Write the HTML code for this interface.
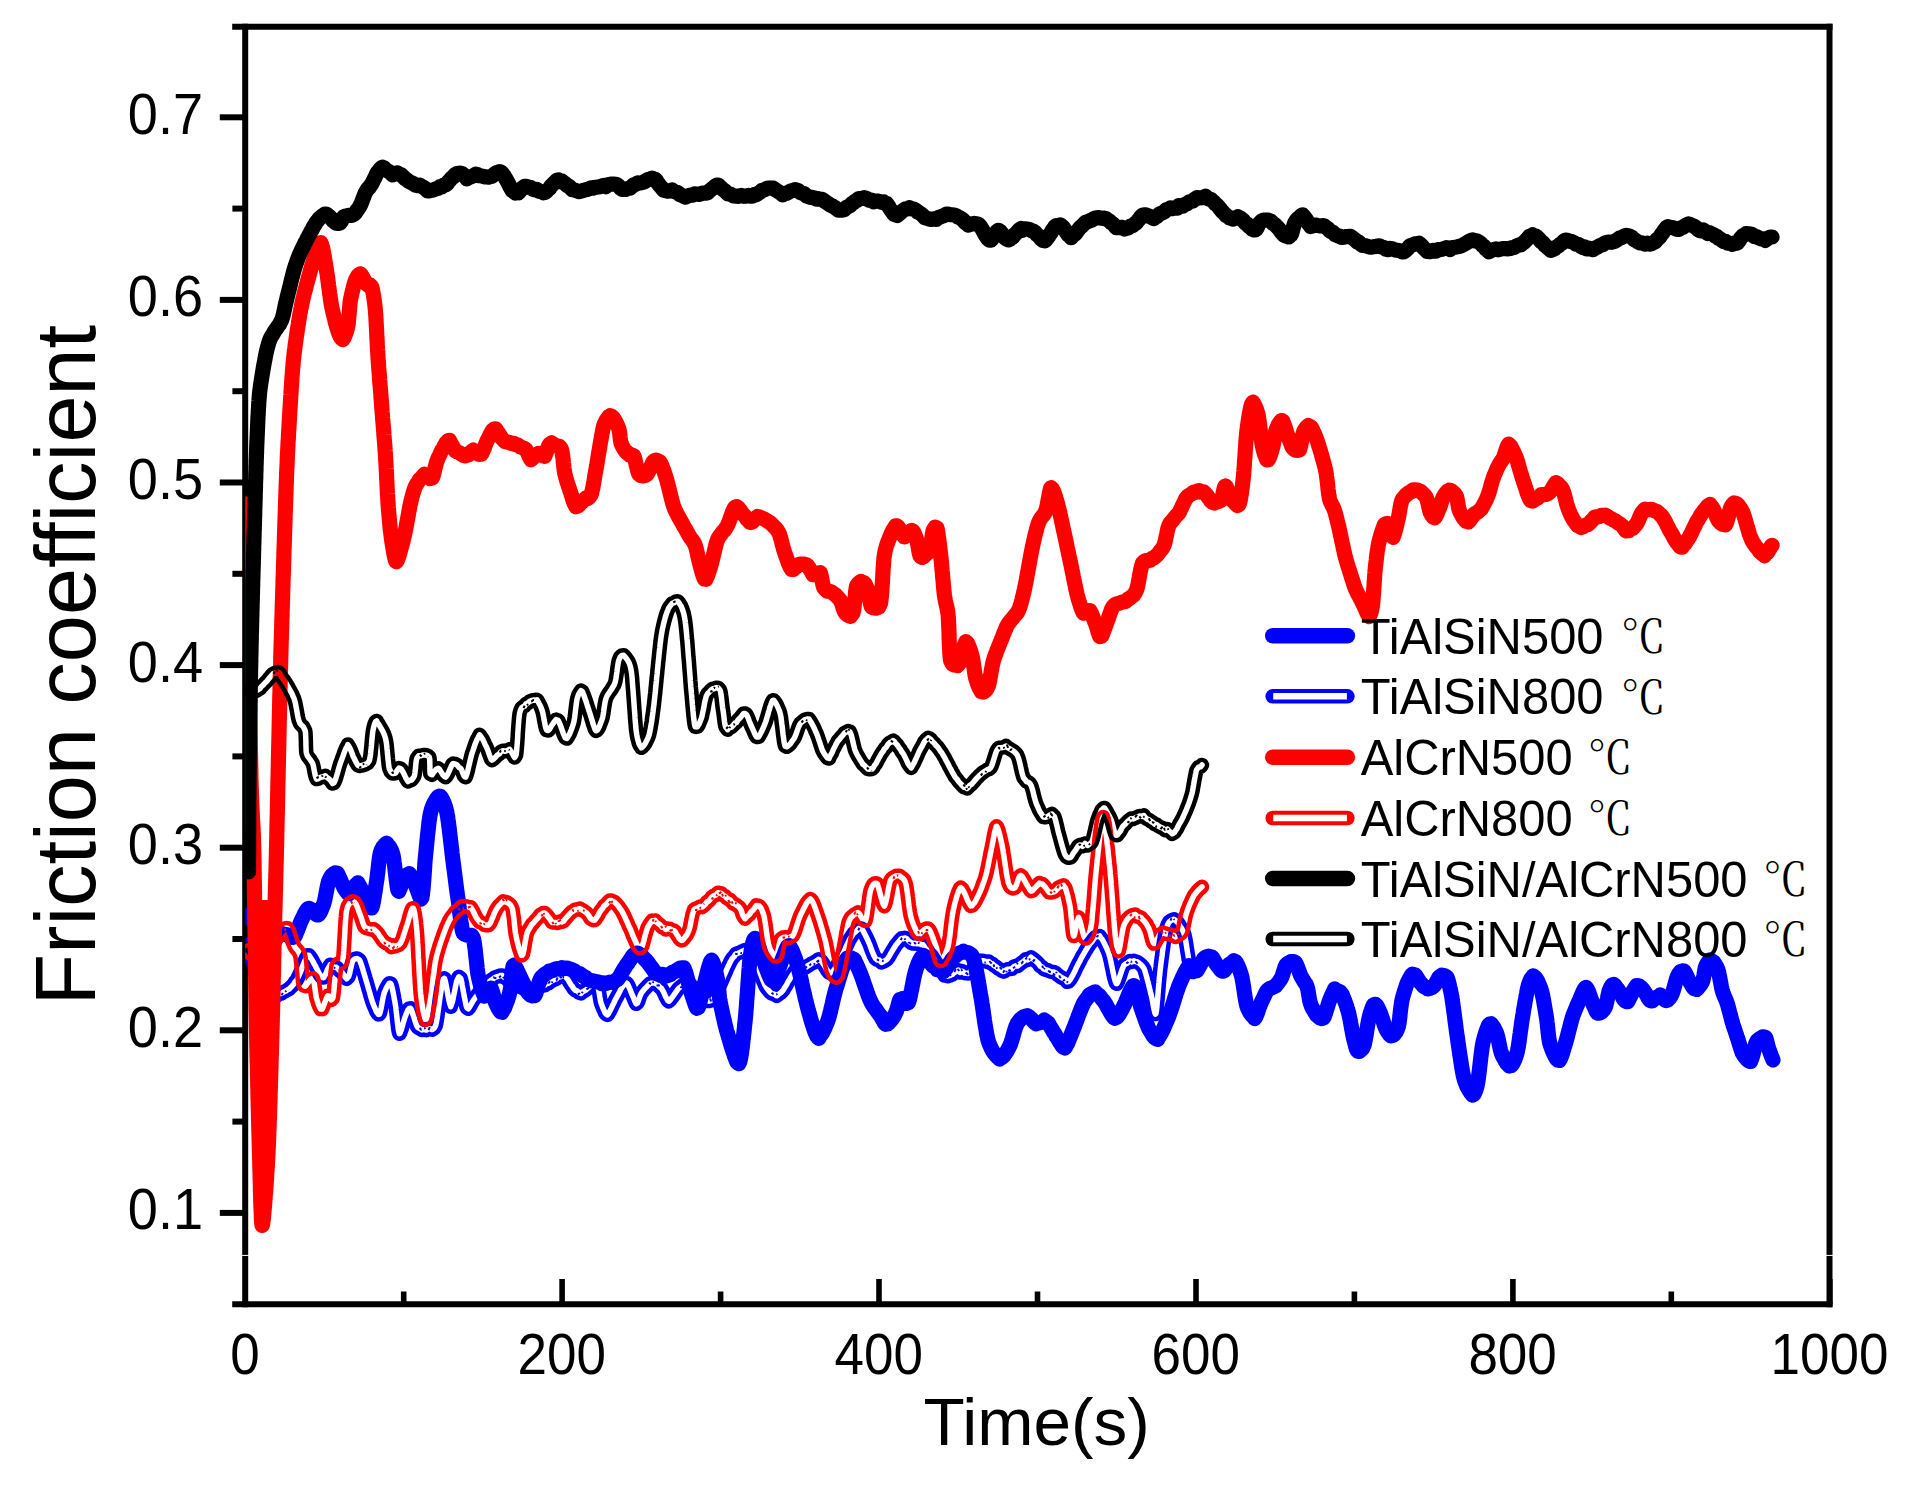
<!DOCTYPE html>
<html lang="en"><head><meta charset="utf-8"><title>Friction coefficient vs Time</title>
<style>html,body{margin:0;padding:0;background:#fff}body{width:1916px;height:1487px;overflow:hidden}</style></head>
<body>
<svg width="1916" height="1487" viewBox="0 0 1916 1487" style="display:block">
<rect width="1916" height="1487" fill="#fff"/>
<g stroke="#000" stroke-width="6" fill="none" stroke-linecap="butt">
<line x1="245.2" y1="23.8" x2="245.2" y2="1307.3"/>
<line x1="1829.5" y1="23.8" x2="1829.5" y2="1307.3"/>
<line x1="232.2" y1="26.8" x2="1832.5" y2="26.8"/>
<line x1="232.2" y1="1304.3" x2="1832.5" y2="1304.3"/>
<line x1="219.8" y1="1212.9" x2="245.2" y2="1212.9"/>
<line x1="219.8" y1="1030.3" x2="245.2" y2="1030.3"/>
<line x1="219.8" y1="847.7" x2="245.2" y2="847.7"/>
<line x1="219.8" y1="665.1" x2="245.2" y2="665.1"/>
<line x1="219.8" y1="482.5" x2="245.2" y2="482.5"/>
<line x1="219.8" y1="299.9" x2="245.2" y2="299.9"/>
<line x1="219.8" y1="117.3" x2="245.2" y2="117.3"/>
<line x1="232.4" y1="1121.6" x2="245.2" y2="1121.6"/>
<line x1="232.4" y1="939.0" x2="245.2" y2="939.0"/>
<line x1="232.4" y1="756.4" x2="245.2" y2="756.4"/>
<line x1="232.4" y1="573.8" x2="245.2" y2="573.8"/>
<line x1="232.4" y1="391.2" x2="245.2" y2="391.2"/>
<line x1="232.4" y1="208.6" x2="245.2" y2="208.6"/>
</g>
<g stroke="#000" stroke-width="5.6" fill="none" stroke-linecap="butt">
<line x1="562.1" y1="1279" x2="562.1" y2="1304.3"/>
<line x1="879.0" y1="1279" x2="879.0" y2="1304.3"/>
<line x1="1196.0" y1="1279" x2="1196.0" y2="1304.3"/>
<line x1="1512.9" y1="1279" x2="1512.9" y2="1304.3"/>
<line x1="1829.8" y1="1279" x2="1829.8" y2="1304.3"/>
<line x1="403.7" y1="1291.5" x2="403.7" y2="1304.3"/>
<line x1="720.6" y1="1291.5" x2="720.6" y2="1304.3"/>
<line x1="1037.5" y1="1291.5" x2="1037.5" y2="1304.3"/>
<line x1="1354.4" y1="1291.5" x2="1354.4" y2="1304.3"/>
<line x1="1671.3" y1="1291.5" x2="1671.3" y2="1304.3"/>
</g>
<clipPath id="plot"><rect x="245.2" y="26.8" width="1584.3" height="1277.5"/></clipPath>
<g clip-path="url(#plot)">
<path d="M246.3 915.4L247.3 915.8L248.7 917.6L250.5 919.0L252.4 920.7L254.5 922.8L256.4 923.9L258.0 924.9L259.7 926.7L261.6 926.4L263.8 926.8L266.1 927.5L268.2 928.6L270.3 929.8L272.0 930.4L274.0 931.2L276.3 932.3L278.8 933.0L281.1 933.2L283.3 934.1L285.0 934.3L287.3 934.9L289.8 936.9L292.1 937.5L294.0 936.9L294.9 936.3L295.8 934.3L296.8 931.9L297.8 929.5L298.8 927.0L299.7 924.4L300.6 922.2L301.4 920.5L302.3 918.6L303.4 916.4L304.5 914.0L305.7 911.8L306.9 910.0L308.0 908.5L309.0 908.4L310.5 909.1L312.4 910.2L314.4 913.0L316.2 914.5L317.7 915.0L318.8 914.5L319.9 912.9L321.0 910.6L322.1 907.9L323.1 905.5L324.0 902.9L324.4 901.4L324.8 899.6L325.3 897.4L325.7 895.0L326.2 892.6L326.7 890.1L327.1 887.7L327.6 885.4L328.1 883.4L328.5 881.6L329.0 880.5L330.2 877.9L331.8 875.4L333.5 874.0L335.2 872.9L336.6 873.3L337.4 873.4L338.4 875.3L339.4 877.4L340.5 879.7L341.5 882.2L342.5 884.6L343.4 886.5L344.1 887.8L345.7 890.3L347.4 892.8L349.1 893.5L350.2 892.1L351.7 890.3L353.4 888.2L355.1 885.4L356.6 884.6L357.9 882.8L358.9 885.0L360.0 886.7L361.2 889.0L362.4 891.3L363.5 893.9L364.5 896.2L365.4 897.7L366.6 900.5L368.0 903.5L369.4 906.3L370.6 907.7L371.7 907.9L372.1 907.1L372.4 905.9L372.9 904.1L373.3 902.1L373.7 899.8L374.1 897.3L374.5 894.7L375.0 892.0L375.4 889.3L375.7 886.8L376.1 884.3L376.4 882.2L376.7 880.3L377.0 878.5L377.2 876.4L377.5 874.1L377.8 871.8L378.1 869.3L378.3 866.8L378.6 864.3L378.9 861.9L379.2 859.6L379.5 857.5L379.8 855.6L380.1 854.0L380.4 852.7L381.4 849.8L382.7 847.4L384.1 845.7L385.5 844.1L386.7 843.2L387.6 845.0L388.7 846.0L389.9 847.3L391.1 849.7L392.1 852.1L393.0 855.2L393.3 856.6L393.6 858.3L393.9 860.5L394.2 862.8L394.6 865.4L394.9 868.1L395.2 870.9L395.6 873.8L395.9 876.6L396.2 879.3L396.6 881.9L396.9 884.3L397.2 886.3L397.5 888.1L397.7 889.5L398.0 890.3L398.9 891.3L399.9 888.8L401.0 885.8L402.0 882.4L403.0 880.1L404.4 878.2L406.1 876.0L407.8 874.5L409.3 873.7L410.2 875.0L411.3 876.7L412.4 878.6L413.5 881.0L414.6 883.4L415.5 885.4L416.5 887.7L417.6 890.9L418.8 894.2L419.9 897.1L421.0 899.1L421.8 897.8L422.0 897.1L422.2 895.9L422.4 894.4L422.6 892.6L422.8 890.6L423.1 888.4L423.3 885.9L423.5 883.4L423.7 880.7L423.9 877.9L424.1 875.1L424.3 872.3L424.5 869.5L424.7 866.8L424.8 864.1L425.0 861.6L425.2 859.3L425.4 857.1L425.6 855.2L425.8 853.3L426.0 851.2L426.2 849.0L426.4 846.7L426.7 844.2L426.9 841.7L427.2 839.1L427.4 836.5L427.7 833.9L428.0 831.3L428.3 828.7L428.6 826.2L428.8 823.8L429.1 821.5L429.4 819.4L429.7 817.4L430.0 815.6L430.3 814.0L430.6 812.6L431.4 809.6L432.4 806.7L433.6 803.9L434.9 801.7L436.1 799.4L437.4 797.7L438.5 796.4L439.4 796.2L440.3 796.3L441.2 797.4L442.2 799.1L443.3 801.1L444.3 803.6L445.3 806.3L446.1 809.4L446.9 812.6L447.1 813.9L447.4 815.4L447.7 817.0L447.9 818.9L448.2 820.9L448.5 823.1L448.8 825.4L449.1 827.8L449.4 830.2L449.7 832.8L450.0 835.3L450.3 837.9L450.6 840.5L450.9 843.1L451.2 845.7L451.5 848.2L451.8 850.7L452.0 853.0L452.3 855.3L452.5 857.4L452.8 859.4L453.0 861.2L453.2 862.8L453.5 864.9L453.8 867.1L454.1 869.4L454.4 871.7L454.7 874.1L455.0 876.5L455.3 878.9L455.6 881.3L455.9 883.7L456.2 886.0L456.5 888.3L456.8 890.6L457.1 892.8L457.4 894.8L457.7 896.8L458.0 898.7L458.2 900.4L458.5 902.4L458.8 904.6L459.0 906.9L459.3 909.4L459.6 911.9L460.0 914.5L460.3 917.1L460.6 919.6L461.0 922.1L461.3 924.4L461.7 926.6L462.0 928.6L462.4 930.4L462.8 931.8L463.2 933.0L464.8 934.3L467.0 935.2L469.4 935.4L471.6 935.4L473.2 937.9L473.5 939.2L473.9 940.7L474.2 942.5L474.5 944.6L474.8 946.9L475.2 949.4L475.4 952.0L475.7 954.7L476.0 957.4L476.3 960.1L476.6 962.8L476.9 965.4L477.1 967.9L477.4 970.2L477.7 972.3L477.9 974.1L478.2 975.6L478.7 978.0L479.3 980.5L479.9 983.0L480.6 985.5L481.3 987.9L482.0 990.1L482.7 992.1L483.3 993.7L484.0 995.1L484.5 996.2L486.0 994.6L487.7 992.0L489.4 989.5L490.8 988.0L491.5 989.2L492.2 991.1L492.9 993.5L493.7 996.4L494.4 999.0L495.1 1001.4L495.8 1003.2L496.8 1005.4L498.1 1008.0L499.5 1010.4L500.8 1011.9L502.0 1012.2L502.7 1010.9L503.5 1009.6L504.5 1008.1L505.4 1005.6L506.4 1003.2L507.4 1000.5L508.2 997.9L509.0 995.5L509.6 993.2L509.9 991.5L510.3 989.5L510.6 987.2L510.8 984.6L511.1 981.9L511.4 979.2L511.6 976.5L511.9 973.9L512.2 971.5L512.5 969.4L512.8 967.6L513.1 966.3L513.4 965.6L514.2 965.1L515.2 966.4L516.4 968.5L517.6 971.1L518.8 973.6L519.9 976.2L520.9 978.2L521.7 979.8L522.7 981.8L523.7 983.8L524.7 986.1L525.7 988.5L526.7 990.5L527.6 992.2L528.4 993.1L530.5 995.2L532.7 995.8L534.7 995.6L535.4 994.4L536.1 992.5L536.8 990.1L537.6 987.4L538.4 984.6L539.2 982.0L540.1 979.6L540.9 978.1L542.2 976.6L543.7 975.2L545.5 973.7L547.4 972.7L549.2 971.1L551.0 970.9L552.7 970.4L554.8 969.3L557.2 968.6L559.6 969.2L562.0 967.7L564.2 968.5L566.0 968.0L568.0 968.3L570.2 969.1L572.4 969.9L574.7 971.1L576.8 973.0L578.6 973.7L580.2 973.9L582.0 975.3L583.9 976.7L585.8 977.5L587.7 979.6L589.5 979.9L591.1 980.9L593.0 980.8L595.1 981.3L597.3 981.8L599.6 982.4L601.7 983.6L603.6 982.9L605.5 983.6L607.7 982.8L610.0 982.2L612.3 982.4L614.5 981.4L616.2 980.0L617.4 979.5L618.7 978.0L620.0 975.8L621.3 973.4L622.7 971.2L623.9 969.0L625.1 967.2L626.2 965.4L627.5 963.8L628.9 961.6L630.4 959.5L632.0 956.9L633.5 954.7L634.9 954.3L636.2 953.2L637.7 953.0L639.4 954.3L641.3 955.3L643.1 957.2L644.8 959.3L646.3 960.5L647.6 962.1L649.0 964.0L650.5 966.0L652.1 968.1L653.6 970.3L655.0 972.3L656.3 973.6L658.1 973.8L660.2 975.3L662.4 974.4L664.5 974.9L666.3 975.8L668.2 975.3L670.3 974.6L672.6 972.0L674.7 971.9L676.4 970.4L678.3 969.2L680.3 968.0L682.2 967.9L683.9 967.8L684.4 969.0L685.0 970.6L685.7 972.5L686.3 974.8L687.0 977.2L687.7 979.8L688.4 982.4L689.1 985.0L689.7 987.5L690.3 989.6L690.9 991.6L691.4 993.2L692.2 995.8L693.2 998.7L694.1 1001.6L695.1 1004.5L696.0 1006.8L696.9 1008.3L697.7 1007.6L698.2 1007.6L698.7 1006.5L699.3 1004.6L699.8 1002.5L700.4 1000.2L701.0 997.6L701.6 994.9L702.2 992.3L702.8 989.8L703.4 987.5L703.9 985.6L704.4 983.7L705.0 981.5L705.6 979.1L706.3 976.5L707.0 973.7L707.7 970.9L708.4 968.3L709.1 966.0L709.8 963.8L710.4 962.1L711.0 961.0L711.5 960.2L712.1 960.8L712.7 962.0L713.4 963.6L714.2 965.8L714.9 968.4L715.6 971.0L716.2 973.8L716.8 976.4L717.3 978.7L717.7 980.6L718.0 982.5L718.3 984.5L718.5 986.7L718.7 988.9L718.9 991.3L719.1 993.7L719.3 996.1L719.6 998.5L720.0 1000.9L720.3 1002.4L720.6 1004.2L721.0 1006.2L721.5 1008.3L722.0 1010.6L722.5 1013.0L723.0 1015.4L723.6 1018.0L724.2 1020.4L724.7 1022.9L725.3 1025.3L725.9 1027.6L726.4 1029.8L727.0 1031.7L727.5 1033.5L728.1 1035.3L728.7 1037.5L729.4 1039.9L730.2 1042.6L731.0 1045.4L731.9 1048.2L732.8 1051.0L733.7 1053.6L734.5 1056.2L735.4 1058.4L736.2 1060.3L737.0 1062.2L737.7 1062.9L738.3 1063.0L738.8 1063.7L739.2 1063.2L739.5 1062.4L739.9 1061.3L740.2 1059.9L740.6 1058.2L740.9 1056.3L741.3 1054.2L741.6 1051.9L741.9 1049.5L742.3 1046.9L742.6 1044.2L742.9 1041.5L743.2 1038.8L743.5 1036.0L743.8 1033.3L744.1 1030.6L744.4 1028.0L744.6 1025.5L744.9 1023.1L745.1 1020.9L745.3 1019.4L745.4 1017.7L745.6 1015.8L745.8 1013.9L745.9 1011.8L746.1 1009.6L746.3 1007.3L746.5 1004.9L746.6 1002.5L746.8 1000.0L747.0 997.5L747.2 994.9L747.4 992.3L747.6 989.7L747.8 987.1L747.9 984.5L748.1 982.0L748.3 979.5L748.5 977.0L748.7 974.7L748.8 972.3L749.0 970.1L749.2 968.0L749.3 966.0L749.5 964.1L749.7 962.4L749.8 960.8L750.0 959.4L750.1 958.2L750.6 954.6L751.1 951.2L751.6 948.1L752.2 945.3L752.8 942.9L753.4 940.9L754.0 939.4L754.5 938.8L755.1 938.4L755.7 938.7L756.3 939.7L757.0 941.4L757.8 943.6L758.6 946.1L759.4 948.8L760.3 951.4L761.1 953.9L761.9 956.2L762.6 958.2L763.3 960.0L764.1 962.3L765.0 964.8L766.0 967.5L767.0 970.2L768.0 972.9L769.1 975.6L770.1 977.6L771.0 979.6L771.9 980.4L772.7 981.0L773.5 980.5L774.4 979.3L775.3 977.6L776.3 975.1L777.4 972.6L778.4 969.8L779.4 967.2L780.4 964.4L781.3 961.9L782.0 959.8L782.7 958.1L783.8 955.6L784.9 952.7L785.9 949.8L787.0 947.5L788.0 945.9L789.0 945.7L789.7 946.2L790.4 947.3L791.3 949.0L792.2 950.6L793.2 953.1L794.1 955.5L795.1 957.9L796.0 960.6L796.9 963.2L797.7 965.8L798.1 967.2L798.5 968.8L799.0 970.6L799.5 972.5L800.0 974.7L800.5 976.9L801.0 979.2L801.6 981.7L802.1 984.2L802.7 986.7L803.2 989.2L803.8 991.7L804.4 994.2L804.9 996.6L805.4 998.9L806.0 1001.1L806.5 1003.1L806.9 1005.0L807.4 1006.9L807.8 1008.3L808.4 1010.6L809.1 1013.0L809.8 1015.3L810.5 1018.0L811.2 1020.6L812.0 1023.2L812.8 1025.6L813.6 1028.2L814.4 1030.5L815.1 1032.4L815.9 1034.2L816.5 1035.6L817.2 1036.6L817.8 1037.3L818.8 1038.4L819.9 1036.3L821.1 1034.8L822.3 1033.2L823.5 1030.7L824.8 1028.2L825.9 1025.5L826.9 1023.1L827.8 1020.9L828.3 1019.5L828.8 1017.7L829.4 1015.7L829.9 1013.6L830.5 1011.4L831.0 1008.9L831.6 1006.5L832.2 1004.1L832.7 1001.6L833.3 999.2L833.8 996.9L834.4 994.6L834.9 992.6L835.4 990.8L835.9 988.9L836.6 986.8L837.3 984.6L838.0 982.1L838.8 979.6L839.6 977.0L840.4 974.4L841.2 971.9L842.0 969.4L842.8 967.3L843.5 965.2L844.2 963.5L844.9 962.0L845.4 960.9L847.3 958.3L849.3 957.4L851.2 958.1L852.9 958.8L853.7 959.0L854.6 960.1L855.5 962.3L856.5 964.1L857.5 966.5L858.5 968.8L859.5 971.2L860.4 973.3L861.0 974.8L861.7 976.6L862.4 978.7L863.2 980.9L864.0 983.4L864.9 985.9L865.8 988.4L866.6 990.8L867.5 993.3L868.3 995.6L869.1 997.6L869.8 999.3L870.5 1000.8L871.6 1003.1L872.9 1005.3L874.3 1007.5L875.7 1009.2L877.1 1011.3L878.4 1013.1L879.6 1014.7L880.5 1015.9L881.8 1018.1L883.1 1020.4L884.3 1022.7L885.6 1024.2L886.8 1023.8L888.0 1023.8L889.5 1021.9L891.2 1020.3L892.9 1018.0L894.4 1015.4L895.5 1013.4L896.3 1011.5L897.0 1009.1L897.8 1006.5L898.5 1003.8L899.2 1001.4L899.9 999.5L900.6 999.5L902.2 998.7L904.2 1001.8L906.3 1003.4L908.1 1003.1L908.5 1002.4L909.0 1001.0L909.5 999.2L910.0 997.1L910.5 994.7L911.0 992.1L911.6 989.5L912.1 986.8L912.7 983.9L913.2 981.2L913.7 978.7L914.2 976.3L914.7 974.2L915.2 972.2L915.6 970.8L916.4 968.4L917.3 965.9L918.2 963.4L919.2 961.2L920.2 959.2L921.2 957.6L922.2 956.5L923.1 955.3L924.5 956.2L926.2 957.9L928.0 959.5L929.9 962.3L931.7 964.5L933.2 966.2L935.0 966.6L937.1 969.6L939.3 969.4L941.4 970.9L943.2 972.1L944.5 969.5L945.9 968.8L947.4 966.3L949.0 964.2L950.5 961.9L951.9 959.7L953.2 958.0L955.0 956.5L957.1 954.5L959.4 952.9L961.5 952.6L963.3 951.2L965.1 952.3L967.3 952.5L969.5 953.5L971.6 955.1L973.3 958.1L973.7 959.4L974.2 960.8L974.6 962.5L975.1 964.5L975.5 966.6L976.0 968.9L976.5 971.3L976.9 973.8L977.4 976.4L977.9 979.0L978.3 981.6L978.8 984.3L979.2 986.8L979.6 989.3L980.0 991.6L980.4 993.9L980.8 995.9L981.1 997.6L981.4 999.4L981.7 1001.4L982.0 1003.6L982.4 1005.8L982.7 1008.2L983.1 1010.6L983.4 1013.1L983.8 1015.7L984.2 1018.2L984.5 1020.7L984.9 1023.2L985.3 1025.7L985.7 1028.1L986.1 1030.3L986.4 1032.5L986.8 1034.5L987.2 1036.4L987.6 1038.2L987.9 1039.7L988.3 1041.0L989.1 1043.5L990.2 1045.9L991.3 1048.4L992.5 1050.7L993.8 1052.8L995.1 1054.3L996.4 1056.0L997.6 1057.2L998.7 1058.2L999.6 1059.0L1000.9 1058.1L1002.4 1057.2L1004.0 1055.6L1005.6 1053.1L1007.2 1050.8L1008.6 1048.2L1009.7 1045.9L1010.4 1044.5L1011.0 1042.7L1011.7 1040.5L1012.4 1038.3L1013.1 1035.7L1013.8 1033.2L1014.5 1030.8L1015.2 1028.6L1015.9 1026.6L1016.6 1025.0L1017.2 1023.5L1018.6 1021.7L1020.3 1019.5L1022.1 1017.9L1024.0 1016.7L1025.8 1016.1L1027.2 1015.7L1028.8 1016.6L1030.7 1018.2L1032.5 1020.2L1034.4 1022.2L1036.0 1023.9L1037.7 1022.8L1039.8 1022.8L1042.0 1022.1L1044.2 1020.1L1046.0 1021.3L1047.1 1022.1L1048.3 1023.0L1049.7 1025.6L1051.1 1027.9L1052.4 1030.0L1053.8 1032.6L1055.0 1034.1L1056.0 1036.2L1057.2 1037.8L1058.4 1039.8L1059.8 1042.3L1061.1 1044.1L1062.5 1046.3L1063.7 1047.4L1064.8 1047.9L1065.6 1046.9L1066.6 1045.1L1067.6 1043.3L1068.6 1040.9L1069.7 1038.2L1070.7 1035.8L1071.7 1033.2L1072.7 1030.7L1073.6 1028.6L1074.3 1026.9L1075.0 1024.8L1075.8 1022.8L1076.7 1020.5L1077.6 1018.1L1078.5 1015.5L1079.5 1013.0L1080.4 1010.7L1081.3 1008.5L1082.1 1006.6L1082.9 1004.7L1083.6 1003.2L1084.9 1001.2L1086.3 999.3L1087.9 997.3L1089.4 994.9L1091.0 993.9L1092.4 993.1L1093.7 992.5L1095.2 991.9L1096.9 993.7L1098.6 994.9L1100.4 996.9L1102.2 999.4L1103.7 1000.9L1104.7 1002.5L1106.0 1004.6L1107.3 1007.1L1108.7 1009.5L1110.1 1011.9L1111.5 1014.3L1112.8 1016.2L1114.0 1017.7L1115.0 1018.3L1116.2 1017.5L1117.5 1016.8L1118.8 1014.9L1120.1 1012.8L1121.4 1010.5L1122.7 1008.1L1123.8 1005.9L1124.6 1004.2L1125.6 1002.1L1126.6 999.5L1127.7 996.9L1128.9 994.0L1130.0 991.4L1131.1 989.4L1132.1 987.4L1133.0 985.9L1133.8 985.7L1134.5 986.0L1135.1 987.3L1135.9 989.1L1136.6 991.3L1137.3 993.8L1138.0 996.5L1138.8 999.1L1139.4 1001.8L1140.1 1004.3L1140.7 1006.6L1141.3 1008.4L1141.9 1010.2L1142.6 1012.2L1143.4 1014.5L1144.2 1016.8L1145.0 1019.1L1145.8 1021.4L1146.6 1023.5L1147.4 1025.3L1148.1 1027.2L1148.8 1028.8L1150.0 1030.7L1151.5 1033.2L1153.0 1035.8L1154.6 1037.7L1156.2 1038.8L1157.6 1039.5L1158.4 1037.7L1159.3 1036.4L1160.4 1034.7L1161.5 1032.8L1162.6 1030.5L1163.8 1028.1L1164.9 1025.4L1166.0 1022.7L1167.1 1020.4L1168.1 1018.0L1168.9 1016.0L1169.5 1014.3L1170.2 1012.3L1170.9 1010.3L1171.7 1008.0L1172.4 1005.7L1173.2 1003.2L1174.0 1000.7L1174.7 998.2L1175.5 995.8L1176.2 993.4L1177.0 991.2L1177.7 989.2L1178.3 987.3L1178.9 985.6L1179.8 983.6L1180.8 981.4L1181.8 979.0L1183.0 976.4L1184.1 974.2L1185.2 971.9L1186.3 970.0L1187.3 968.2L1188.2 967.1L1189.0 965.6L1190.8 967.0L1192.6 968.5L1194.4 970.2L1196.0 970.4L1197.0 970.7L1198.1 968.6L1199.3 966.7L1200.5 964.6L1201.7 962.3L1202.9 960.5L1203.8 958.6L1206.1 956.9L1208.5 956.1L1210.7 956.9L1211.7 956.8L1213.0 958.4L1214.2 960.5L1215.5 962.9L1216.7 964.8L1217.6 965.9L1219.3 968.0L1221.0 970.4L1222.7 971.1L1224.2 970.9L1226.1 968.0L1228.0 966.2L1229.6 963.8L1231.6 963.1L1233.7 960.8L1235.6 961.8L1236.4 962.8L1237.3 964.4L1238.2 966.4L1239.2 968.7L1240.1 971.3L1241.0 973.9L1241.7 976.5L1242.1 978.0L1242.4 980.0L1242.8 982.2L1243.2 984.6L1243.6 987.2L1244.0 989.9L1244.4 992.6L1244.8 995.3L1245.2 997.8L1245.6 1000.2L1246.0 1002.3L1246.4 1004.2L1246.8 1005.6L1247.7 1008.3L1248.8 1010.4L1250.0 1012.8L1251.3 1014.6L1252.5 1016.1L1253.7 1016.8L1254.6 1018.6L1255.4 1017.6L1256.3 1015.6L1257.2 1013.5L1258.1 1010.9L1259.0 1008.2L1259.8 1006.0L1260.6 1004.1L1261.4 1002.1L1262.4 1000.0L1263.5 997.7L1264.6 995.4L1265.6 993.3L1266.6 991.4L1267.5 990.2L1269.7 988.5L1272.2 987.7L1274.4 986.5L1275.7 986.0L1277.2 983.8L1278.7 982.0L1280.1 980.1L1281.3 978.2L1282.0 976.5L1282.7 974.6L1283.4 972.1L1284.2 969.7L1284.9 967.5L1285.7 965.6L1286.5 964.2L1288.3 963.0L1290.8 961.7L1293.2 961.6L1295.1 962.2L1296.0 963.6L1296.9 965.5L1297.8 967.8L1298.7 970.2L1299.6 972.6L1300.4 974.9L1301.1 976.4L1302.2 978.2L1303.5 980.5L1304.9 982.8L1306.1 984.3L1307.1 986.8L1307.6 988.4L1308.0 990.5L1308.4 992.8L1308.8 995.3L1309.2 997.8L1309.6 1000.2L1310.1 1002.3L1310.6 1003.9L1311.5 1006.3L1312.6 1008.5L1313.9 1010.5L1315.3 1013.0L1316.5 1015.1L1317.5 1015.9L1319.5 1017.7L1321.6 1018.6L1323.5 1017.9L1324.2 1016.7L1324.9 1014.7L1325.7 1012.4L1326.5 1009.8L1327.4 1007.1L1328.2 1004.5L1328.9 1002.3L1329.5 1000.6L1330.5 998.1L1331.5 995.7L1332.6 993.2L1333.7 991.2L1334.7 988.9L1336.2 990.5L1338.1 990.9L1340.0 991.7L1341.6 993.7L1342.3 994.8L1343.0 996.8L1343.9 998.7L1344.7 1001.0L1345.6 1003.4L1346.4 1005.6L1347.2 1008.2L1347.9 1010.4L1348.5 1012.6L1348.9 1014.3L1349.3 1016.2L1349.8 1018.5L1350.3 1020.8L1350.7 1023.3L1351.2 1025.8L1351.6 1028.4L1352.1 1030.8L1352.5 1033.1L1352.9 1035.2L1353.3 1037.0L1353.6 1038.5L1354.3 1041.2L1355.0 1043.9L1355.7 1046.5L1356.4 1048.9L1357.2 1050.5L1357.9 1051.3L1359.2 1051.5L1360.9 1050.2L1362.6 1048.5L1364.0 1045.3L1364.4 1044.0L1364.7 1042.4L1365.1 1040.4L1365.5 1038.2L1366.0 1035.8L1366.4 1033.2L1366.8 1030.6L1367.2 1028.1L1367.6 1025.6L1368.0 1023.2L1368.4 1021.1L1368.8 1019.2L1369.1 1017.9L1369.7 1015.4L1370.5 1012.9L1371.3 1010.4L1372.1 1008.0L1372.9 1006.2L1373.6 1004.7L1374.3 1004.5L1375.5 1004.3L1376.8 1005.7L1378.2 1008.3L1379.5 1011.2L1380.1 1012.3L1380.8 1014.3L1381.6 1016.7L1382.4 1019.0L1383.3 1021.7L1384.1 1024.3L1384.9 1026.5L1385.7 1028.3L1386.3 1029.8L1387.8 1032.2L1389.4 1034.5L1391.0 1036.0L1392.4 1034.8L1393.5 1035.2L1394.8 1033.6L1396.2 1031.7L1397.4 1029.1L1398.4 1026.4L1398.7 1025.0L1399.0 1023.3L1399.3 1021.2L1399.6 1019.0L1399.9 1016.5L1400.1 1014.0L1400.4 1011.4L1400.7 1008.9L1401.0 1006.5L1401.3 1004.3L1401.6 1002.3L1401.9 1000.6L1402.4 998.5L1403.0 996.2L1403.7 993.8L1404.4 991.5L1405.2 988.9L1405.9 986.8L1406.6 984.7L1407.3 982.9L1407.9 981.6L1409.3 978.8L1410.9 976.1L1412.5 974.1L1413.9 974.6L1415.1 974.7L1416.5 976.8L1418.1 979.3L1419.5 981.7L1420.8 983.1L1422.4 985.1L1424.2 986.9L1426.1 987.3L1427.7 988.9L1430.0 988.3L1432.5 987.2L1434.6 985.3L1435.6 983.7L1436.6 981.6L1437.7 979.6L1438.7 977.7L1439.7 976.6L1441.8 975.1L1444.4 975.6L1446.6 976.8L1447.1 977.6L1447.6 978.9L1448.2 980.7L1448.7 982.7L1449.3 984.9L1449.8 987.3L1450.4 989.7L1450.9 992.2L1451.4 994.7L1451.8 997.1L1452.1 998.6L1452.3 1000.3L1452.6 1002.2L1452.9 1004.3L1453.2 1006.5L1453.5 1008.8L1453.8 1011.2L1454.2 1013.7L1454.5 1016.2L1454.8 1018.7L1455.1 1021.3L1455.5 1023.8L1455.8 1026.2L1456.1 1028.6L1456.4 1030.9L1456.7 1033.0L1457.0 1035.0L1457.3 1036.7L1457.5 1038.6L1457.8 1040.7L1458.1 1042.9L1458.5 1045.2L1458.8 1047.6L1459.2 1050.1L1459.5 1052.5L1459.9 1055.1L1460.3 1057.6L1460.7 1060.2L1461.0 1062.6L1461.4 1065.0L1461.8 1067.4L1462.2 1069.6L1462.5 1071.6L1462.9 1073.5L1463.2 1075.3L1463.6 1076.8L1463.9 1078.1L1464.8 1081.1L1465.9 1083.8L1467.0 1086.6L1468.3 1089.0L1469.5 1090.9L1470.7 1092.7L1471.7 1094.0L1472.5 1095.1L1473.4 1094.6L1474.3 1093.7L1475.2 1091.7L1476.1 1089.3L1476.9 1086.4L1477.6 1083.2L1477.8 1081.9L1478.1 1080.3L1478.3 1078.5L1478.6 1076.4L1478.9 1074.1L1479.2 1071.7L1479.5 1069.1L1479.8 1066.5L1480.1 1063.8L1480.4 1061.1L1480.7 1058.5L1481.0 1055.9L1481.3 1053.4L1481.7 1051.0L1481.9 1048.8L1482.2 1046.8L1482.5 1045.1L1482.8 1043.6L1483.3 1041.1L1484.0 1038.6L1484.7 1036.0L1485.4 1033.6L1486.2 1031.2L1486.9 1029.2L1487.7 1027.2L1488.4 1025.4L1489.1 1024.7L1489.7 1024.1L1491.0 1023.7L1492.5 1025.5L1494.0 1027.9L1495.4 1030.6L1496.6 1033.2L1497.1 1034.7L1497.6 1036.6L1498.1 1038.7L1498.6 1041.0L1499.1 1043.5L1499.6 1046.0L1500.1 1048.4L1500.6 1050.5L1501.2 1052.6L1501.7 1053.9L1502.6 1056.0L1503.8 1058.2L1505.2 1060.7L1506.6 1063.1L1508.0 1064.6L1509.3 1066.1L1510.3 1065.5L1511.2 1065.6L1512.3 1064.5L1513.4 1062.4L1514.5 1060.2L1515.5 1057.6L1516.4 1055.0L1517.2 1052.2L1517.5 1050.9L1517.8 1049.2L1518.2 1047.4L1518.5 1045.4L1518.8 1043.2L1519.2 1040.9L1519.5 1038.4L1519.8 1035.9L1520.2 1033.4L1520.5 1030.9L1520.9 1028.4L1521.2 1026.1L1521.5 1023.8L1521.8 1021.6L1522.1 1019.6L1522.4 1017.8L1522.7 1015.9L1523.1 1013.8L1523.4 1011.5L1523.8 1009.1L1524.3 1006.6L1524.7 1004.0L1525.1 1001.4L1525.6 998.9L1526.0 996.4L1526.5 994.1L1526.9 991.8L1527.3 989.7L1527.7 987.9L1528.1 986.4L1528.4 985.1L1529.5 982.1L1530.7 979.3L1532.0 977.5L1533.3 975.9L1534.4 976.9L1535.2 977.4L1536.2 978.6L1537.3 980.4L1538.4 982.7L1539.5 985.2L1540.5 987.7L1541.3 990.2L1541.7 991.7L1542.1 993.3L1542.5 995.3L1543.0 997.5L1543.4 999.8L1543.9 1002.2L1544.3 1004.7L1544.7 1007.1L1545.1 1009.5L1545.5 1011.8L1545.9 1014.0L1546.2 1016.0L1546.5 1017.8L1546.8 1019.7L1547.0 1021.8L1547.3 1024.0L1547.5 1026.4L1547.8 1028.8L1548.0 1031.2L1548.3 1033.6L1548.6 1035.9L1548.8 1038.1L1549.2 1040.2L1549.5 1042.0L1549.9 1043.6L1550.6 1045.8L1551.4 1048.1L1552.4 1050.5L1553.5 1053.2L1554.7 1055.5L1555.8 1057.8L1556.9 1059.2L1557.8 1060.1L1558.6 1060.0L1559.4 1060.3L1560.3 1059.0L1561.2 1056.8L1562.1 1054.4L1563.0 1051.5L1563.9 1048.6L1564.7 1046.0L1565.4 1043.6L1565.9 1042.0L1566.4 1040.0L1567.0 1038.0L1567.6 1035.6L1568.2 1033.2L1568.8 1030.7L1569.5 1028.2L1570.1 1025.8L1570.7 1023.4L1571.3 1021.3L1571.8 1019.4L1572.3 1017.8L1573.0 1015.5L1573.9 1013.2L1574.8 1010.9L1575.8 1008.7L1576.7 1006.3L1577.6 1004.2L1578.5 1002.3L1579.2 1000.7L1580.1 998.6L1581.1 996.2L1582.1 993.7L1583.2 991.2L1584.2 989.3L1585.2 987.9L1586.1 987.4L1586.9 988.5L1587.7 989.8L1588.7 992.0L1589.6 994.7L1590.6 997.5L1591.5 1000.1L1592.3 1002.3L1593.0 1004.1L1594.0 1006.3L1595.1 1008.6L1596.1 1011.1L1597.2 1013.0L1598.2 1013.2L1599.7 1013.0L1601.7 1012.0L1603.6 1009.9L1605.1 1007.5L1605.7 1006.1L1606.2 1003.9L1606.8 1001.5L1607.4 998.9L1607.9 996.2L1608.5 993.8L1608.9 991.6L1609.4 990.3L1610.7 987.3L1612.2 984.9L1613.7 984.4L1614.8 985.4L1616.3 987.5L1617.9 989.3L1619.4 991.8L1620.6 993.4L1621.7 995.4L1623.0 998.0L1624.3 1000.0L1625.5 1001.1L1626.6 1001.6L1627.7 1001.7L1629.0 999.3L1630.3 996.7L1631.6 994.1L1632.6 991.9L1633.8 990.0L1635.2 987.6L1636.5 985.6L1637.8 985.6L1639.3 986.0L1641.2 987.6L1643.1 989.7L1644.7 991.9L1645.8 993.6L1647.0 995.7L1648.2 998.1L1649.4 999.9L1650.7 1000.8L1652.3 1000.8L1654.3 998.8L1656.6 997.3L1658.6 996.9L1660.2 994.9L1661.8 996.3L1663.4 998.3L1664.9 1000.0L1666.2 1000.6L1667.6 1000.1L1669.2 998.5L1670.9 996.1L1672.2 993.7L1672.8 992.1L1673.4 990.1L1674.1 987.6L1674.8 985.0L1675.5 982.4L1676.2 980.0L1676.8 978.0L1677.4 976.5L1678.7 973.9L1680.4 971.7L1682.0 971.1L1683.4 970.8L1684.3 971.2L1685.3 973.1L1686.5 975.3L1687.6 977.8L1688.6 980.0L1689.5 981.4L1690.9 983.6L1692.5 986.6L1694.1 988.7L1695.5 988.9L1696.7 989.4L1698.3 987.6L1699.9 985.7L1701.3 983.8L1702.4 981.7L1703.0 980.0L1703.5 977.7L1704.0 975.1L1704.4 972.4L1704.9 969.9L1705.3 967.7L1705.8 966.2L1706.9 963.9L1708.2 962.1L1709.7 960.0L1711.0 960.8L1712.2 961.0L1713.7 962.0L1715.3 964.7L1716.8 967.2L1717.9 969.6L1718.3 971.0L1718.8 972.9L1719.2 975.0L1719.7 977.3L1720.1 979.7L1720.6 982.1L1721.0 984.5L1721.4 986.7L1721.8 988.6L1722.2 990.2L1722.8 992.2L1723.5 994.1L1724.3 996.2L1725.2 998.3L1726.0 1000.1L1726.7 1002.1L1727.4 1004.0L1727.9 1005.7L1728.4 1007.7L1729.0 1009.8L1729.6 1012.2L1730.3 1014.6L1730.9 1017.0L1731.5 1019.3L1732.0 1021.3L1732.5 1022.9L1733.1 1025.2L1733.9 1027.3L1734.7 1029.7L1735.5 1032.1L1736.3 1034.4L1737.0 1036.6L1737.7 1038.5L1738.3 1040.5L1739.0 1042.9L1739.8 1045.4L1740.6 1048.0L1741.4 1050.4L1742.1 1052.5L1742.9 1053.7L1744.2 1056.0L1745.9 1058.0L1747.6 1060.0L1749.3 1061.3L1750.6 1061.4L1751.3 1059.6L1752.0 1057.9L1752.7 1055.6L1753.4 1052.8L1754.1 1050.0L1754.7 1047.4L1755.3 1045.2L1755.8 1043.5L1757.2 1040.8L1758.7 1039.5L1760.1 1038.5L1762.7 1036.8L1765.2 1037.2L1765.8 1037.8L1766.4 1039.7L1767.0 1042.2L1767.6 1044.6L1768.2 1046.9L1768.7 1048.8L1769.5 1050.8L1770.5 1053.6L1771.5 1056.3L1772.4 1058.6L1773.0 1060.0" fill="none" stroke="#0000ff" stroke-width="15.2" stroke-linecap="round" stroke-linejoin="round"/>
<mask id="hm1" maskUnits="userSpaceOnUse" x="0" y="0" width="1916" height="1487"><rect width="1916" height="1487" fill="#fff"/><path d="M247.0 945.0L247.4 946.0L247.8 947.4L248.4 949.0L249.0 950.8L249.8 953.1L250.5 955.4L251.4 957.8L252.2 960.3L253.1 962.7L254.0 965.1L254.9 967.4L255.7 969.7L256.5 971.7L257.3 973.6L258.0 975.1L259.0 976.8L260.1 979.1L261.4 981.2L262.7 983.6L264.1 986.0L265.5 987.9L266.9 989.4L268.3 991.8L269.6 992.6L270.9 994.8L272.0 994.7L273.9 995.4L276.2 996.4L278.7 993.7L281.3 993.6L283.7 991.9L285.9 990.9L287.6 989.7L289.1 989.2L290.6 987.4L292.2 985.9L293.7 984.2L295.1 981.7L296.5 980.4L297.7 978.1L298.5 976.4L299.4 974.5L300.3 972.4L301.3 969.8L302.3 967.0L303.3 964.5L304.3 962.0L305.3 959.8L306.2 957.8L307.0 956.6L307.7 955.2L308.9 955.2L310.2 957.0L311.6 959.0L312.9 961.3L314.1 963.8L315.2 965.6L316.1 967.4L317.2 969.5L318.4 971.9L319.6 974.3L320.8 976.1L321.9 977.4L322.8 976.7L323.7 977.6L324.8 975.8L325.9 973.6L327.0 970.8L328.1 968.5L329.3 966.5L330.3 964.7L332.0 966.2L334.2 967.1L336.4 967.3L338.6 969.6L340.3 971.2L341.8 971.9L343.5 974.6L345.1 977.0L346.6 978.9L347.8 977.5L348.4 977.0L349.1 975.2L349.8 972.7L350.4 969.8L351.1 966.9L351.7 964.2L352.3 962.1L352.9 960.5L354.8 958.9L357.1 958.5L359.1 959.7L359.7 960.4L360.4 962.0L361.1 964.0L361.8 966.2L362.6 968.6L363.3 971.1L364.1 973.7L364.8 976.0L365.4 978.1L365.9 979.7L366.5 981.8L367.1 983.8L367.8 986.2L368.4 988.6L369.2 991.0L369.9 993.5L370.5 995.9L371.2 998.1L371.8 1000.0L372.4 1001.9L372.9 1003.3L373.9 1005.8L375.0 1008.3L376.2 1011.2L377.3 1013.0L378.3 1014.4L379.2 1014.3L379.7 1013.6L380.2 1012.2L380.7 1010.1L381.2 1007.7L381.7 1004.9L382.2 1002.1L382.7 999.4L383.2 996.9L383.7 994.8L384.2 993.1L385.3 990.3L386.6 987.4L388.1 984.9L389.4 983.2L390.5 983.5L390.9 983.9L391.4 985.1L391.9 986.9L392.4 989.0L392.9 991.3L393.4 993.8L393.9 996.4L394.3 998.9L394.8 1001.4L395.2 1003.7L395.5 1005.7L395.8 1007.5L396.0 1009.6L396.3 1012.0L396.6 1014.6L396.9 1017.4L397.2 1020.1L397.5 1022.9L397.8 1025.4L398.1 1027.8L398.4 1029.9L398.7 1031.5L399.0 1032.6L399.3 1033.7L399.9 1033.5L400.6 1031.4L401.5 1029.3L402.3 1026.3L403.2 1023.1L404.1 1020.1L404.9 1017.4L405.5 1015.9L406.7 1012.8L407.9 1010.0L409.2 1008.5L410.5 1008.2L411.1 1009.1L411.7 1010.6L412.4 1012.7L413.2 1015.2L414.1 1017.8L414.9 1020.6L415.7 1023.0L416.6 1025.4L417.4 1026.9L418.1 1027.7L419.8 1028.4L422.0 1029.9L424.2 1029.3L426.4 1030.1L428.1 1028.7L430.0 1028.7L432.1 1029.6L434.1 1028.3L435.6 1025.9L435.9 1024.7L436.3 1023.1L436.6 1021.1L437.0 1019.0L437.4 1016.6L437.7 1014.1L438.1 1011.4L438.5 1008.7L438.8 1006.0L439.2 1003.4L439.5 1000.9L439.8 998.6L440.1 996.4L440.4 994.7L440.6 993.2L441.1 990.3L441.6 987.1L442.2 984.1L442.7 981.3L443.3 979.2L443.8 978.6L444.4 978.3L444.7 978.9L445.1 980.4L445.6 982.5L446.1 985.0L446.6 987.9L447.2 990.9L447.7 993.9L448.3 996.9L448.8 999.7L449.3 1002.0L449.8 1004.0L450.3 1005.2L450.7 1006.8L451.1 1005.5L451.6 1004.2L452.2 1002.5L452.8 1000.2L453.3 997.5L453.9 994.7L454.5 991.7L455.1 988.8L455.6 986.1L456.1 983.8L456.5 981.8L456.9 980.7L458.8 976.8L460.7 978.4L461.0 979.2L461.4 980.8L461.8 982.8L462.2 985.2L462.7 987.7L463.2 990.5L463.7 993.4L464.2 996.2L464.8 999.0L465.3 1001.6L465.7 1003.9L466.2 1005.8L466.6 1007.2L467.0 1007.9L468.3 1008.8L469.8 1006.7L471.5 1003.7L473.2 1000.6L474.1 999.5L475.2 997.8L476.5 996.2L477.9 994.1L479.4 992.0L480.8 989.8L482.3 987.7L483.7 986.3L485.0 985.0L486.6 984.1L488.5 982.5L490.6 980.6L492.8 979.1L495.0 977.3L497.2 976.6L499.1 976.0L500.8 975.4L502.4 975.4L504.2 977.4L506.0 977.7L507.9 980.2L509.9 981.6L511.7 983.3L513.4 983.7L515.0 985.3L516.8 985.3L518.9 986.7L521.1 987.1L523.4 988.4L525.8 989.2L528.0 990.5L530.0 990.7L531.7 989.6L533.6 989.1L535.8 988.1L538.1 987.1L540.4 985.8L542.7 985.6L544.9 985.1L546.8 983.5L548.5 983.3L550.3 981.7L552.3 980.6L554.3 979.5L556.4 978.8L558.5 977.0L560.4 976.7L562.1 975.5L563.5 975.0L565.0 975.7L566.5 977.9L568.1 979.9L569.6 982.6L571.1 984.9L572.4 986.5L573.5 988.4L575.3 990.3L577.1 990.8L579.0 992.5L581.1 993.4L582.5 991.9L584.3 990.9L586.5 989.6L588.7 987.5L591.0 985.7L593.1 984.3L594.8 982.7L596.1 984.4L596.9 984.1L597.6 985.8L598.2 988.0L598.8 990.7L599.3 993.5L599.7 996.4L600.2 999.1L600.6 1001.5L601.1 1003.3L602.0 1005.6L603.0 1008.2L604.1 1010.7L605.2 1013.1L606.3 1014.2L607.4 1014.9L608.3 1013.8L609.3 1012.0L610.4 1010.1L611.6 1007.6L612.8 1004.9L614.1 1002.4L615.2 999.9L616.2 998.2L617.2 996.3L618.4 994.1L619.8 991.5L621.1 988.7L622.5 986.5L623.9 984.6L625.1 983.1L626.2 982.9L627.1 983.5L628.1 985.2L629.2 987.5L630.3 990.1L631.4 993.0L632.6 995.6L633.7 998.3L634.6 1000.6L635.5 1002.6L636.2 1003.8L637.3 1003.2L638.3 1001.1L639.2 998.4L640.2 995.5L641.3 993.2L642.6 991.6L644.2 989.4L646.1 987.4L648.0 985.6L649.8 983.7L651.3 983.2L653.1 982.9L655.3 983.3L657.5 984.6L659.6 987.0L661.3 988.2L662.3 989.8L663.4 991.7L664.5 994.1L665.6 996.6L666.7 998.6L667.8 1000.6L668.8 1001.3L670.0 1000.3L671.4 998.4L672.9 996.4L674.5 994.2L676.1 991.9L677.6 989.6L678.9 988.2L680.7 986.8L682.8 985.1L685.0 983.6L687.1 982.3L688.9 983.8L690.0 984.0L691.2 985.6L692.4 987.8L693.8 990.1L695.1 992.5L696.4 994.7L697.7 997.0L698.9 997.7L700.7 999.4L702.9 999.7L705.3 1000.0L707.7 1001.0L709.8 1000.9L711.5 1000.4L712.6 1000.2L713.6 998.3L714.7 996.4L715.8 994.4L716.8 992.0L717.9 989.7L718.9 987.1L720.0 985.1L720.7 983.4L721.5 981.6L722.4 979.6L723.4 977.2L724.4 974.8L725.5 972.4L726.6 969.9L727.7 967.3L728.7 965.3L729.8 962.9L730.8 961.0L731.7 959.4L732.5 958.2L734.1 956.6L735.9 953.9L737.9 953.3L739.9 952.5L741.9 951.4L743.6 950.8L745.1 950.0L746.7 951.3L748.4 952.0L750.2 953.8L751.9 955.3L753.6 957.7L755.0 960.0L755.7 961.2L756.5 963.2L757.3 965.2L758.2 967.4L759.1 969.9L760.0 972.5L760.9 975.0L761.8 977.4L762.7 979.8L763.5 981.7L764.3 983.4L765.0 985.2L766.5 987.7L768.3 990.0L770.1 992.2L772.0 993.6L773.6 993.9L775.0 994.7L776.8 995.8L778.7 994.2L780.7 992.8L782.7 990.8L783.5 989.8L784.5 987.9L785.6 986.3L786.8 984.3L788.1 981.7L789.4 979.9L790.6 977.6L791.9 975.2L793.1 973.8L794.2 972.0L795.2 971.0L797.1 970.0L799.2 967.0L801.5 967.6L803.8 967.5L805.9 967.2L807.8 965.8L809.7 964.8L811.9 963.3L814.2 962.3L816.5 960.9L818.6 959.3L820.3 960.5L821.7 961.5L823.1 963.6L824.7 966.1L826.2 968.7L827.7 971.1L829.1 972.7L830.3 973.1L831.5 972.5L832.9 971.4L834.4 969.4L835.9 967.1L837.4 964.9L838.8 962.2L840.0 959.9L840.8 958.3L841.7 956.6L842.6 954.4L843.6 952.5L844.7 950.2L845.7 947.7L846.7 945.4L847.8 943.3L848.7 941.3L849.6 939.3L850.4 938.2L851.9 935.9L853.7 933.3L855.5 931.9L857.4 930.0L859.0 928.2L860.4 928.2L861.5 928.6L862.6 930.0L863.7 931.9L864.9 934.3L866.0 936.5L867.1 938.7L868.0 940.6L868.7 942.3L869.5 944.1L870.3 946.3L871.2 948.8L872.1 951.2L873.0 953.3L873.8 955.4L874.7 957.0L875.5 958.5L877.2 959.9L879.3 960.1L881.5 962.4L883.7 961.4L885.5 960.4L886.6 959.7L887.9 958.2L889.2 956.3L890.6 953.7L892.0 951.3L893.3 949.3L894.5 947.4L895.5 945.6L897.0 943.8L898.5 941.9L900.1 940.0L901.6 938.4L903.1 938.8L904.8 937.9L906.9 938.7L909.1 941.2L911.3 942.8L913.1 943.6L914.9 943.2L917.0 943.8L919.2 943.6L921.3 944.5L923.1 944.7L924.3 946.5L925.7 948.7L927.3 949.9L928.8 952.6L930.3 954.4L931.8 955.9L933.2 958.4L934.2 959.4L935.3 961.5L936.6 963.4L937.9 965.6L939.3 967.8L940.7 969.8L942.1 971.9L943.4 973.6L944.6 975.6L945.7 975.5L947.6 976.2L949.8 975.6L952.1 974.6L954.4 972.5L956.5 971.5L958.2 970.2L960.1 972.5L962.2 971.2L964.3 973.0L966.4 973.3L968.3 973.4L969.6 972.2L971.1 970.8L972.8 969.4L974.6 967.3L976.3 965.0L978.0 963.1L979.5 961.7L980.8 960.8L982.7 960.7L984.7 961.2L986.8 961.7L988.9 961.6L990.8 963.3L992.3 963.7L994.0 965.5L996.0 966.6L998.0 968.3L1000.0 969.4L1001.8 970.8L1003.4 971.6L1005.2 970.8L1007.3 969.2L1009.5 969.1L1011.8 968.9L1013.9 966.5L1015.9 965.8L1017.5 966.1L1019.3 964.6L1021.3 962.9L1023.5 961.4L1025.6 959.4L1027.6 959.9L1029.4 958.9L1031.0 957.2L1032.7 958.7L1034.5 960.0L1036.4 961.7L1038.3 963.4L1040.2 966.2L1042.0 966.8L1043.5 968.9L1045.4 969.6L1047.5 970.1L1049.7 971.2L1052.0 972.1L1054.1 972.1L1056.0 973.1L1057.6 974.8L1059.4 976.1L1061.4 977.5L1063.4 978.5L1065.4 979.4L1067.1 981.8L1068.6 981.6L1069.6 980.2L1070.8 978.7L1071.9 976.7L1073.1 974.6L1074.3 972.2L1075.5 969.7L1076.6 967.2L1077.7 965.1L1078.6 963.2L1079.6 961.6L1080.6 959.5L1081.8 957.2L1083.0 955.1L1084.3 953.0L1085.5 950.7L1086.7 949.0L1087.7 947.0L1088.7 945.8L1090.2 943.5L1091.9 941.6L1093.7 938.9L1095.5 937.0L1097.2 936.4L1098.7 936.6L1099.7 936.0L1100.8 937.9L1102.0 939.1L1103.2 941.2L1104.4 943.5L1105.7 946.2L1106.8 948.4L1107.8 951.0L1108.7 953.2L1109.2 954.8L1109.7 956.8L1110.3 959.2L1110.9 961.7L1111.4 964.4L1112.0 967.2L1112.6 970.0L1113.1 972.7L1113.7 975.3L1114.2 977.7L1114.8 979.7L1115.3 981.4L1115.8 982.7L1116.2 983.5L1116.9 983.7L1117.7 982.2L1118.5 980.1L1119.4 977.6L1120.3 974.9L1121.2 972.1L1122.1 969.5L1123.0 967.4L1123.8 965.3L1125.5 963.9L1127.6 962.9L1129.8 961.0L1132.0 961.9L1133.8 960.8L1135.3 961.5L1137.1 961.8L1138.9 963.1L1140.8 964.5L1142.4 966.3L1143.8 968.1L1144.4 969.4L1145.0 971.2L1145.6 973.3L1146.2 975.4L1146.9 977.8L1147.5 980.4L1148.2 982.9L1148.8 985.4L1149.4 987.9L1150.0 990.3L1150.5 992.4L1151.0 994.3L1151.4 995.9L1152.0 998.5L1152.6 1001.6L1153.2 1005.0L1153.8 1008.2L1154.4 1010.9L1154.9 1012.9L1155.4 1014.1L1155.9 1013.6L1156.1 1012.7L1156.3 1011.6L1156.5 1010.1L1156.7 1008.4L1156.9 1006.4L1157.1 1004.2L1157.3 1001.8L1157.6 999.2L1157.8 996.5L1158.0 993.7L1158.3 990.9L1158.5 988.0L1158.7 985.2L1159.0 982.5L1159.2 979.8L1159.4 977.3L1159.7 974.9L1159.9 972.7L1160.1 970.8L1160.3 969.0L1160.6 967.0L1160.8 964.9L1161.1 962.7L1161.4 960.3L1161.7 957.9L1162.1 955.4L1162.4 952.9L1162.7 950.3L1163.1 947.8L1163.4 945.3L1163.8 942.9L1164.1 940.5L1164.5 938.3L1164.8 936.1L1165.2 934.2L1165.5 932.4L1165.8 930.7L1166.1 929.4L1166.4 928.3L1167.7 924.5L1169.2 921.9L1170.8 920.6L1172.4 919.9L1173.9 919.2L1174.9 919.9L1176.2 921.0L1177.6 922.3L1179.0 924.5L1180.5 927.0L1181.8 928.6L1183.0 931.1L1183.9 933.1L1184.4 934.7L1184.8 936.4L1185.3 938.6L1185.7 940.9L1186.1 943.3L1186.5 945.8L1186.9 948.4L1187.3 951.0L1187.7 953.4L1188.1 955.6L1188.4 957.7L1188.7 959.4L1189.0 960.8L1189.8 963.8L1190.8 966.7L1191.7 969.0L1192.5 970.8L1193.0 972.0" fill="none" stroke="#000" stroke-width="5.5" stroke-linecap="round" stroke-linejoin="round"/></mask>
<path d="M247.0 945.0L247.4 946.0L247.8 947.4L248.4 949.0L249.0 950.8L249.8 953.1L250.5 955.4L251.4 957.8L252.2 960.3L253.1 962.7L254.0 965.1L254.9 967.4L255.7 969.7L256.5 971.7L257.3 973.6L258.0 975.1L259.0 976.8L260.1 979.1L261.4 981.2L262.7 983.6L264.1 986.0L265.5 987.9L266.9 989.4L268.3 991.8L269.6 992.6L270.9 994.8L272.0 994.7L273.9 995.4L276.2 996.4L278.7 993.7L281.3 993.6L283.7 991.9L285.9 990.9L287.6 989.7L289.1 989.2L290.6 987.4L292.2 985.9L293.7 984.2L295.1 981.7L296.5 980.4L297.7 978.1L298.5 976.4L299.4 974.5L300.3 972.4L301.3 969.8L302.3 967.0L303.3 964.5L304.3 962.0L305.3 959.8L306.2 957.8L307.0 956.6L307.7 955.2L308.9 955.2L310.2 957.0L311.6 959.0L312.9 961.3L314.1 963.8L315.2 965.6L316.1 967.4L317.2 969.5L318.4 971.9L319.6 974.3L320.8 976.1L321.9 977.4L322.8 976.7L323.7 977.6L324.8 975.8L325.9 973.6L327.0 970.8L328.1 968.5L329.3 966.5L330.3 964.7L332.0 966.2L334.2 967.1L336.4 967.3L338.6 969.6L340.3 971.2L341.8 971.9L343.5 974.6L345.1 977.0L346.6 978.9L347.8 977.5L348.4 977.0L349.1 975.2L349.8 972.7L350.4 969.8L351.1 966.9L351.7 964.2L352.3 962.1L352.9 960.5L354.8 958.9L357.1 958.5L359.1 959.7L359.7 960.4L360.4 962.0L361.1 964.0L361.8 966.2L362.6 968.6L363.3 971.1L364.1 973.7L364.8 976.0L365.4 978.1L365.9 979.7L366.5 981.8L367.1 983.8L367.8 986.2L368.4 988.6L369.2 991.0L369.9 993.5L370.5 995.9L371.2 998.1L371.8 1000.0L372.4 1001.9L372.9 1003.3L373.9 1005.8L375.0 1008.3L376.2 1011.2L377.3 1013.0L378.3 1014.4L379.2 1014.3L379.7 1013.6L380.2 1012.2L380.7 1010.1L381.2 1007.7L381.7 1004.9L382.2 1002.1L382.7 999.4L383.2 996.9L383.7 994.8L384.2 993.1L385.3 990.3L386.6 987.4L388.1 984.9L389.4 983.2L390.5 983.5L390.9 983.9L391.4 985.1L391.9 986.9L392.4 989.0L392.9 991.3L393.4 993.8L393.9 996.4L394.3 998.9L394.8 1001.4L395.2 1003.7L395.5 1005.7L395.8 1007.5L396.0 1009.6L396.3 1012.0L396.6 1014.6L396.9 1017.4L397.2 1020.1L397.5 1022.9L397.8 1025.4L398.1 1027.8L398.4 1029.9L398.7 1031.5L399.0 1032.6L399.3 1033.7L399.9 1033.5L400.6 1031.4L401.5 1029.3L402.3 1026.3L403.2 1023.1L404.1 1020.1L404.9 1017.4L405.5 1015.9L406.7 1012.8L407.9 1010.0L409.2 1008.5L410.5 1008.2L411.1 1009.1L411.7 1010.6L412.4 1012.7L413.2 1015.2L414.1 1017.8L414.9 1020.6L415.7 1023.0L416.6 1025.4L417.4 1026.9L418.1 1027.7L419.8 1028.4L422.0 1029.9L424.2 1029.3L426.4 1030.1L428.1 1028.7L430.0 1028.7L432.1 1029.6L434.1 1028.3L435.6 1025.9L435.9 1024.7L436.3 1023.1L436.6 1021.1L437.0 1019.0L437.4 1016.6L437.7 1014.1L438.1 1011.4L438.5 1008.7L438.8 1006.0L439.2 1003.4L439.5 1000.9L439.8 998.6L440.1 996.4L440.4 994.7L440.6 993.2L441.1 990.3L441.6 987.1L442.2 984.1L442.7 981.3L443.3 979.2L443.8 978.6L444.4 978.3L444.7 978.9L445.1 980.4L445.6 982.5L446.1 985.0L446.6 987.9L447.2 990.9L447.7 993.9L448.3 996.9L448.8 999.7L449.3 1002.0L449.8 1004.0L450.3 1005.2L450.7 1006.8L451.1 1005.5L451.6 1004.2L452.2 1002.5L452.8 1000.2L453.3 997.5L453.9 994.7L454.5 991.7L455.1 988.8L455.6 986.1L456.1 983.8L456.5 981.8L456.9 980.7L458.8 976.8L460.7 978.4L461.0 979.2L461.4 980.8L461.8 982.8L462.2 985.2L462.7 987.7L463.2 990.5L463.7 993.4L464.2 996.2L464.8 999.0L465.3 1001.6L465.7 1003.9L466.2 1005.8L466.6 1007.2L467.0 1007.9L468.3 1008.8L469.8 1006.7L471.5 1003.7L473.2 1000.6L474.1 999.5L475.2 997.8L476.5 996.2L477.9 994.1L479.4 992.0L480.8 989.8L482.3 987.7L483.7 986.3L485.0 985.0L486.6 984.1L488.5 982.5L490.6 980.6L492.8 979.1L495.0 977.3L497.2 976.6L499.1 976.0L500.8 975.4L502.4 975.4L504.2 977.4L506.0 977.7L507.9 980.2L509.9 981.6L511.7 983.3L513.4 983.7L515.0 985.3L516.8 985.3L518.9 986.7L521.1 987.1L523.4 988.4L525.8 989.2L528.0 990.5L530.0 990.7L531.7 989.6L533.6 989.1L535.8 988.1L538.1 987.1L540.4 985.8L542.7 985.6L544.9 985.1L546.8 983.5L548.5 983.3L550.3 981.7L552.3 980.6L554.3 979.5L556.4 978.8L558.5 977.0L560.4 976.7L562.1 975.5L563.5 975.0L565.0 975.7L566.5 977.9L568.1 979.9L569.6 982.6L571.1 984.9L572.4 986.5L573.5 988.4L575.3 990.3L577.1 990.8L579.0 992.5L581.1 993.4L582.5 991.9L584.3 990.9L586.5 989.6L588.7 987.5L591.0 985.7L593.1 984.3L594.8 982.7L596.1 984.4L596.9 984.1L597.6 985.8L598.2 988.0L598.8 990.7L599.3 993.5L599.7 996.4L600.2 999.1L600.6 1001.5L601.1 1003.3L602.0 1005.6L603.0 1008.2L604.1 1010.7L605.2 1013.1L606.3 1014.2L607.4 1014.9L608.3 1013.8L609.3 1012.0L610.4 1010.1L611.6 1007.6L612.8 1004.9L614.1 1002.4L615.2 999.9L616.2 998.2L617.2 996.3L618.4 994.1L619.8 991.5L621.1 988.7L622.5 986.5L623.9 984.6L625.1 983.1L626.2 982.9L627.1 983.5L628.1 985.2L629.2 987.5L630.3 990.1L631.4 993.0L632.6 995.6L633.7 998.3L634.6 1000.6L635.5 1002.6L636.2 1003.8L637.3 1003.2L638.3 1001.1L639.2 998.4L640.2 995.5L641.3 993.2L642.6 991.6L644.2 989.4L646.1 987.4L648.0 985.6L649.8 983.7L651.3 983.2L653.1 982.9L655.3 983.3L657.5 984.6L659.6 987.0L661.3 988.2L662.3 989.8L663.4 991.7L664.5 994.1L665.6 996.6L666.7 998.6L667.8 1000.6L668.8 1001.3L670.0 1000.3L671.4 998.4L672.9 996.4L674.5 994.2L676.1 991.9L677.6 989.6L678.9 988.2L680.7 986.8L682.8 985.1L685.0 983.6L687.1 982.3L688.9 983.8L690.0 984.0L691.2 985.6L692.4 987.8L693.8 990.1L695.1 992.5L696.4 994.7L697.7 997.0L698.9 997.7L700.7 999.4L702.9 999.7L705.3 1000.0L707.7 1001.0L709.8 1000.9L711.5 1000.4L712.6 1000.2L713.6 998.3L714.7 996.4L715.8 994.4L716.8 992.0L717.9 989.7L718.9 987.1L720.0 985.1L720.7 983.4L721.5 981.6L722.4 979.6L723.4 977.2L724.4 974.8L725.5 972.4L726.6 969.9L727.7 967.3L728.7 965.3L729.8 962.9L730.8 961.0L731.7 959.4L732.5 958.2L734.1 956.6L735.9 953.9L737.9 953.3L739.9 952.5L741.9 951.4L743.6 950.8L745.1 950.0L746.7 951.3L748.4 952.0L750.2 953.8L751.9 955.3L753.6 957.7L755.0 960.0L755.7 961.2L756.5 963.2L757.3 965.2L758.2 967.4L759.1 969.9L760.0 972.5L760.9 975.0L761.8 977.4L762.7 979.8L763.5 981.7L764.3 983.4L765.0 985.2L766.5 987.7L768.3 990.0L770.1 992.2L772.0 993.6L773.6 993.9L775.0 994.7L776.8 995.8L778.7 994.2L780.7 992.8L782.7 990.8L783.5 989.8L784.5 987.9L785.6 986.3L786.8 984.3L788.1 981.7L789.4 979.9L790.6 977.6L791.9 975.2L793.1 973.8L794.2 972.0L795.2 971.0L797.1 970.0L799.2 967.0L801.5 967.6L803.8 967.5L805.9 967.2L807.8 965.8L809.7 964.8L811.9 963.3L814.2 962.3L816.5 960.9L818.6 959.3L820.3 960.5L821.7 961.5L823.1 963.6L824.7 966.1L826.2 968.7L827.7 971.1L829.1 972.7L830.3 973.1L831.5 972.5L832.9 971.4L834.4 969.4L835.9 967.1L837.4 964.9L838.8 962.2L840.0 959.9L840.8 958.3L841.7 956.6L842.6 954.4L843.6 952.5L844.7 950.2L845.7 947.7L846.7 945.4L847.8 943.3L848.7 941.3L849.6 939.3L850.4 938.2L851.9 935.9L853.7 933.3L855.5 931.9L857.4 930.0L859.0 928.2L860.4 928.2L861.5 928.6L862.6 930.0L863.7 931.9L864.9 934.3L866.0 936.5L867.1 938.7L868.0 940.6L868.7 942.3L869.5 944.1L870.3 946.3L871.2 948.8L872.1 951.2L873.0 953.3L873.8 955.4L874.7 957.0L875.5 958.5L877.2 959.9L879.3 960.1L881.5 962.4L883.7 961.4L885.5 960.4L886.6 959.7L887.9 958.2L889.2 956.3L890.6 953.7L892.0 951.3L893.3 949.3L894.5 947.4L895.5 945.6L897.0 943.8L898.5 941.9L900.1 940.0L901.6 938.4L903.1 938.8L904.8 937.9L906.9 938.7L909.1 941.2L911.3 942.8L913.1 943.6L914.9 943.2L917.0 943.8L919.2 943.6L921.3 944.5L923.1 944.7L924.3 946.5L925.7 948.7L927.3 949.9L928.8 952.6L930.3 954.4L931.8 955.9L933.2 958.4L934.2 959.4L935.3 961.5L936.6 963.4L937.9 965.6L939.3 967.8L940.7 969.8L942.1 971.9L943.4 973.6L944.6 975.6L945.7 975.5L947.6 976.2L949.8 975.6L952.1 974.6L954.4 972.5L956.5 971.5L958.2 970.2L960.1 972.5L962.2 971.2L964.3 973.0L966.4 973.3L968.3 973.4L969.6 972.2L971.1 970.8L972.8 969.4L974.6 967.3L976.3 965.0L978.0 963.1L979.5 961.7L980.8 960.8L982.7 960.7L984.7 961.2L986.8 961.7L988.9 961.6L990.8 963.3L992.3 963.7L994.0 965.5L996.0 966.6L998.0 968.3L1000.0 969.4L1001.8 970.8L1003.4 971.6L1005.2 970.8L1007.3 969.2L1009.5 969.1L1011.8 968.9L1013.9 966.5L1015.9 965.8L1017.5 966.1L1019.3 964.6L1021.3 962.9L1023.5 961.4L1025.6 959.4L1027.6 959.9L1029.4 958.9L1031.0 957.2L1032.7 958.7L1034.5 960.0L1036.4 961.7L1038.3 963.4L1040.2 966.2L1042.0 966.8L1043.5 968.9L1045.4 969.6L1047.5 970.1L1049.7 971.2L1052.0 972.1L1054.1 972.1L1056.0 973.1L1057.6 974.8L1059.4 976.1L1061.4 977.5L1063.4 978.5L1065.4 979.4L1067.1 981.8L1068.6 981.6L1069.6 980.2L1070.8 978.7L1071.9 976.7L1073.1 974.6L1074.3 972.2L1075.5 969.7L1076.6 967.2L1077.7 965.1L1078.6 963.2L1079.6 961.6L1080.6 959.5L1081.8 957.2L1083.0 955.1L1084.3 953.0L1085.5 950.7L1086.7 949.0L1087.7 947.0L1088.7 945.8L1090.2 943.5L1091.9 941.6L1093.7 938.9L1095.5 937.0L1097.2 936.4L1098.7 936.6L1099.7 936.0L1100.8 937.9L1102.0 939.1L1103.2 941.2L1104.4 943.5L1105.7 946.2L1106.8 948.4L1107.8 951.0L1108.7 953.2L1109.2 954.8L1109.7 956.8L1110.3 959.2L1110.9 961.7L1111.4 964.4L1112.0 967.2L1112.6 970.0L1113.1 972.7L1113.7 975.3L1114.2 977.7L1114.8 979.7L1115.3 981.4L1115.8 982.7L1116.2 983.5L1116.9 983.7L1117.7 982.2L1118.5 980.1L1119.4 977.6L1120.3 974.9L1121.2 972.1L1122.1 969.5L1123.0 967.4L1123.8 965.3L1125.5 963.9L1127.6 962.9L1129.8 961.0L1132.0 961.9L1133.8 960.8L1135.3 961.5L1137.1 961.8L1138.9 963.1L1140.8 964.5L1142.4 966.3L1143.8 968.1L1144.4 969.4L1145.0 971.2L1145.6 973.3L1146.2 975.4L1146.9 977.8L1147.5 980.4L1148.2 982.9L1148.8 985.4L1149.4 987.9L1150.0 990.3L1150.5 992.4L1151.0 994.3L1151.4 995.9L1152.0 998.5L1152.6 1001.6L1153.2 1005.0L1153.8 1008.2L1154.4 1010.9L1154.9 1012.9L1155.4 1014.1L1155.9 1013.6L1156.1 1012.7L1156.3 1011.6L1156.5 1010.1L1156.7 1008.4L1156.9 1006.4L1157.1 1004.2L1157.3 1001.8L1157.6 999.2L1157.8 996.5L1158.0 993.7L1158.3 990.9L1158.5 988.0L1158.7 985.2L1159.0 982.5L1159.2 979.8L1159.4 977.3L1159.7 974.9L1159.9 972.7L1160.1 970.8L1160.3 969.0L1160.6 967.0L1160.8 964.9L1161.1 962.7L1161.4 960.3L1161.7 957.9L1162.1 955.4L1162.4 952.9L1162.7 950.3L1163.1 947.8L1163.4 945.3L1163.8 942.9L1164.1 940.5L1164.5 938.3L1164.8 936.1L1165.2 934.2L1165.5 932.4L1165.8 930.7L1166.1 929.4L1166.4 928.3L1167.7 924.5L1169.2 921.9L1170.8 920.6L1172.4 919.9L1173.9 919.2L1174.9 919.9L1176.2 921.0L1177.6 922.3L1179.0 924.5L1180.5 927.0L1181.8 928.6L1183.0 931.1L1183.9 933.1L1184.4 934.7L1184.8 936.4L1185.3 938.6L1185.7 940.9L1186.1 943.3L1186.5 945.8L1186.9 948.4L1187.3 951.0L1187.7 953.4L1188.1 955.6L1188.4 957.7L1188.7 959.4L1189.0 960.8L1189.8 963.8L1190.8 966.7L1191.7 969.0L1192.5 970.8L1193.0 972.0" fill="none" stroke="#0000ff" stroke-width="14.5" stroke-linecap="round" stroke-linejoin="round" mask="url(#hm1)"/>
<path d="M271.1 992.5L272.0 996.5L273.3 996.3L274.8 993.4L276.5 995.4L278.2 993.7L280.0 995.7L281.8 994.8L283.5 991.6L285.0 992.0L286.4 990.7L287.6 989.1L288.8 988.9M330.3 963.7L331.5 964.9L332.9 967.8L334.5 967.7L336.1 968.1L337.7 969.3L339.1 970.5L340.3 969.2M419.5 1028.0L421.2 1029.8L423.1 1028.3L425.0 1028.3L426.7 1030.4L428.1 1030.9L429.6 1027.8L431.3 1028.7L432.9 1029.6M486.1 985.8L487.4 983.7L488.8 982.5L490.4 982.5L492.0 978.5L493.6 977.3L495.2 978.1L496.8 978.4L498.3 978.0L499.6 977.0L500.8 976.0L502.1 975.2L503.4 977.6L504.9 977.8L506.4 979.9L507.9 980.7L509.5 980.8L511.0 982.7L512.4 982.0L513.8 983.4L515.0 986.1L516.4 986.5L517.9 984.5L519.6 986.0L521.4 987.6L523.2 989.0L525.0 988.6L526.8 989.2L528.4 991.8L530.0 989.5L531.2 989.6L532.6 991.4L534.1 988.4L535.8 988.6L537.5 986.5L539.2 988.6L541.0 987.8L542.7 984.6L544.4 985.5L545.9 983.2L547.3 985.1L548.5 983.1L549.9 981.5L551.5 983.5L553.1 980.4L554.7 979.7L556.4 980.3L558.1 976.5L559.6 976.4L561.1 977.6L562.4 975.0L563.5 977.1L564.6 976.6M577.8 994.3L579.4 993.5L581.1 994.8L582.1 992.7L583.3 990.8L584.7 990.2L586.3 989.5L587.9 988.6L589.6 986.5L591.2 984.8L592.7 983.3L594.1 983.5L595.2 983.8L596.1 983.7M648.9 982.7L650.2 983.6L651.3 984.9L652.6 982.4L654.0 982.0L655.6 984.9L657.2 985.4L658.8 985.3L660.2 986.1M680.2 986.8L681.6 987.4L683.1 986.8L684.7 984.8L686.2 982.5L687.6 981.2L688.9 984.8M698.9 996.8L700.2 997.5L701.7 999.5L703.5 999.5L705.3 1000.1L707.1 999.9L708.8 999.5L710.3 999.2L711.5 1002.5M735.1 953.7L736.6 953.9L738.1 953.7L739.7 952.5L741.2 953.1L742.7 953.0L744.0 951.2L745.1 950.4L746.3 951.6L747.5 951.0L748.9 951.2M771.5 992.7L772.8 993.8L774.0 993.5L775.0 994.8L776.4 994.6L778.0 993.0L779.5 995.8M796.6 969.8L798.1 969.1L799.8 966.4L801.5 966.7L803.2 965.2L804.9 968.3L806.4 966.9L807.8 965.8L809.2 966.0L810.7 964.1L812.4 963.4L814.2 964.5L815.9 960.0L817.6 961.7L819.0 960.3L820.3 959.5M858.2 930.3L859.4 928.0L860.4 927.4L861.2 928.3M876.9 959.1L878.5 960.2L880.4 960.3L882.2 961.1L884.0 960.4L885.5 961.9M900.6 940.0L901.9 938.1L903.1 937.5L904.3 937.6L905.6 940.8L907.2 940.4L908.8 942.5L910.4 943.4L911.8 943.5L913.1 943.7L914.6 942.9L916.3 944.3L918.1 942.4L919.9 944.3L921.6 945.7L923.1 945.7M944.9 975.2L945.7 976.5L947.1 976.4L948.6 976.0L950.3 975.3L952.1 973.6L953.8 973.2L955.4 969.9L956.9 971.6L958.2 969.6L959.8 971.7L961.5 969.8L963.2 972.6L965.0 972.3L966.7 973.4L968.3 974.7L969.3 973.6M979.8 962.8L980.8 961.1L982.4 962.0L984.1 962.6L985.8 962.6L987.5 960.6L989.2 961.0L990.8 962.6L991.9 964.1L993.2 963.6L994.7 967.8L996.2 966.9L997.8 969.9L999.3 967.4L1000.8 967.8L1002.2 970.6L1003.4 972.1L1004.7 969.9L1006.2 972.4L1007.9 968.2L1009.5 970.9L1011.2 970.3L1012.9 968.3L1014.4 967.2L1015.9 966.5L1017.1 964.2L1018.5 962.3L1020.1 964.1L1021.7 963.3L1023.5 960.7L1025.2 959.7L1026.8 957.6L1028.4 956.9L1029.8 959.4L1031.0 957.8L1032.3 959.5L1033.7 961.0L1035.1 958.5M1042.3 965.4L1043.5 970.1L1044.9 967.8L1046.4 968.4L1048.0 970.3L1049.7 971.9L1051.5 971.8L1053.1 973.6L1054.6 974.7L1056.0 971.5L1057.2 974.7L1058.6 974.1L1060.1 977.4L1061.6 978.6L1063.2 980.6L1064.7 979.9L1066.2 979.5L1067.5 982.2L1068.6 982.9L1069.4 981.2M1096.4 936.9L1097.6 935.9L1098.7 936.4L1099.4 937.1M1126.3 963.4L1127.9 962.4L1129.5 960.6L1131.1 961.7L1132.5 961.4L1133.8 962.5L1135.1 960.9L1136.5 962.4L1138.1 964.1L1139.7 964.6M1170.5 920.6L1171.7 917.9L1172.8 917.6L1173.9 919.2L1174.7 919.8" fill="none" stroke="#0000ff" stroke-width="2" stroke-linejoin="round" stroke-dasharray="2.6 3.2 1.6 4.4 3.4 2.8"/>
<path d="M264.8 900L264.3 1045" stroke="#ff0000" stroke-width="8" fill="none"/>
<path d="M246.0 504.0L246.0 504.9L246.0 505.9L246.1 507.1L246.1 508.3L246.1 509.6L246.2 511.0L246.2 512.5L246.2 514.1L246.3 515.7L246.3 517.4L246.3 519.2L246.4 521.1L246.4 523.0L246.5 525.0L246.5 527.1L246.6 529.2L246.6 531.4L246.6 533.6L246.7 535.9L246.7 538.2L246.8 540.6L246.9 543.0L246.9 545.4L247.0 547.9L247.0 550.4L247.1 553.0L247.1 555.5L247.2 558.1L247.2 560.7L247.3 563.3L247.3 566.0L247.4 568.6L247.4 571.3L247.5 573.9L247.6 576.6L247.6 579.2L247.7 581.9L247.7 584.5L247.8 587.1L247.8 589.8L247.9 592.4L247.9 594.9L248.0 597.5L248.0 600.0L248.0 601.4L248.1 602.8L248.1 604.3L248.1 605.9L248.1 607.5L248.2 609.2L248.2 611.0L248.2 612.8L248.3 614.6L248.3 616.5L248.3 618.5L248.3 620.5L248.4 622.5L248.4 624.6L248.4 626.7L248.5 628.9L248.5 631.1L248.6 633.4L248.6 635.7L248.6 638.0L248.7 640.3L248.7 642.7L248.7 645.1L248.8 647.6L248.8 650.1L248.9 652.5L248.9 655.1L248.9 657.6L249.0 660.2L249.0 662.7L249.1 665.3L249.1 667.9L249.1 670.6L249.2 673.2L249.2 675.8L249.3 678.5L249.3 681.1L249.3 683.8L249.4 686.5L249.4 689.1L249.5 691.8L249.5 694.5L249.6 697.1L249.6 699.8L249.6 702.4L249.7 705.1L249.7 707.7L249.8 710.3L249.8 712.9L249.9 715.5L249.9 718.0L249.9 720.6L250.0 723.1L250.0 725.6L250.1 728.1L250.1 730.6L250.1 733.0L250.2 735.4L250.2 737.8L250.3 740.1L250.3 742.4L250.3 744.7L250.4 746.9L250.4 749.1L250.4 751.3L250.5 753.4L250.5 755.4L250.6 757.4L250.6 759.4L250.6 761.3L250.7 763.2L250.7 765.0L250.7 766.8L250.8 768.5L250.8 770.2L250.8 771.8L250.9 773.3L250.9 774.8L250.9 776.2L250.9 777.5L251.0 778.8L251.0 780.0L251.1 783.5L251.2 786.8L251.3 789.9L251.4 792.9L251.5 795.7L251.6 798.4L251.7 801.0L251.8 803.5L251.9 805.8L252.0 808.1L252.1 810.3L252.2 812.4L252.3 814.4L252.4 816.3L252.5 818.2L252.6 820.1L252.7 821.9L252.8 823.7L252.9 825.4L253.0 827.2L253.1 829.0L253.1 830.7L253.2 832.5L253.3 834.3L253.4 836.2L253.4 838.1L253.5 840.0L253.5 841.6L253.6 843.4L253.6 845.1L253.7 847.0L253.7 848.8L253.8 850.8L253.8 852.8L253.9 854.8L253.9 856.9L253.9 859.0L254.0 861.1L254.0 863.3L254.1 865.6L254.1 867.8L254.1 870.1L254.2 872.4L254.2 874.8L254.2 877.1L254.3 879.5L254.3 881.9L254.4 884.3L254.4 886.7L254.4 889.1L254.5 891.5L254.5 893.9L254.5 896.4L254.6 898.8L254.6 901.2L254.7 903.6L254.7 906.0L254.7 908.3L254.8 910.7L254.8 913.0L254.8 914.5L254.8 916.0L254.9 917.6L254.9 919.2L254.9 920.9L254.9 922.7L255.0 924.5L255.0 926.4L255.0 928.4L255.0 930.4L255.1 932.4L255.1 934.5L255.1 936.6L255.2 938.8L255.2 941.0L255.2 943.2L255.2 945.5L255.3 947.8L255.3 950.1L255.3 952.5L255.4 954.9L255.4 957.3L255.4 959.7L255.5 962.2L255.5 964.6L255.5 967.1L255.6 969.6L255.6 972.0L255.6 974.5L255.7 977.0L255.7 979.5L255.7 982.0L255.8 984.5L255.8 986.9L255.8 989.4L255.9 991.8L255.9 994.3L255.9 996.7L256.0 999.1L256.0 1001.5L256.0 1003.8L256.1 1006.1L256.1 1008.4L256.1 1010.7L256.2 1012.9L256.2 1015.1L256.3 1017.3L256.3 1019.4L256.3 1021.4L256.4 1023.4L256.4 1025.4L256.4 1027.3L256.5 1029.2L256.5 1031.0L256.5 1032.8L256.6 1034.6L256.6 1036.5L256.7 1038.5L256.7 1040.5L256.7 1042.5L256.8 1044.6L256.8 1046.8L256.9 1049.0L256.9 1051.2L257.0 1053.5L257.0 1055.8L257.1 1058.1L257.1 1060.5L257.2 1062.9L257.3 1065.3L257.3 1067.8L257.4 1070.3L257.4 1072.7L257.5 1075.3L257.5 1077.8L257.6 1080.3L257.7 1082.8L257.7 1085.4L257.8 1087.9L257.9 1090.5L257.9 1093.0L258.0 1095.5L258.0 1098.1L258.1 1100.6L258.2 1103.1L258.2 1105.6L258.3 1108.1L258.4 1110.5L258.4 1113.0L258.5 1115.4L258.5 1117.7L258.6 1120.1L258.7 1122.4L258.7 1124.7L258.8 1126.9L258.8 1129.1L258.9 1131.3L259.0 1133.4L259.0 1135.5L259.1 1137.5L259.1 1139.5L259.2 1141.4L259.2 1143.2L259.3 1145.0L259.3 1146.8L259.4 1148.4L259.4 1150.0L259.5 1151.5L259.5 1153.0L259.6 1155.4L259.6 1157.9L259.7 1160.5L259.8 1163.2L259.8 1166.0L259.9 1168.8L260.0 1171.6L260.1 1174.5L260.1 1177.5L260.2 1180.4L260.3 1183.3L260.4 1186.2L260.4 1189.1L260.5 1192.0L260.6 1194.8L260.7 1197.6L260.7 1200.3L260.8 1202.9L260.9 1205.5L261.0 1207.9L261.1 1210.3L261.2 1212.5L261.3 1214.5L261.3 1216.5L261.4 1218.2L261.5 1219.9L261.6 1221.3L261.7 1222.5L261.8 1223.6L261.9 1224.4L262.0 1225.0L262.1 1225.4L262.2 1225.2L262.3 1225.4L262.4 1225.0L262.6 1224.4L262.7 1223.6L262.9 1222.5L263.0 1221.3L263.2 1219.9L263.4 1218.2L263.5 1216.5L263.7 1214.5L263.9 1212.5L264.1 1210.3L264.3 1207.9L264.5 1205.5L264.7 1203.0L264.9 1200.3L265.1 1197.6L265.3 1194.8L265.6 1192.0L265.8 1189.1L266.0 1186.2L266.2 1183.3L266.4 1180.4L266.6 1177.5L266.7 1174.5L266.9 1171.6L267.1 1168.8L267.3 1166.0L267.4 1163.2L267.6 1160.5L267.7 1157.9L267.9 1155.4L268.0 1153.0L268.1 1151.5L268.1 1150.0L268.2 1148.4L268.3 1146.7L268.4 1145.0L268.4 1143.2L268.5 1141.3L268.6 1139.4L268.7 1137.4L268.8 1135.3L268.8 1133.2L268.9 1131.1L269.0 1128.9L269.1 1126.6L269.2 1124.3L269.2 1122.0L269.3 1119.6L269.4 1117.3L269.5 1114.8L269.6 1112.4L269.6 1109.9L269.7 1107.4L269.8 1104.9L269.9 1102.4L270.0 1099.8L270.1 1097.3L270.1 1094.7L270.2 1092.1L270.3 1089.6L270.4 1087.0L270.4 1084.4L270.5 1081.9L270.6 1079.3L270.7 1076.8L270.8 1074.3L270.8 1071.7L270.9 1069.3L271.0 1066.8L271.0 1064.3L271.1 1061.9L271.2 1059.5L271.2 1057.2L271.3 1054.9L271.4 1052.6L271.4 1050.4L271.5 1048.2L271.6 1046.1L271.6 1044.0L271.7 1041.9L271.7 1040.0L271.8 1038.0L271.9 1036.2L271.9 1034.4L272.0 1032.7L272.0 1031.0L272.1 1029.0L272.1 1027.0L272.2 1025.0L272.2 1022.9L272.3 1020.7L272.3 1018.5L272.4 1016.3L272.5 1014.1L272.5 1011.8L272.6 1009.5L272.6 1007.2L272.7 1004.8L272.7 1002.5L272.8 1000.1L272.9 997.7L272.9 995.3L273.0 992.8L273.0 990.4L273.1 988.0L273.1 985.5L273.2 983.1L273.2 980.7L273.3 978.3L273.4 975.8L273.4 973.4L273.5 971.0L273.5 968.7L273.6 966.3L273.6 964.0L273.7 961.7L273.7 959.4L273.8 957.1L273.8 954.9L273.9 952.7L273.9 950.5L274.0 948.4L274.0 946.4L274.1 944.3L274.1 942.3L274.2 940.4L274.2 938.5L274.2 936.7L274.3 934.9L274.3 933.2L274.4 931.6L274.4 930.0L274.5 927.9L274.5 925.8L274.6 923.7L274.6 921.5L274.7 919.3L274.7 917.1L274.8 914.8L274.8 912.5L274.9 910.2L275.0 907.9L275.0 905.5L275.1 903.1L275.2 900.8L275.2 898.4L275.3 896.0L275.3 893.7L275.4 891.3L275.5 888.9L275.5 886.6L275.6 884.2L275.7 881.9L275.7 879.6L275.8 877.3L275.8 875.1L275.9 872.9L276.0 870.7L276.0 868.5L276.1 866.4L276.1 864.3L276.2 862.3L276.2 860.3L276.3 858.4L276.3 856.6L276.4 854.7L276.4 853.0L276.4 851.2L276.5 849.3L276.5 847.4L276.6 845.5L276.6 843.5L276.7 841.5L276.7 839.5L276.8 837.5L276.8 835.4L276.8 833.3L276.9 831.2L276.9 829.1L277.0 826.9L277.0 824.7L277.1 822.5L277.1 820.3L277.2 818.0L277.2 815.8L277.3 813.5L277.3 811.2L277.4 808.8L277.4 806.5L277.5 804.2L277.5 801.8L277.6 799.4L277.6 797.0L277.7 794.6L277.7 792.2L277.8 789.8L277.8 787.4L277.9 784.9L277.9 782.5L278.0 780.0L278.0 778.6L278.1 777.1L278.1 775.6L278.1 774.0L278.2 772.4L278.2 770.7L278.2 768.9L278.3 767.2L278.3 765.3L278.4 763.4L278.4 761.5L278.4 759.5L278.5 757.5L278.5 755.5L278.6 753.4L278.6 751.2L278.7 749.1L278.7 746.9L278.8 744.7L278.8 742.4L278.9 740.1L278.9 737.8L279.0 735.5L279.0 733.1L279.1 730.7L279.1 728.4L279.2 725.9L279.2 723.5L279.3 721.1L279.3 718.6L279.4 716.2L279.4 713.7L279.5 711.2L279.6 708.7L279.6 706.2L279.7 703.8L279.7 701.3L279.8 698.8L279.8 696.3L279.9 693.8L280.0 691.3L280.0 688.9L280.1 686.4L280.1 684.0L280.2 681.6L280.2 679.2L280.3 676.8L280.4 674.4L280.4 672.0L280.5 669.7L280.5 667.4L280.6 665.1L280.7 662.9L280.7 660.6L280.8 658.4L280.8 656.3L280.9 654.1L280.9 652.1L281.0 650.0L281.0 648.4L281.1 646.8L281.1 645.1L281.2 643.3L281.2 641.5L281.3 639.7L281.4 637.8L281.4 635.8L281.5 633.8L281.5 631.8L281.6 629.7L281.7 627.6L281.7 625.4L281.8 623.2L281.8 621.0L281.9 618.7L282.0 616.4L282.1 614.1L282.1 611.7L282.2 609.3L282.3 606.9L282.3 604.5L282.4 602.0L282.5 599.6L282.6 597.1L282.7 594.5L282.7 592.0L282.8 589.5L282.9 586.9L283.0 584.3L283.0 581.7L283.1 579.1L283.2 576.5L283.3 573.9L283.4 571.3L283.5 568.7L283.5 566.1L283.6 563.5L283.7 560.9L283.8 558.3L283.9 555.7L283.9 553.1L284.0 550.5L284.1 548.0L284.2 545.4L284.3 542.9L284.4 540.4L284.4 537.9L284.5 535.4L284.6 532.9L284.7 530.5L284.8 528.0L284.8 525.6L284.9 523.3L285.0 520.9L285.1 518.6L285.1 516.3L285.2 514.1L285.3 511.9L285.4 509.7L285.4 507.6L285.5 505.5L285.6 503.4L285.6 501.4L285.7 499.5L285.8 497.6L285.8 495.7L285.9 493.9L286.0 492.1L286.0 490.4L286.1 488.7L286.1 487.1L286.2 485.6L286.2 484.1L286.3 482.7L286.4 481.3L286.4 480.0L286.5 477.2L286.6 474.3L286.7 471.6L286.8 468.8L287.0 466.1L287.1 463.5L287.2 460.9L287.3 458.3L287.4 455.8L287.5 453.3L287.7 450.8L287.8 448.4L287.9 446.1L288.0 443.7L288.1 441.5L288.3 439.2L288.4 437.0L288.5 434.9L288.6 432.7L288.7 430.7L288.9 428.6L289.0 426.6L289.1 424.7L289.2 422.8L289.3 420.9L289.4 419.1L289.5 417.3L289.6 415.5L289.7 413.8L289.8 412.2L289.9 410.6L290.0 409.0L290.1 407.5L290.2 406.0L290.3 403.8L290.5 401.6L290.6 399.3L290.7 397.1L290.9 394.8L291.0 392.5L291.2 390.1L291.3 387.8L291.5 385.5L291.6 383.1L291.8 380.8L291.9 378.5L292.1 376.2L292.3 374.0L292.4 371.7L292.6 369.6L292.8 367.4L293.0 365.3L293.1 363.3L293.3 361.3L293.5 359.3L293.7 357.5L293.9 355.7L294.1 353.9L294.3 352.0L294.6 350.0L294.9 347.8L295.1 345.6L295.4 343.4L295.8 341.1L296.1 338.7L296.4 336.3L296.8 333.9L297.1 331.5L297.5 329.1L297.9 326.6L298.3 324.3L298.6 321.9L299.0 319.6L299.4 317.3L299.7 315.2L300.1 313.0L300.5 311.0L300.8 309.1L301.2 307.3L301.5 305.6L301.9 303.7L302.4 301.7L302.8 299.5L303.4 297.2L303.9 294.9L304.5 292.5L305.2 290.1L305.8 287.7L306.4 285.2L307.1 282.8L307.7 280.4L308.4 278.0L309.0 275.7L309.6 273.5L310.2 271.3L310.8 269.3L311.3 267.5L311.8 265.7L312.3 264.2L312.7 263.0L313.5 260.3L314.4 257.5L315.2 254.7L316.1 252.1L317.0 249.5L317.9 247.2L318.7 245.3L319.5 243.8L320.2 243.2L320.8 242.6L321.2 243.6L321.7 244.6L322.1 246.1L322.6 248.0L323.1 250.2L323.6 252.7L324.0 255.3L324.5 258.1L324.9 260.8L325.4 263.5L325.8 266.1L326.2 268.4L326.5 270.5L326.8 272.2L327.1 274.1L327.4 276.2L327.7 278.4L328.0 280.7L328.3 283.2L328.6 285.7L329.0 288.2L329.3 290.7L329.6 293.2L330.0 295.6L330.3 297.9L330.6 300.1L330.9 302.1L331.2 304.0L331.5 305.6L331.9 307.7L332.4 309.9L332.9 312.2L333.5 314.6L334.1 317.1L334.7 319.3L335.2 321.7L335.8 323.9L336.4 325.9L336.9 327.7L337.4 329.3L337.8 330.6L338.8 333.3L339.8 335.8L340.9 337.7L341.9 338.8L342.8 339.6L343.5 338.7L344.2 337.4L345.1 335.2L345.9 332.9L346.7 330.5L347.4 327.9L347.9 325.6L348.2 324.0L348.4 322.0L348.6 319.7L348.8 317.3L349.1 314.7L349.3 312.0L349.5 309.4L349.7 306.8L349.9 304.5L350.1 302.3L350.4 300.5L350.8 298.3L351.3 296.0L351.8 293.5L352.5 290.8L353.1 288.4L353.7 285.9L354.3 283.7L354.9 281.9L355.4 280.4L356.5 278.1L357.8 275.9L359.2 274.6L360.4 273.8L361.5 275.2L362.8 277.3L364.3 280.1L365.6 282.8L366.7 284.1L368.4 285.6L370.2 285.0L371.7 286.8L372.0 288.0L372.4 289.4L372.7 291.2L373.1 293.2L373.5 295.4L373.9 297.8L374.2 300.3L374.6 302.9L374.9 305.5L375.2 308.1L375.4 310.6L375.5 312.0L375.6 313.6L375.8 315.3L375.9 317.2L376.0 319.2L376.1 321.3L376.2 323.5L376.3 325.8L376.5 328.2L376.6 330.6L376.7 333.0L376.8 335.5L376.9 338.0L377.1 340.4L377.2 342.8L377.3 345.2L377.4 347.5L377.5 349.7L377.7 351.8L377.8 353.8L377.9 355.7L378.0 357.4L378.1 359.3L378.3 361.2L378.4 363.3L378.6 365.4L378.7 367.6L378.9 369.9L379.1 372.2L379.3 374.6L379.5 377.0L379.6 379.4L379.8 381.8L380.0 384.3L380.2 386.7L380.4 389.1L380.6 391.4L380.8 393.7L380.9 396.0L381.1 398.2L381.3 400.3L381.4 402.3L381.6 404.2L381.7 406.0L381.8 407.8L382.0 409.7L382.1 411.7L382.3 413.8L382.5 416.0L382.6 418.2L382.8 420.5L383.0 422.8L383.2 425.2L383.4 427.6L383.6 430.0L383.8 432.4L383.9 434.8L384.1 437.1L384.3 439.5L384.5 441.8L384.7 444.1L384.8 446.3L385.0 448.4L385.1 450.4L385.3 452.4L385.4 454.3L385.5 456.0L385.6 457.9L385.7 460.0L385.9 462.1L386.0 464.4L386.1 466.7L386.2 469.1L386.4 471.6L386.5 474.1L386.6 476.6L386.7 479.1L386.9 481.7L387.0 484.2L387.1 486.6L387.2 489.0L387.3 491.3L387.4 493.6L387.6 495.7L387.7 497.8L387.8 499.7L387.9 501.4L388.0 503.0L388.2 505.1L388.3 507.4L388.5 509.6L388.7 511.9L388.9 514.2L389.1 516.6L389.3 518.9L389.5 521.2L389.7 523.4L389.9 525.6L390.1 527.7L390.3 529.7L390.6 531.6L390.8 533.4L391.0 535.0L391.3 537.1L391.6 539.6L392.0 542.3L392.4 545.0L392.9 547.9L393.4 550.7L393.8 553.3L394.3 555.8L394.8 557.9L395.2 559.6L395.6 560.7L396.0 561.5L396.6 561.7L397.4 560.2L398.2 558.0L399.1 555.3L399.9 552.4L400.7 549.6L401.4 546.9L402.0 545.0L402.5 543.1L403.0 541.2L403.5 539.1L404.0 536.9L404.5 534.7L405.0 532.4L405.5 530.0L405.8 528.4L406.2 526.5L406.6 524.2L407.0 521.8L407.5 519.3L408.0 516.6L408.5 513.9L408.9 511.3L409.4 508.9L409.8 506.6L410.2 504.7L410.6 503.0L411.1 500.7L411.7 498.4L412.3 496.1L412.9 493.8L413.6 491.6L414.2 489.6L414.9 487.7L415.6 486.0L416.7 484.1L418.2 481.8L419.8 479.2L421.5 478.0L423.0 475.8L424.3 474.4L426.2 475.4L428.3 476.9L430.3 478.6L431.9 478.1L432.5 477.6L433.2 475.7L433.8 473.4L434.4 470.8L435.0 468.0L435.7 465.4L436.3 463.0L436.9 461.2L437.6 459.4L438.5 457.3L439.6 455.2L440.6 452.8L441.7 450.5L442.8 449.0L443.7 447.3L444.4 445.8L446.1 442.9L447.8 441.0L449.4 440.3L450.4 442.1L451.6 444.3L452.9 446.7L454.3 449.0L455.7 451.2L457.2 451.9L459.2 452.6L461.4 454.0L463.5 455.4L465.5 455.9L467.0 455.2L468.7 454.8L470.3 452.9L471.9 451.1L473.3 450.1L475.0 451.3L477.1 452.4L479.1 454.5L480.8 454.3L481.6 454.1L482.5 452.0L483.4 449.9L484.4 447.6L485.3 445.0L486.2 442.8L487.0 440.9L487.9 439.2L488.9 437.3L490.1 434.6L491.3 432.4L492.5 430.5L493.6 429.3L494.6 429.7L495.8 428.9L497.2 431.2L498.7 433.4L500.3 435.9L501.8 438.3L503.3 439.7L505.0 441.5L507.2 442.0L509.5 442.5L511.9 443.7L514.1 443.3L515.9 444.8L517.9 445.1L520.1 446.8L522.4 447.6L524.4 448.5L525.9 449.7L527.0 451.4L528.0 453.6L529.0 455.9L529.9 457.8L530.9 459.7L532.5 458.5L534.6 456.4L536.8 454.6L538.5 453.5L540.6 454.7L542.8 455.5L544.7 456.4L545.4 454.7L546.2 452.7L546.9 450.3L547.8 447.9L548.7 445.9L549.7 444.2L551.5 442.9L554.0 444.8L556.8 445.7L559.3 446.4L561.0 448.3L561.5 449.7L561.9 451.3L562.3 453.2L562.6 455.4L562.9 457.7L563.2 460.2L563.4 462.8L563.7 465.3L563.9 467.7L564.2 469.9L564.5 471.9L564.8 473.6L565.3 475.5L565.8 477.5L566.4 479.8L567.1 482.0L567.8 484.1L568.6 486.5L569.3 488.5L569.9 490.6L570.5 492.3L571.0 493.6L571.8 496.1L572.6 498.8L573.4 501.3L574.3 503.5L575.1 505.0L576.0 506.8L577.3 506.1L579.0 505.4L580.8 502.9L582.6 501.6L584.0 500.0L585.7 498.2L587.6 498.7L589.5 497.0L591.0 494.8L591.4 493.7L591.8 492.2L592.2 490.3L592.7 488.3L593.1 486.1L593.5 483.7L594.0 481.2L594.4 478.6L594.8 476.0L595.2 473.5L595.7 471.0L596.1 468.6L596.4 467.1L596.7 465.4L597.0 463.4L597.3 461.3L597.7 459.1L598.1 456.7L598.5 454.2L598.9 451.7L599.4 449.1L599.8 446.5L600.2 443.9L600.6 441.4L601.1 438.9L601.5 436.6L601.9 434.3L602.3 432.2L602.7 430.4L603.0 428.6L603.4 427.1L603.7 425.9L604.8 422.8L606.1 420.4L607.5 418.3L608.8 416.6L610.1 415.7L611.2 416.1L612.2 416.7L613.3 417.9L614.6 419.8L615.8 421.9L617.0 424.4L618.0 426.7L618.7 428.4L619.2 430.3L619.6 432.5L619.9 434.9L620.1 437.4L620.4 439.7L620.8 441.8L621.2 443.5L622.1 445.6L623.4 448.2L624.9 450.3L626.3 452.3L627.5 452.5L629.5 455.1L631.9 455.1L633.8 455.7L634.4 457.4L635.0 459.5L635.6 462.1L636.2 464.9L636.9 467.6L637.5 470.2L638.2 472.2L638.8 473.9L640.5 475.5L642.6 475.9L644.8 475.5L646.6 474.7L647.5 473.7L648.6 471.7L649.7 469.4L650.8 466.7L651.9 464.4L652.9 462.1L653.8 461.2L655.9 460.2L658.1 460.8L660.1 462.1L660.8 463.5L661.6 465.1L662.4 467.1L663.3 469.3L664.1 471.6L664.9 474.2L665.7 476.5L666.4 478.6L666.9 480.3L667.4 482.5L668.0 484.7L668.7 487.2L669.3 489.8L669.9 492.4L670.6 495.0L671.2 497.5L671.7 499.6L672.2 501.5L672.6 503.0L673.3 505.3L673.9 507.0L674.5 508.7L675.3 510.5L676.4 512.6L677.1 514.0L677.9 515.5L678.9 517.4L680.0 519.4L681.3 521.6L682.5 523.7L683.8 526.3L685.0 528.2L686.2 530.3L687.3 532.2L688.2 533.9L688.9 535.2L690.4 537.6L691.8 539.4L693.1 541.2L694.2 543.0L695.2 545.2L695.7 546.8L696.2 548.7L696.8 551.1L697.4 553.6L697.9 556.2L698.5 558.7L699.0 561.1L699.5 563.2L700.0 564.9L700.6 567.3L701.4 569.9L702.1 572.7L703.0 575.4L703.8 577.6L704.5 579.0L705.2 579.1L705.9 579.3L706.7 577.5L707.6 575.6L708.5 572.9L709.4 570.2L710.3 567.5L711.0 565.0L711.5 563.3L712.0 561.1L712.6 558.8L713.2 556.1L713.9 553.4L714.5 550.8L715.1 548.4L715.6 546.1L716.1 544.1L716.5 542.7L717.3 540.2L718.2 538.3L719.0 537.0L720.0 535.5L720.9 534.4L722.1 532.8L723.5 531.0L725.0 529.6L726.3 527.3L727.5 525.3L728.2 523.8L729.1 521.7L730.0 519.0L730.9 516.4L731.9 513.8L732.8 511.1L733.8 509.1L734.7 507.6L735.5 507.0L736.9 506.6L738.5 508.0L740.3 510.2L742.1 512.9L743.7 514.8L745.0 516.1L746.6 518.7L748.3 520.2L749.9 522.3L751.3 522.4L752.6 521.7L754.1 520.1L755.8 518.1L757.6 516.5L759.2 516.9L761.4 517.9L763.8 518.8L766.2 520.2L768.5 521.8L770.2 522.7L771.7 524.1L773.3 525.8L774.9 527.4L776.5 529.0L777.8 531.1L778.9 533.0L779.6 534.5L780.2 536.5L780.9 538.8L781.5 541.2L782.1 543.8L782.8 546.2L783.4 548.5L784.0 550.5L784.6 552.3L785.4 554.6L786.2 557.1L787.2 559.7L788.1 562.3L789.0 564.7L789.9 566.7L790.8 568.2L791.5 569.5L793.2 569.5L795.2 567.7L797.3 566.0L799.0 564.3L801.4 564.0L804.1 564.2L806.5 564.8L807.6 565.7L808.9 567.5L810.3 570.0L811.7 572.2L812.9 574.6L814.0 574.5L816.2 574.7L818.5 573.0L820.3 572.5L820.8 574.3L821.3 576.3L821.8 578.8L822.3 581.6L822.8 584.3L823.4 586.5L824.1 588.2L825.5 589.4L827.3 591.1L829.3 591.3L831.3 591.8L832.9 593.0L834.4 594.3L836.0 595.3L837.7 597.3L839.2 598.7L840.4 600.5L841.2 602.2L842.1 604.7L842.9 607.3L843.7 609.7L844.6 611.9L845.4 613.1L847.8 615.2L850.7 616.2L852.9 613.1L853.2 612.1L853.6 610.5L853.9 608.5L854.2 606.2L854.4 603.6L854.7 601.0L855.0 598.2L855.3 595.5L855.5 593.0L855.8 590.6L856.1 588.5L856.4 586.8L856.7 585.7L858.6 583.0L861.0 581.4L863.0 582.5L864.0 582.9L865.1 583.9L866.2 586.3L867.2 588.5L868.0 590.6L868.4 592.2L868.8 594.3L869.2 596.8L869.7 599.4L870.1 601.9L870.6 604.1L871.1 606.0L871.7 607.1L873.5 607.8L876.1 608.2L878.7 607.2L880.5 603.3L880.7 602.0L880.9 600.7L881.1 599.0L881.3 597.2L881.5 595.1L881.7 592.9L881.9 590.5L882.0 588.0L882.2 585.5L882.4 582.8L882.5 580.1L882.7 577.4L882.8 574.7L883.0 572.1L883.1 569.5L883.3 567.0L883.5 564.6L883.6 562.4L883.8 560.3L883.9 558.5L884.1 556.9L884.3 555.5L884.8 552.8L885.3 550.3L885.9 548.0L886.6 545.6L887.3 543.6L888.0 541.5L888.7 539.9L889.3 538.2L890.0 536.6L890.5 535.4L891.6 532.8L892.9 530.2L894.3 528.2L895.6 525.8L896.8 525.9L897.9 526.6L899.1 528.2L900.5 531.0L901.9 533.7L903.2 535.4L904.3 536.9L906.1 535.8L908.2 533.4L910.3 531.3L911.9 530.4L913.0 531.2L914.1 533.0L915.1 535.6L916.1 538.0L916.9 540.3L917.3 542.1L917.7 544.2L918.1 546.7L918.6 549.4L919.0 551.9L919.5 554.1L920.0 555.7L920.6 556.5L922.0 557.4L923.9 556.4L926.1 554.2L928.0 552.5L929.4 550.4L929.9 549.0L930.4 546.9L930.9 544.4L931.3 541.7L931.8 538.9L932.1 536.2L932.5 533.8L932.9 531.8L933.2 530.3L935.0 527.2L936.9 527.9L937.1 528.9L937.4 530.2L937.7 531.9L938.0 533.8L938.3 536.0L938.6 538.3L939.0 540.8L939.3 543.3L939.6 545.9L939.9 548.5L940.2 551.0L940.5 553.3L940.7 555.5L940.9 557.1L941.1 559.0L941.3 561.0L941.5 563.3L941.7 565.6L941.9 568.1L942.1 570.7L942.4 573.3L942.6 575.9L942.8 578.5L943.1 581.1L943.3 583.6L943.5 586.1L943.7 588.3L943.9 590.5L944.1 592.4L944.3 594.1L944.5 595.6L944.9 598.1L945.3 600.4L945.7 602.4L946.2 604.5L946.6 606.4L947.1 608.4L947.5 610.6L947.9 613.0L948.2 615.7L948.3 617.1L948.4 618.7L948.5 620.6L948.6 622.7L948.7 624.9L948.8 627.3L948.9 629.8L949.0 632.4L949.1 635.1L949.1 637.8L949.2 640.5L949.3 643.1L949.5 645.7L949.6 648.2L949.7 650.6L949.8 652.8L950.0 654.9L950.1 656.8L950.3 658.4L950.5 659.7L950.7 660.8L952.4 664.1L954.9 665.1L957.5 665.6L959.5 663.0L960.1 662.2L960.8 660.2L961.4 657.7L962.1 655.0L962.8 652.1L963.4 649.2L964.1 646.6L964.7 644.3L965.3 642.9L965.8 641.6L966.6 642.3L967.5 643.3L968.5 645.3L969.5 648.0L970.5 650.8L971.3 653.4L972.0 655.8L972.4 657.5L972.8 659.5L973.2 661.9L973.5 664.5L973.9 667.1L974.3 669.8L974.6 672.3L975.0 674.7L975.4 676.7L975.8 678.4L976.5 680.6L977.3 683.1L978.3 685.6L979.3 688.1L980.4 690.0L981.3 691.7L982.1 691.8L983.6 692.1L985.3 690.9L986.9 688.8L988.3 685.9L988.7 684.6L989.1 683.0L989.5 681.1L989.9 678.9L990.3 676.5L990.8 674.0L991.2 671.5L991.7 669.0L992.1 666.7L992.5 664.4L993.0 662.5L993.4 660.8L994.0 658.8L994.6 656.9L995.4 654.8L996.2 652.7L997.0 650.3L997.9 648.3L998.7 646.2L999.5 644.2L1000.2 642.4L1000.9 640.9L1001.6 639.0L1002.4 637.1L1003.2 634.9L1004.1 632.6L1005.0 630.5L1005.9 628.6L1006.7 626.3L1007.6 624.8L1008.4 623.4L1009.6 621.9L1011.0 620.1L1012.6 618.4L1014.3 616.3L1015.9 614.3L1017.3 612.7L1018.4 610.6L1019.0 609.3L1019.6 607.7L1020.2 605.9L1020.8 604.0L1021.4 601.9L1022.0 599.7L1022.5 597.4L1023.1 595.1L1023.7 592.7L1024.2 590.4L1024.7 588.1L1025.0 586.7L1025.3 585.0L1025.7 583.2L1026.1 581.1L1026.5 579.0L1026.9 576.7L1027.3 574.3L1027.8 571.9L1028.2 569.5L1028.7 566.9L1029.1 564.4L1029.6 562.0L1030.0 559.6L1030.4 557.3L1030.8 555.1L1031.2 553.1L1031.6 551.2L1031.9 549.5L1032.2 548.0L1032.7 545.8L1033.2 543.5L1033.7 541.1L1034.2 538.8L1034.8 536.3L1035.3 534.1L1035.9 531.8L1036.5 529.8L1037.0 527.8L1037.5 525.9L1038.0 524.3L1038.5 522.9L1039.4 520.9L1040.5 518.9L1041.7 517.2L1042.9 515.6L1044.1 514.2L1045.2 512.1L1046.0 510.2L1046.5 508.5L1047.0 506.3L1047.5 503.5L1048.0 500.6L1048.6 497.7L1049.1 494.8L1049.6 492.2L1050.1 490.1L1050.5 488.4L1051.0 487.7L1051.7 488.5L1052.6 489.3L1053.6 491.5L1054.6 494.2L1055.6 497.2L1056.5 500.2L1057.3 502.7L1057.7 504.2L1058.1 506.0L1058.6 507.8L1059.1 509.9L1059.6 512.0L1060.1 514.4L1060.7 516.8L1061.2 519.2L1061.7 521.6L1062.2 523.9L1062.7 526.2L1063.2 528.4L1063.6 530.4L1064.0 532.1L1064.4 534.0L1064.8 536.0L1065.3 538.2L1065.8 540.5L1066.3 542.9L1066.8 545.3L1067.3 547.8L1067.9 550.3L1068.4 552.8L1068.9 555.2L1069.4 557.5L1069.9 559.7L1070.3 561.9L1070.7 563.8L1071.1 565.5L1071.5 567.4L1071.9 569.5L1072.4 571.8L1072.9 574.2L1073.3 576.6L1073.8 579.0L1074.3 581.4L1074.8 583.8L1075.3 586.1L1075.7 588.4L1076.2 590.4L1076.6 592.4L1077.0 594.1L1077.4 595.6L1078.1 598.1L1078.8 600.7L1079.7 603.4L1080.5 606.0L1081.3 608.4L1082.2 610.5L1082.9 612.1L1083.6 613.2L1085.6 612.4L1087.9 610.7L1089.9 610.7L1090.7 612.0L1091.6 613.7L1092.6 616.2L1093.6 618.9L1094.6 621.5L1095.5 623.7L1096.2 625.8L1096.9 627.8L1097.7 630.4L1098.4 633.0L1099.2 635.2L1099.9 636.7L1100.7 635.8L1101.4 636.3L1102.2 634.8L1103.1 632.7L1104.0 630.2L1105.0 627.5L1105.9 624.9L1106.8 622.6L1107.5 620.7L1108.3 618.7L1109.0 616.4L1109.9 613.8L1110.8 611.4L1111.7 609.0L1112.7 607.2L1113.7 605.9L1115.3 604.5L1117.4 603.6L1119.8 603.1L1122.3 602.0L1124.5 601.8L1126.3 601.0L1127.9 599.2L1129.7 598.5L1131.6 596.6L1133.4 595.3L1135.0 593.0L1136.3 590.5L1136.8 589.2L1137.3 587.4L1137.8 585.4L1138.2 583.0L1138.7 580.5L1139.2 577.9L1139.6 575.2L1140.1 572.7L1140.6 570.2L1141.1 568.0L1141.6 565.9L1142.1 564.3L1142.6 562.9L1144.1 561.6L1145.9 560.5L1148.1 560.7L1150.2 560.1L1152.2 558.4L1153.9 557.9L1155.2 556.7L1156.8 555.3L1158.4 553.6L1160.0 551.2L1161.5 549.6L1162.9 547.5L1163.9 545.6L1164.5 543.7L1165.1 541.7L1165.6 539.3L1166.1 536.7L1166.7 534.2L1167.2 531.6L1167.7 529.2L1168.3 527.2L1168.9 525.5L1170.0 523.2L1171.3 521.9L1172.9 519.9L1174.6 517.8L1176.2 515.9L1177.7 514.4L1178.9 513.0L1179.8 511.4L1180.7 509.3L1181.7 507.4L1182.7 505.0L1183.7 502.9L1184.6 501.1L1185.6 498.9L1186.5 497.9L1187.9 496.2L1189.7 494.9L1191.7 493.7L1193.6 492.1L1195.4 492.5L1196.9 491.1L1199.0 490.6L1201.4 492.3L1203.6 491.8L1205.5 493.8L1206.8 495.1L1208.2 497.4L1209.7 499.2L1211.1 501.4L1212.4 502.2L1214.4 503.0L1216.8 501.7L1219.2 501.2L1221.0 500.5L1221.7 499.2L1222.4 496.8L1223.0 493.9L1223.6 491.1L1224.1 488.5L1224.7 486.7L1225.3 485.9L1226.1 486.5L1227.1 488.7L1228.1 491.2L1229.2 494.3L1230.3 497.1L1231.3 498.9L1233.1 501.1L1235.3 503.4L1237.5 505.6L1239.1 504.5L1239.5 503.1L1239.8 501.9L1240.2 500.3L1240.6 498.3L1240.9 496.2L1241.3 494.0L1241.6 491.5L1242.0 489.0L1242.3 486.4L1242.6 483.8L1242.9 481.3L1243.2 478.8L1243.4 476.5L1243.6 474.9L1243.7 473.2L1243.9 471.2L1244.0 469.1L1244.2 466.8L1244.4 464.4L1244.5 461.9L1244.7 459.4L1244.9 456.8L1245.1 454.1L1245.2 451.5L1245.4 448.9L1245.6 446.3L1245.8 443.9L1245.9 441.5L1246.1 439.2L1246.3 437.0L1246.5 435.1L1246.6 433.3L1246.8 431.7L1247.1 429.3L1247.4 426.8L1247.8 424.2L1248.2 421.4L1248.6 418.7L1249.0 416.0L1249.5 413.4L1249.9 411.0L1250.4 408.8L1250.8 406.9L1251.2 405.3L1251.6 404.2L1252.0 403.6L1252.9 402.2L1253.9 403.8L1255.0 406.0L1256.2 408.5L1257.2 411.6L1258.0 414.3L1258.3 415.8L1258.6 417.6L1258.9 419.6L1259.2 421.9L1259.6 424.4L1259.9 427.0L1260.2 429.7L1260.5 432.4L1260.8 435.0L1261.1 437.6L1261.4 439.9L1261.7 442.0L1262.0 443.9L1262.3 445.5L1262.9 448.2L1263.6 451.0L1264.4 453.8L1265.3 456.1L1266.1 458.2L1266.8 459.8L1267.5 459.9L1268.3 459.8L1269.2 457.9L1270.2 455.3L1271.2 452.4L1272.0 449.6L1272.7 447.2L1273.1 445.5L1273.5 443.3L1273.9 440.9L1274.4 438.4L1274.8 435.9L1275.2 433.5L1275.6 431.5L1276.1 429.9L1277.1 427.6L1278.3 424.6L1279.7 422.5L1281.0 420.8L1282.1 420.6L1282.8 421.1L1283.5 422.9L1284.3 425.1L1285.2 427.5L1286.0 430.2L1286.8 432.8L1287.6 435.0L1288.2 436.9L1289.0 438.9L1289.9 441.3L1290.8 443.6L1291.6 445.8L1292.5 447.7L1293.3 448.5L1295.2 450.2L1297.5 450.5L1299.4 450.0L1299.9 448.4L1300.5 446.5L1301.0 443.9L1301.6 441.1L1302.1 438.2L1302.6 435.5L1303.2 433.3L1303.7 431.6L1305.0 429.3L1306.6 427.0L1308.3 425.6L1309.7 426.4L1310.6 426.8L1311.6 427.8L1312.7 430.1L1313.8 432.3L1314.8 434.6L1315.7 436.8L1316.3 438.3L1317.0 440.2L1317.7 442.4L1318.5 444.8L1319.2 447.2L1320.0 449.6L1320.7 451.9L1321.3 454.1L1321.8 455.8L1322.3 457.7L1322.9 459.7L1323.5 461.8L1324.1 464.1L1324.7 466.3L1325.2 468.5L1325.7 470.8L1326.1 473.0L1326.4 474.6L1326.6 476.6L1326.9 478.7L1327.2 481.1L1327.5 483.6L1327.8 486.2L1328.0 488.7L1328.3 491.1L1328.6 493.4L1328.9 495.5L1329.2 497.3L1329.5 498.8L1330.2 501.2L1331.1 503.2L1332.0 505.1L1333.0 506.7L1333.9 508.8L1334.7 511.0L1335.1 512.4L1335.6 514.2L1336.1 516.2L1336.7 518.4L1337.2 520.6L1337.8 523.0L1338.4 525.3L1338.9 527.6L1339.4 529.7L1339.8 531.6L1340.2 533.4L1340.6 535.4L1341.1 537.7L1341.6 540.1L1342.1 542.6L1342.7 545.1L1343.2 547.5L1343.7 549.9L1344.2 552.0L1344.6 554.1L1345.0 555.7L1345.6 557.8L1346.2 560.1L1346.9 562.4L1347.6 564.7L1348.3 567.1L1349.0 569.2L1349.6 571.1L1350.2 572.9L1350.8 574.9L1351.5 577.3L1352.3 579.6L1353.1 581.9L1353.8 584.4L1354.6 586.6L1355.3 588.5L1356.1 590.2L1357.0 592.3L1358.1 594.4L1359.2 596.3L1360.3 598.6L1361.3 600.4L1362.2 602.3L1363.1 604.1L1364.1 606.3L1365.3 609.0L1366.4 611.6L1367.4 613.7L1368.4 615.0L1369.1 616.6L1369.8 615.6L1370.4 614.3L1371.1 612.3L1371.6 609.9L1372.2 607.0L1372.6 603.9L1372.8 602.6L1372.9 601.0L1373.1 599.1L1373.2 597.0L1373.4 594.8L1373.6 592.4L1373.7 589.9L1373.9 587.4L1374.1 584.8L1374.2 582.3L1374.4 579.8L1374.6 577.4L1374.7 575.1L1374.9 573.0L1375.0 571.2L1375.2 569.5L1375.4 567.4L1375.6 565.2L1375.9 562.9L1376.2 560.5L1376.4 558.2L1376.7 555.8L1377.0 553.4L1377.3 551.2L1377.7 549.0L1378.0 547.0L1378.3 545.2L1378.6 543.6L1379.1 541.5L1379.7 539.1L1380.4 536.6L1381.1 534.0L1381.9 531.5L1382.7 529.3L1383.4 527.4L1384.0 525.7L1384.6 524.5L1387.3 523.5L1389.8 526.0L1390.5 528.2L1391.2 531.1L1391.8 534.1L1392.5 536.2L1393.2 537.4L1393.6 535.9L1394.2 534.4L1394.8 532.4L1395.5 529.9L1396.1 527.3L1396.8 524.6L1397.4 522.0L1398.0 519.7L1398.4 517.8L1398.8 515.8L1399.2 513.6L1399.6 511.1L1400.0 508.6L1400.4 506.2L1400.9 504.0L1401.3 502.2L1401.8 500.6L1402.8 498.6L1404.2 497.1L1405.8 495.0L1407.3 494.2L1408.7 492.6L1410.6 492.1L1413.0 489.9L1415.4 489.9L1417.4 490.0L1419.0 491.0L1420.9 491.6L1422.9 493.6L1424.7 495.4L1426.0 497.1L1426.7 498.7L1427.4 501.0L1428.1 503.6L1428.7 506.3L1429.2 508.8L1429.8 511.1L1430.3 512.6L1431.6 515.1L1433.2 517.1L1434.6 517.8L1435.5 516.9L1436.6 514.7L1437.8 512.0L1438.8 509.5L1439.7 507.5L1440.4 505.5L1441.1 503.3L1441.8 501.0L1442.5 498.8L1443.2 497.1L1444.4 495.1L1446.0 492.7L1447.7 491.1L1449.2 490.2L1450.8 490.5L1452.8 491.9L1454.7 493.7L1456.1 495.7L1456.6 497.0L1457.1 499.1L1457.5 501.5L1458.0 504.2L1458.4 506.8L1458.9 509.0L1459.5 510.9L1460.5 512.9L1461.8 515.0L1463.2 517.8L1464.7 519.6L1466.1 521.3L1467.3 521.5L1468.6 521.9L1470.0 520.1L1471.5 517.9L1473.0 516.0L1474.2 514.0L1475.8 513.3L1477.6 512.1L1479.5 510.5L1481.1 509.2L1482.0 507.6L1483.0 505.9L1484.1 503.8L1485.2 501.6L1486.3 499.5L1487.2 497.2L1488.0 495.5L1488.6 493.6L1489.3 491.5L1490.0 489.2L1490.6 486.7L1491.3 484.2L1491.9 481.9L1492.6 479.9L1493.1 478.3L1493.9 476.1L1494.8 474.0L1495.7 471.9L1496.6 469.7L1497.5 467.7L1498.3 466.3L1499.2 464.4L1500.3 462.7L1501.5 461.0L1502.6 459.3L1503.5 457.4L1504.2 455.7L1505.1 452.9L1506.0 450.0L1506.9 447.4L1507.8 445.5L1508.6 444.2L1509.6 445.2L1510.8 446.4L1512.1 448.8L1513.4 451.4L1514.6 453.8L1515.5 455.8L1516.1 457.4L1516.8 459.4L1517.5 461.5L1518.1 463.8L1518.7 465.9L1519.3 467.9L1519.8 469.6L1520.3 471.4L1520.9 473.2L1521.5 475.2L1522.1 477.3L1522.8 479.4L1523.5 481.5L1524.1 483.3L1524.7 485.2L1525.5 487.5L1526.3 490.2L1527.2 492.9L1528.2 495.5L1529.2 498.0L1530.1 499.5L1531.0 500.8L1532.7 501.1L1534.9 499.3L1537.2 498.3L1539.5 496.4L1541.3 494.5L1543.4 494.6L1545.8 494.5L1548.1 493.5L1549.9 492.1L1551.1 490.6L1552.4 488.3L1553.7 486.0L1554.9 484.2L1556.0 482.6L1557.6 483.5L1559.5 485.8L1561.4 487.6L1562.9 490.3L1563.5 491.8L1564.2 493.9L1564.8 496.4L1565.5 499.0L1566.1 501.5L1566.6 503.8L1567.2 505.7L1567.9 507.7L1568.7 509.9L1569.6 512.1L1570.5 514.2L1571.5 516.3L1572.3 517.9L1573.4 519.8L1574.8 521.7L1576.3 523.8L1577.8 525.7L1579.2 526.2L1581.1 527.5L1583.5 526.6L1585.9 525.1L1587.8 524.6L1589.5 523.2L1591.2 521.1L1593.0 519.6L1594.7 517.1L1596.6 516.9L1598.9 516.7L1601.3 515.3L1603.3 515.4L1605.3 515.2L1607.7 516.5L1610.0 518.2L1612.0 519.0L1613.6 520.2L1615.4 520.9L1617.3 522.4L1619.1 523.5L1620.6 524.5L1622.3 525.9L1624.1 528.2L1625.8 530.8L1627.5 529.4L1629.0 530.6L1630.8 528.7L1632.8 528.4L1634.6 526.1L1636.1 524.7L1637.0 523.2L1638.0 521.3L1639.0 518.9L1640.1 516.3L1641.1 514.1L1642.1 512.3L1643.0 511.3L1644.9 509.2L1647.1 509.7L1649.5 509.6L1651.6 509.3L1653.1 510.0L1654.8 511.0L1656.7 511.2L1658.7 513.1L1660.4 514.8L1661.9 516.0L1662.9 517.6L1664.0 519.5L1665.1 521.2L1666.2 523.3L1667.3 525.7L1668.4 527.7L1669.5 530.1L1670.5 531.9L1671.6 533.3L1672.8 535.5L1674.2 538.3L1675.6 540.7L1677.1 542.9L1678.5 544.7L1679.7 546.3L1680.8 547.2L1682.2 547.2L1683.7 544.8L1685.2 543.5L1686.8 541.0L1688.2 538.8L1689.5 536.8L1690.3 535.1L1691.2 533.5L1692.1 531.4L1693.1 529.3L1694.1 527.2L1695.2 525.1L1696.2 522.9L1697.2 521.0L1698.1 519.9L1699.1 518.1L1700.4 515.7L1701.8 513.7L1703.3 511.6L1704.9 509.6L1706.4 507.9L1707.8 505.9L1709.1 505.0L1710.1 504.4L1711.2 506.2L1712.3 507.3L1713.5 509.5L1714.7 512.2L1715.8 514.8L1716.9 517.7L1717.8 519.5L1718.7 521.1L1720.4 522.9L1722.3 524.4L1724.1 524.4L1725.6 524.8L1726.2 523.4L1726.9 521.7L1727.6 519.2L1728.3 516.5L1729.0 513.7L1729.6 511.1L1730.2 509.1L1730.8 507.3L1732.4 504.7L1734.2 502.9L1736.0 503.5L1737.2 504.0L1738.6 505.7L1740.1 507.6L1741.6 509.9L1742.9 512.4L1743.4 514.0L1744.0 515.8L1744.7 517.8L1745.3 520.1L1746.0 522.5L1746.7 525.0L1747.4 527.4L1748.1 529.6L1748.7 531.8L1749.2 533.6L1749.7 535.0L1750.7 537.5L1751.7 540.0L1752.7 541.8L1753.8 543.5L1754.9 545.2L1756.1 546.9L1757.7 548.5L1759.5 551.3L1761.4 553.2L1763.0 554.2L1764.4 555.8L1765.7 553.5L1767.2 552.9L1768.7 550.5L1770.2 548.2L1771.3 546.0L1772.1 545.3" fill="none" stroke="#ff0000" stroke-width="15.2" stroke-linecap="round" stroke-linejoin="round"/>
<mask id="hm2" maskUnits="userSpaceOnUse" x="0" y="0" width="1916" height="1487"><rect width="1916" height="1487" fill="#fff"/><path d="M247.5 950.5L248.5 951.5L250.1 953.1L252.1 955.0L254.2 956.8L256.4 958.7L258.4 959.8L260.0 960.6L261.2 959.0L262.4 959.1L263.8 956.0L265.2 954.9L266.6 952.9L268.1 950.6L269.4 948.4L270.8 946.6L272.0 945.2L273.2 943.8L274.6 941.3L276.1 939.5L277.7 937.0L279.4 935.1L281.1 932.6L282.7 930.9L284.1 929.7L285.4 928.2L286.4 928.1L287.4 928.2L288.3 929.8L289.2 931.6L290.1 934.0L291.0 936.7L291.8 939.3L292.5 941.9L293.3 943.8L293.9 945.2L295.1 947.5L296.5 949.2L297.9 950.8L299.2 953.0L300.2 955.7L300.5 957.0L300.7 958.8L301.0 960.9L301.3 963.4L301.5 966.0L301.7 968.7L302.0 971.5L302.2 974.2L302.5 976.8L302.8 979.3L303.0 981.4L303.3 983.3L303.7 984.7L304.0 985.6L305.4 986.2L307.3 983.7L309.4 980.9L311.3 978.8L312.7 978.3L313.2 979.0L313.7 980.9L314.2 983.1L314.6 985.8L315.0 988.6L315.4 991.5L315.7 994.2L316.1 996.5L316.5 998.2L317.2 1000.5L318.0 1003.1L318.9 1005.6L319.8 1007.4L320.7 1009.1L321.5 1009.0L322.2 1009.1L323.1 1006.9L324.1 1004.4L325.2 1001.6L326.2 998.9L327.1 996.9L327.8 995.9L329.5 996.6L331.3 999.9L332.8 998.4L333.0 997.1L333.3 995.6L333.5 993.8L333.8 991.5L334.0 989.1L334.3 986.4L334.5 983.7L334.8 980.9L335.0 978.1L335.3 975.4L335.5 972.8L335.8 970.5L336.1 968.5L336.3 966.8L336.6 965.5L337.9 963.5L339.7 964.4L341.5 963.3L342.8 960.7L343.0 959.5L343.1 958.1L343.3 956.4L343.5 954.5L343.6 952.4L343.8 950.2L343.9 947.7L344.1 945.2L344.2 942.6L344.4 939.8L344.6 937.1L344.7 934.3L344.9 931.5L345.0 928.8L345.2 926.1L345.4 923.6L345.5 921.1L345.7 918.8L345.9 916.7L346.0 914.7L346.2 913.0L346.4 911.6L346.6 910.4L347.8 906.3L349.4 903.6L351.1 902.3L352.8 901.3L354.1 902.0L354.9 902.5L355.9 904.0L356.9 906.1L357.9 908.5L358.8 911.3L359.7 913.5L360.4 915.5L361.2 917.5L361.9 919.8L362.7 922.3L363.5 924.7L364.4 926.7L365.4 927.6L367.0 928.3L369.1 928.9L371.4 929.5L373.7 929.3L375.4 930.6L376.6 932.0L377.9 933.3L379.2 935.3L380.5 937.1L381.8 939.1L383.0 940.8L384.7 942.4L386.9 943.6L389.1 944.7L391.3 947.2L393.0 945.5L394.9 946.4L396.9 945.7L398.9 944.8L400.5 943.1L401.2 941.6L402.0 940.0L402.9 937.6L403.7 935.0L404.6 932.3L405.4 929.7L406.1 927.5L406.8 925.6L407.5 923.4L408.3 920.7L409.1 917.7L410.0 914.6L410.9 911.8L411.7 909.7L412.4 908.3L413.0 908.2L413.4 908.4L413.8 909.4L414.2 910.9L414.6 912.9L415.0 915.2L415.4 917.8L415.8 920.7L416.1 923.8L416.5 927.1L416.8 930.5L416.9 931.8L417.0 933.2L417.1 934.9L417.3 936.7L417.4 938.6L417.5 940.7L417.6 942.9L417.8 945.2L417.9 947.5L418.0 950.0L418.2 952.5L418.3 955.1L418.4 957.7L418.6 960.3L418.7 963.0L418.9 965.6L419.0 968.2L419.1 970.8L419.3 973.4L419.4 975.8L419.6 978.2L419.7 980.6L419.8 982.8L420.0 984.9L420.1 986.9L420.2 988.7L420.4 990.4L420.5 991.9L420.6 993.2L420.9 996.2L421.3 999.2L421.7 1002.2L422.1 1005.1L422.6 1007.9L423.0 1010.6L423.5 1012.9L424.0 1015.0L424.4 1016.7L424.8 1018.1L425.2 1019.0L425.6 1019.9L426.0 1019.1L426.5 1018.4L427.0 1016.8L427.6 1014.6L428.1 1012.0L428.6 1009.3L429.2 1006.4L429.7 1003.5L430.2 1000.7L430.6 998.2L430.8 996.7L431.1 994.9L431.4 992.9L431.6 990.8L431.9 988.5L432.2 986.0L432.5 983.5L432.8 980.9L433.1 978.3L433.4 975.7L433.8 973.2L434.1 970.7L434.4 968.3L434.7 966.1L435.0 964.1L435.3 962.2L435.6 960.6L436.1 958.5L436.6 956.2L437.2 953.9L437.8 951.7L438.5 949.4L439.2 947.0L439.9 944.8L440.6 942.7L441.3 940.7L442.0 938.8L442.6 937.0L443.1 935.5L443.8 933.5L444.6 931.4L445.4 929.2L446.3 926.9L447.2 924.9L448.1 922.9L449.0 920.9L449.9 919.4L450.7 918.0L452.1 916.1L453.7 914.2L455.6 911.4L457.4 910.5L459.2 909.3L460.7 907.3L462.5 906.1L464.7 906.2L466.9 906.5L469.0 907.3L470.7 907.2L471.7 908.9L472.8 910.5L473.9 912.8L475.0 915.0L476.1 917.2L477.2 918.9L478.2 920.2L479.9 922.2L482.1 923.0L484.4 924.9L486.6 925.3L488.3 925.3L489.2 924.4L490.2 923.2L491.2 921.1L492.2 918.6L493.2 916.4L494.1 913.9L495.0 912.1L495.8 910.2L497.1 908.2L498.7 905.9L500.3 904.5L501.9 902.7L503.3 901.3L504.9 901.8L506.9 902.3L508.9 903.6L510.7 905.3L512.1 908.0L512.5 909.2L512.8 910.8L513.1 912.7L513.4 914.9L513.7 917.2L514.0 919.7L514.3 922.3L514.5 924.9L514.8 927.4L515.0 929.7L515.3 931.9L515.6 933.9L515.9 935.5L516.4 937.6L516.9 940.0L517.5 942.7L518.2 945.4L518.9 948.1L519.7 950.5L520.4 952.5L521.0 954.2L521.6 955.4L522.1 955.3L522.5 954.8L523.0 954.0L523.4 952.0L523.9 949.8L524.4 947.1L524.8 944.4L525.3 941.6L525.8 939.0L526.2 936.5L526.7 934.6L527.1 932.9L528.1 930.5L529.3 928.7L530.7 926.4L532.0 924.2L533.4 923.1L534.7 921.4L536.4 919.5L538.3 917.5L540.2 914.9L542.0 913.9L543.5 912.9L545.0 913.2L546.7 915.0L548.5 917.3L550.3 919.5L552.0 922.4L553.5 922.6L555.3 922.4L557.4 922.9L559.6 921.6L561.7 921.9L563.5 921.2L565.0 919.3L566.7 917.3L568.5 915.2L570.3 913.3L572.0 911.8L573.5 910.9L575.3 909.5L577.4 909.6L579.7 908.5L581.8 909.9L583.6 910.8L585.1 911.9L586.9 913.3L588.7 915.5L590.6 918.7L592.2 919.7L593.6 920.2L594.8 920.0L596.1 918.3L597.3 916.5L598.6 914.3L599.9 911.9L601.1 910.1L602.5 908.6L604.2 905.8L606.0 904.6L607.9 902.2L609.7 900.5L611.2 900.6L612.7 901.2L614.5 902.1L616.3 903.9L618.2 905.9L619.8 908.3L621.2 910.2L622.1 911.6L623.1 913.5L624.1 915.5L625.1 917.5L626.1 919.9L627.0 921.8L627.9 923.8L628.7 925.9L629.4 927.3L630.3 929.1L631.2 931.3L632.1 933.6L633.0 935.9L634.0 938.1L634.8 939.9L635.6 941.6L636.2 943.1L637.9 946.4L639.7 948.4L641.3 947.5L641.8 946.9L642.4 945.6L643.0 943.6L643.7 941.2L644.3 938.6L645.0 936.0L645.7 933.6L646.4 931.3L647.0 929.3L647.5 927.7L648.9 925.2L650.5 922.8L652.1 920.7L653.8 921.3L655.1 920.4L656.8 922.5L658.6 923.7L660.5 925.3L662.3 927.3L663.8 927.4L665.7 929.4L667.8 928.6L670.1 929.0L672.2 930.0L673.9 930.6L675.1 931.6L676.4 934.0L677.8 936.0L679.1 938.3L680.3 939.6L681.4 940.4L682.5 940.3L683.9 938.7L685.3 936.8L686.7 935.0L687.9 932.7L688.9 930.4L689.4 928.8L690.0 926.7L690.5 924.3L691.0 921.6L691.5 918.9L692.1 916.2L692.6 913.9L693.3 911.9L693.9 910.0L695.5 908.7L697.6 907.8L700.0 906.5L702.2 907.1L704.0 905.4L705.5 904.1L707.0 901.9L708.6 901.0L710.1 899.5L711.5 897.4L713.4 895.9L715.6 895.1L717.9 892.7L720.0 893.1L721.4 893.4L723.1 895.2L724.9 896.1L726.8 898.0L728.5 899.2L730.0 899.8L731.5 901.6L733.3 903.5L735.2 904.1L737.1 905.6L738.8 906.8L740.0 908.2L741.1 910.1L741.9 912.8L742.8 915.3L743.8 916.9L745.0 918.7L746.1 917.3L747.6 916.0L749.4 914.5L751.2 911.7L753.1 910.1L754.9 907.6L756.4 905.4L757.6 905.6L759.1 906.0L760.5 907.5L761.8 909.6L762.9 912.6L763.9 915.7L764.2 917.0L764.6 918.7L764.9 920.7L765.3 923.0L765.6 925.4L766.0 928.0L766.3 930.7L766.7 933.3L767.1 935.9L767.4 938.3L767.8 940.6L768.2 942.6L768.5 944.4L768.9 945.7L769.9 948.5L771.2 951.0L772.6 953.0L774.1 955.1L775.4 956.6L776.4 956.5L777.0 954.8L777.6 952.9L778.1 950.4L778.7 947.5L779.3 944.7L779.9 941.9L780.6 939.6L781.4 938.6L783.2 937.5L785.6 937.1L788.3 938.1L790.8 936.7L792.7 935.9L793.5 934.6L794.2 933.0L795.0 931.0L795.8 928.8L796.6 926.2L797.3 923.9L798.1 921.5L798.9 919.2L799.6 917.3L800.3 915.6L801.2 913.6L802.2 911.7L803.4 909.1L804.7 906.7L805.9 904.4L807.2 902.3L808.4 900.8L809.4 900.0L810.3 898.9L811.2 899.9L812.2 901.0L813.2 903.0L814.2 905.3L815.2 908.1L816.1 910.7L817.0 913.3L817.8 915.6L818.3 917.1L818.9 918.9L819.6 920.8L820.2 922.8L820.9 925.2L821.6 927.5L822.3 929.8L823.0 932.2L823.6 934.4L824.2 936.7L824.8 938.8L825.3 940.7L825.7 942.4L826.1 944.4L826.6 946.7L827.1 949.1L827.5 951.6L828.0 954.2L828.5 956.8L829.0 959.3L829.5 961.7L829.9 964.1L830.4 966.1L830.8 968.0L831.2 969.6L831.6 970.9L833.1 974.3L834.8 976.8L836.4 977.7L837.9 975.6L838.3 974.9L838.7 973.5L839.1 971.7L839.6 969.7L840.1 967.4L840.6 964.9L841.1 962.3L841.6 959.6L842.0 956.9L842.5 954.3L843.0 951.8L843.4 949.5L843.8 947.5L844.1 945.7L844.5 943.7L844.9 941.6L845.3 939.3L845.7 936.9L846.1 934.5L846.5 932.0L847.0 929.7L847.4 927.4L847.8 925.3L848.3 923.4L848.7 921.9L849.2 920.8L850.6 918.0L852.4 916.2L854.4 914.5L856.3 913.4L857.9 912.5L859.4 913.8L861.0 916.6L862.7 919.3L864.3 920.6L865.5 920.9L865.9 919.7L866.2 918.3L866.6 916.4L867.0 914.2L867.3 911.7L867.7 909.1L868.1 906.3L868.4 903.5L868.8 900.8L869.1 898.2L869.5 895.7L869.8 893.6L870.2 891.8L870.5 890.5L871.8 887.0L873.5 884.1L875.2 883.2L876.7 883.4L877.3 883.9L877.9 885.8L878.6 888.0L879.3 890.8L880.1 893.7L880.9 896.7L881.7 899.4L882.4 902.0L883.1 904.0L883.7 905.2L884.3 906.2L884.8 904.9L885.3 903.9L885.8 902.1L886.3 899.8L886.9 897.2L887.4 894.4L887.9 891.5L888.5 888.7L889.0 886.1L889.5 883.8L890.0 881.7L890.5 880.2L892.2 878.1L894.2 876.9L896.3 875.7L898.1 875.8L899.5 875.8L901.1 877.2L902.8 878.3L904.4 880.1L905.6 883.1L905.9 884.2L906.3 885.8L906.6 887.8L906.9 890.0L907.3 892.3L907.6 894.8L907.9 897.5L908.3 900.1L908.6 902.8L908.9 905.4L909.3 907.8L909.6 910.2L909.9 912.2L910.3 914.1L910.6 915.6L911.2 917.9L911.9 920.4L912.8 922.8L913.6 925.1L914.6 927.2L915.5 929.3L916.4 931.4L917.3 932.4L918.1 933.6L919.8 934.1L922.0 931.6L924.3 929.7L926.5 928.4L928.2 928.7L929.0 929.4L929.9 930.7L930.8 932.5L931.7 934.8L932.7 937.2L933.5 939.7L934.4 941.9L935.1 944.0L935.7 945.7L936.4 947.9L937.1 950.6L937.8 953.5L938.6 956.2L939.3 958.6L940.0 960.6L940.7 960.3L941.4 961.1L942.3 959.5L943.4 957.7L944.5 955.9L945.5 953.4L946.6 950.9L947.5 948.2L948.2 945.7L948.5 944.3L948.8 942.6L949.1 940.6L949.4 938.5L949.8 936.2L950.1 933.7L950.4 931.1L950.7 928.5L951.0 925.9L951.3 923.3L951.6 920.8L951.9 918.4L952.3 916.1L952.6 914.0L952.9 912.2L953.2 910.6L953.7 908.4L954.3 905.8L954.9 903.2L955.6 900.6L956.4 897.9L957.1 895.4L957.9 893.2L958.7 890.9L959.4 889.6L960.1 888.1L960.8 887.6L961.7 888.5L962.7 889.7L963.9 892.1L965.2 894.6L966.4 897.6L967.7 900.7L968.9 902.9L969.9 904.6L970.8 905.9L972.0 905.7L973.3 904.1L974.7 902.4L976.0 900.1L977.2 897.7L978.3 895.5L978.9 894.0L979.7 892.5L980.5 890.7L981.3 888.8L982.1 886.5L982.9 884.2L983.7 882.1L984.5 879.8L985.2 877.7L985.8 875.4L986.2 874.0L986.7 872.1L987.1 870.0L987.6 867.8L988.1 865.4L988.6 862.9L989.1 860.4L989.6 857.9L990.1 855.4L990.5 853.0L991.0 850.8L991.4 848.8L991.8 846.9L992.1 845.4L992.6 843.0L993.1 840.4L993.6 837.6L994.1 834.9L994.6 832.3L995.2 830.0L995.7 828.2L996.1 826.8L996.6 826.3L997.1 826.9L997.7 828.2L998.3 829.8L998.9 831.9L999.6 834.4L1000.3 837.2L1000.9 840.0L1001.5 842.7L1002.1 845.4L1002.4 846.9L1002.7 848.7L1003.1 850.8L1003.4 853.1L1003.8 855.5L1004.2 858.1L1004.6 860.8L1005.0 863.5L1005.4 866.2L1005.8 868.9L1006.2 871.5L1006.6 874.0L1007.0 876.3L1007.4 878.4L1007.8 880.3L1008.1 881.9L1008.4 883.0L1009.9 886.4L1011.6 888.0L1013.2 888.4L1014.7 887.9L1015.6 886.8L1016.6 884.2L1017.6 881.3L1018.7 878.3L1019.8 876.1L1020.9 875.4L1021.8 876.1L1023.0 877.9L1024.3 880.1L1025.8 882.8L1027.2 885.3L1028.6 887.6L1029.9 889.7L1031.0 891.1L1032.5 890.6L1034.2 888.7L1036.0 886.8L1037.8 885.0L1039.5 883.0L1041.0 884.0L1042.5 884.0L1044.1 885.8L1045.9 888.0L1047.7 890.5L1049.4 892.6L1051.0 892.6L1052.5 892.2L1054.4 891.6L1056.4 890.0L1058.5 887.6L1060.5 886.7L1062.3 885.9L1063.6 885.3L1064.3 886.8L1065.1 887.6L1065.8 889.3L1066.5 891.4L1067.1 893.7L1067.8 896.1L1068.3 898.6L1068.9 901.1L1069.4 903.5L1069.8 905.6L1070.1 907.3L1070.4 909.3L1070.7 911.6L1070.9 914.2L1071.2 916.9L1071.5 919.7L1071.8 922.5L1072.0 925.3L1072.3 927.8L1072.6 930.2L1072.8 932.2L1073.1 933.9L1073.3 935.1L1073.6 936.0L1074.1 935.6L1074.7 933.6L1075.3 930.8L1076.0 927.4L1076.7 924.0L1077.3 920.9L1078.0 918.9L1078.6 917.3L1079.1 918.7L1079.7 920.4L1080.3 922.4L1081.0 925.0L1081.7 927.9L1082.4 930.8L1083.1 933.4L1083.7 935.8L1084.4 937.5L1084.9 938.0L1085.8 938.6L1086.9 937.3L1088.1 935.7L1089.3 933.1L1090.3 929.8L1091.2 925.6L1091.4 924.4L1091.6 923.0L1091.8 921.4L1092.0 919.7L1092.1 917.8L1092.3 915.7L1092.5 913.6L1092.7 911.3L1093.0 908.9L1093.2 906.4L1093.4 903.9L1093.6 901.4L1093.8 898.7L1094.0 896.1L1094.2 893.5L1094.4 890.9L1094.6 888.3L1094.8 885.8L1095.0 883.3L1095.2 880.9L1095.4 878.6L1095.6 876.3L1095.8 874.3L1096.0 872.3L1096.2 870.5L1096.4 868.6L1096.6 866.5L1096.9 864.1L1097.1 861.6L1097.4 859.0L1097.7 856.2L1098.0 853.3L1098.3 850.5L1098.6 847.5L1098.9 844.6L1099.2 841.6L1099.5 838.8L1099.8 836.0L1100.1 833.3L1100.5 830.7L1100.8 828.3L1101.1 826.0L1101.4 824.0L1101.7 822.2L1102.0 820.7L1102.2 819.3L1102.5 818.5L1102.8 817.9L1103.0 817.1L1103.2 817.9L1103.5 818.6L1103.8 819.4L1104.0 820.6L1104.3 822.1L1104.6 823.9L1105.0 825.9L1105.3 828.1L1105.6 830.4L1105.9 832.9L1106.3 835.6L1106.6 838.4L1106.9 841.2L1107.2 844.1L1107.6 847.1L1107.9 850.0L1108.2 852.9L1108.5 855.8L1108.8 858.6L1109.1 861.3L1109.3 863.8L1109.6 866.2L1109.8 868.5L1110.0 870.5L1110.2 872.2L1110.3 874.0L1110.5 875.9L1110.7 878.0L1110.9 880.1L1111.1 882.4L1111.2 884.7L1111.4 887.1L1111.6 889.5L1111.8 892.1L1112.0 894.6L1112.2 897.2L1112.4 899.7L1112.6 902.3L1112.8 904.9L1112.9 907.4L1113.1 909.9L1113.3 912.4L1113.5 914.8L1113.7 917.2L1113.8 919.4L1114.0 921.6L1114.2 923.6L1114.3 925.6L1114.5 927.4L1114.6 929.1L1114.7 930.6L1114.9 932.0L1115.0 933.2L1115.4 937.1L1115.9 940.6L1116.4 943.7L1116.8 946.4L1117.3 948.5L1117.8 949.8L1118.3 950.6L1118.7 951.3L1119.0 950.2L1119.4 948.8L1119.8 947.0L1120.2 944.8L1120.6 942.3L1121.1 939.6L1121.5 936.7L1122.0 934.0L1122.5 931.3L1122.9 929.1L1123.4 927.1L1123.8 925.6L1124.8 923.3L1126.0 921.3L1127.3 919.3L1128.7 917.7L1130.1 916.4L1131.3 915.7L1133.0 915.0L1135.2 914.5L1137.4 916.8L1139.6 917.0L1141.3 917.8L1142.5 919.5L1143.9 920.7L1145.3 922.5L1146.6 924.2L1147.8 926.6L1148.8 928.2L1149.5 930.1L1150.3 932.5L1151.0 935.4L1151.7 938.0L1152.4 940.6L1153.2 942.3L1153.9 943.5L1154.9 943.3L1156.1 940.8L1157.4 938.9L1158.8 936.2L1160.2 934.2L1161.4 933.9L1163.1 932.6L1165.2 933.5L1167.4 934.1L1169.6 934.3L1171.4 935.4L1173.3 935.3L1175.5 936.9L1177.8 935.0L1179.8 934.4L1181.4 933.0L1182.0 931.9L1182.7 930.1L1183.2 927.8L1183.8 925.2L1184.3 922.6L1184.9 919.9L1185.4 917.3L1185.9 914.9L1186.5 913.2L1187.1 911.2L1187.9 909.1L1188.7 907.0L1189.6 904.6L1190.6 902.5L1191.5 900.5L1192.4 898.6L1193.3 896.9L1194.0 895.3L1195.5 893.6L1197.4 891.1L1199.3 889.2L1201.0 887.7L1202.0 886.8" fill="none" stroke="#000" stroke-width="5.5" stroke-linecap="round" stroke-linejoin="round"/></mask>
<path d="M247.5 950.5L248.5 951.5L250.1 953.1L252.1 955.0L254.2 956.8L256.4 958.7L258.4 959.8L260.0 960.6L261.2 959.0L262.4 959.1L263.8 956.0L265.2 954.9L266.6 952.9L268.1 950.6L269.4 948.4L270.8 946.6L272.0 945.2L273.2 943.8L274.6 941.3L276.1 939.5L277.7 937.0L279.4 935.1L281.1 932.6L282.7 930.9L284.1 929.7L285.4 928.2L286.4 928.1L287.4 928.2L288.3 929.8L289.2 931.6L290.1 934.0L291.0 936.7L291.8 939.3L292.5 941.9L293.3 943.8L293.9 945.2L295.1 947.5L296.5 949.2L297.9 950.8L299.2 953.0L300.2 955.7L300.5 957.0L300.7 958.8L301.0 960.9L301.3 963.4L301.5 966.0L301.7 968.7L302.0 971.5L302.2 974.2L302.5 976.8L302.8 979.3L303.0 981.4L303.3 983.3L303.7 984.7L304.0 985.6L305.4 986.2L307.3 983.7L309.4 980.9L311.3 978.8L312.7 978.3L313.2 979.0L313.7 980.9L314.2 983.1L314.6 985.8L315.0 988.6L315.4 991.5L315.7 994.2L316.1 996.5L316.5 998.2L317.2 1000.5L318.0 1003.1L318.9 1005.6L319.8 1007.4L320.7 1009.1L321.5 1009.0L322.2 1009.1L323.1 1006.9L324.1 1004.4L325.2 1001.6L326.2 998.9L327.1 996.9L327.8 995.9L329.5 996.6L331.3 999.9L332.8 998.4L333.0 997.1L333.3 995.6L333.5 993.8L333.8 991.5L334.0 989.1L334.3 986.4L334.5 983.7L334.8 980.9L335.0 978.1L335.3 975.4L335.5 972.8L335.8 970.5L336.1 968.5L336.3 966.8L336.6 965.5L337.9 963.5L339.7 964.4L341.5 963.3L342.8 960.7L343.0 959.5L343.1 958.1L343.3 956.4L343.5 954.5L343.6 952.4L343.8 950.2L343.9 947.7L344.1 945.2L344.2 942.6L344.4 939.8L344.6 937.1L344.7 934.3L344.9 931.5L345.0 928.8L345.2 926.1L345.4 923.6L345.5 921.1L345.7 918.8L345.9 916.7L346.0 914.7L346.2 913.0L346.4 911.6L346.6 910.4L347.8 906.3L349.4 903.6L351.1 902.3L352.8 901.3L354.1 902.0L354.9 902.5L355.9 904.0L356.9 906.1L357.9 908.5L358.8 911.3L359.7 913.5L360.4 915.5L361.2 917.5L361.9 919.8L362.7 922.3L363.5 924.7L364.4 926.7L365.4 927.6L367.0 928.3L369.1 928.9L371.4 929.5L373.7 929.3L375.4 930.6L376.6 932.0L377.9 933.3L379.2 935.3L380.5 937.1L381.8 939.1L383.0 940.8L384.7 942.4L386.9 943.6L389.1 944.7L391.3 947.2L393.0 945.5L394.9 946.4L396.9 945.7L398.9 944.8L400.5 943.1L401.2 941.6L402.0 940.0L402.9 937.6L403.7 935.0L404.6 932.3L405.4 929.7L406.1 927.5L406.8 925.6L407.5 923.4L408.3 920.7L409.1 917.7L410.0 914.6L410.9 911.8L411.7 909.7L412.4 908.3L413.0 908.2L413.4 908.4L413.8 909.4L414.2 910.9L414.6 912.9L415.0 915.2L415.4 917.8L415.8 920.7L416.1 923.8L416.5 927.1L416.8 930.5L416.9 931.8L417.0 933.2L417.1 934.9L417.3 936.7L417.4 938.6L417.5 940.7L417.6 942.9L417.8 945.2L417.9 947.5L418.0 950.0L418.2 952.5L418.3 955.1L418.4 957.7L418.6 960.3L418.7 963.0L418.9 965.6L419.0 968.2L419.1 970.8L419.3 973.4L419.4 975.8L419.6 978.2L419.7 980.6L419.8 982.8L420.0 984.9L420.1 986.9L420.2 988.7L420.4 990.4L420.5 991.9L420.6 993.2L420.9 996.2L421.3 999.2L421.7 1002.2L422.1 1005.1L422.6 1007.9L423.0 1010.6L423.5 1012.9L424.0 1015.0L424.4 1016.7L424.8 1018.1L425.2 1019.0L425.6 1019.9L426.0 1019.1L426.5 1018.4L427.0 1016.8L427.6 1014.6L428.1 1012.0L428.6 1009.3L429.2 1006.4L429.7 1003.5L430.2 1000.7L430.6 998.2L430.8 996.7L431.1 994.9L431.4 992.9L431.6 990.8L431.9 988.5L432.2 986.0L432.5 983.5L432.8 980.9L433.1 978.3L433.4 975.7L433.8 973.2L434.1 970.7L434.4 968.3L434.7 966.1L435.0 964.1L435.3 962.2L435.6 960.6L436.1 958.5L436.6 956.2L437.2 953.9L437.8 951.7L438.5 949.4L439.2 947.0L439.9 944.8L440.6 942.7L441.3 940.7L442.0 938.8L442.6 937.0L443.1 935.5L443.8 933.5L444.6 931.4L445.4 929.2L446.3 926.9L447.2 924.9L448.1 922.9L449.0 920.9L449.9 919.4L450.7 918.0L452.1 916.1L453.7 914.2L455.6 911.4L457.4 910.5L459.2 909.3L460.7 907.3L462.5 906.1L464.7 906.2L466.9 906.5L469.0 907.3L470.7 907.2L471.7 908.9L472.8 910.5L473.9 912.8L475.0 915.0L476.1 917.2L477.2 918.9L478.2 920.2L479.9 922.2L482.1 923.0L484.4 924.9L486.6 925.3L488.3 925.3L489.2 924.4L490.2 923.2L491.2 921.1L492.2 918.6L493.2 916.4L494.1 913.9L495.0 912.1L495.8 910.2L497.1 908.2L498.7 905.9L500.3 904.5L501.9 902.7L503.3 901.3L504.9 901.8L506.9 902.3L508.9 903.6L510.7 905.3L512.1 908.0L512.5 909.2L512.8 910.8L513.1 912.7L513.4 914.9L513.7 917.2L514.0 919.7L514.3 922.3L514.5 924.9L514.8 927.4L515.0 929.7L515.3 931.9L515.6 933.9L515.9 935.5L516.4 937.6L516.9 940.0L517.5 942.7L518.2 945.4L518.9 948.1L519.7 950.5L520.4 952.5L521.0 954.2L521.6 955.4L522.1 955.3L522.5 954.8L523.0 954.0L523.4 952.0L523.9 949.8L524.4 947.1L524.8 944.4L525.3 941.6L525.8 939.0L526.2 936.5L526.7 934.6L527.1 932.9L528.1 930.5L529.3 928.7L530.7 926.4L532.0 924.2L533.4 923.1L534.7 921.4L536.4 919.5L538.3 917.5L540.2 914.9L542.0 913.9L543.5 912.9L545.0 913.2L546.7 915.0L548.5 917.3L550.3 919.5L552.0 922.4L553.5 922.6L555.3 922.4L557.4 922.9L559.6 921.6L561.7 921.9L563.5 921.2L565.0 919.3L566.7 917.3L568.5 915.2L570.3 913.3L572.0 911.8L573.5 910.9L575.3 909.5L577.4 909.6L579.7 908.5L581.8 909.9L583.6 910.8L585.1 911.9L586.9 913.3L588.7 915.5L590.6 918.7L592.2 919.7L593.6 920.2L594.8 920.0L596.1 918.3L597.3 916.5L598.6 914.3L599.9 911.9L601.1 910.1L602.5 908.6L604.2 905.8L606.0 904.6L607.9 902.2L609.7 900.5L611.2 900.6L612.7 901.2L614.5 902.1L616.3 903.9L618.2 905.9L619.8 908.3L621.2 910.2L622.1 911.6L623.1 913.5L624.1 915.5L625.1 917.5L626.1 919.9L627.0 921.8L627.9 923.8L628.7 925.9L629.4 927.3L630.3 929.1L631.2 931.3L632.1 933.6L633.0 935.9L634.0 938.1L634.8 939.9L635.6 941.6L636.2 943.1L637.9 946.4L639.7 948.4L641.3 947.5L641.8 946.9L642.4 945.6L643.0 943.6L643.7 941.2L644.3 938.6L645.0 936.0L645.7 933.6L646.4 931.3L647.0 929.3L647.5 927.7L648.9 925.2L650.5 922.8L652.1 920.7L653.8 921.3L655.1 920.4L656.8 922.5L658.6 923.7L660.5 925.3L662.3 927.3L663.8 927.4L665.7 929.4L667.8 928.6L670.1 929.0L672.2 930.0L673.9 930.6L675.1 931.6L676.4 934.0L677.8 936.0L679.1 938.3L680.3 939.6L681.4 940.4L682.5 940.3L683.9 938.7L685.3 936.8L686.7 935.0L687.9 932.7L688.9 930.4L689.4 928.8L690.0 926.7L690.5 924.3L691.0 921.6L691.5 918.9L692.1 916.2L692.6 913.9L693.3 911.9L693.9 910.0L695.5 908.7L697.6 907.8L700.0 906.5L702.2 907.1L704.0 905.4L705.5 904.1L707.0 901.9L708.6 901.0L710.1 899.5L711.5 897.4L713.4 895.9L715.6 895.1L717.9 892.7L720.0 893.1L721.4 893.4L723.1 895.2L724.9 896.1L726.8 898.0L728.5 899.2L730.0 899.8L731.5 901.6L733.3 903.5L735.2 904.1L737.1 905.6L738.8 906.8L740.0 908.2L741.1 910.1L741.9 912.8L742.8 915.3L743.8 916.9L745.0 918.7L746.1 917.3L747.6 916.0L749.4 914.5L751.2 911.7L753.1 910.1L754.9 907.6L756.4 905.4L757.6 905.6L759.1 906.0L760.5 907.5L761.8 909.6L762.9 912.6L763.9 915.7L764.2 917.0L764.6 918.7L764.9 920.7L765.3 923.0L765.6 925.4L766.0 928.0L766.3 930.7L766.7 933.3L767.1 935.9L767.4 938.3L767.8 940.6L768.2 942.6L768.5 944.4L768.9 945.7L769.9 948.5L771.2 951.0L772.6 953.0L774.1 955.1L775.4 956.6L776.4 956.5L777.0 954.8L777.6 952.9L778.1 950.4L778.7 947.5L779.3 944.7L779.9 941.9L780.6 939.6L781.4 938.6L783.2 937.5L785.6 937.1L788.3 938.1L790.8 936.7L792.7 935.9L793.5 934.6L794.2 933.0L795.0 931.0L795.8 928.8L796.6 926.2L797.3 923.9L798.1 921.5L798.9 919.2L799.6 917.3L800.3 915.6L801.2 913.6L802.2 911.7L803.4 909.1L804.7 906.7L805.9 904.4L807.2 902.3L808.4 900.8L809.4 900.0L810.3 898.9L811.2 899.9L812.2 901.0L813.2 903.0L814.2 905.3L815.2 908.1L816.1 910.7L817.0 913.3L817.8 915.6L818.3 917.1L818.9 918.9L819.6 920.8L820.2 922.8L820.9 925.2L821.6 927.5L822.3 929.8L823.0 932.2L823.6 934.4L824.2 936.7L824.8 938.8L825.3 940.7L825.7 942.4L826.1 944.4L826.6 946.7L827.1 949.1L827.5 951.6L828.0 954.2L828.5 956.8L829.0 959.3L829.5 961.7L829.9 964.1L830.4 966.1L830.8 968.0L831.2 969.6L831.6 970.9L833.1 974.3L834.8 976.8L836.4 977.7L837.9 975.6L838.3 974.9L838.7 973.5L839.1 971.7L839.6 969.7L840.1 967.4L840.6 964.9L841.1 962.3L841.6 959.6L842.0 956.9L842.5 954.3L843.0 951.8L843.4 949.5L843.8 947.5L844.1 945.7L844.5 943.7L844.9 941.6L845.3 939.3L845.7 936.9L846.1 934.5L846.5 932.0L847.0 929.7L847.4 927.4L847.8 925.3L848.3 923.4L848.7 921.9L849.2 920.8L850.6 918.0L852.4 916.2L854.4 914.5L856.3 913.4L857.9 912.5L859.4 913.8L861.0 916.6L862.7 919.3L864.3 920.6L865.5 920.9L865.9 919.7L866.2 918.3L866.6 916.4L867.0 914.2L867.3 911.7L867.7 909.1L868.1 906.3L868.4 903.5L868.8 900.8L869.1 898.2L869.5 895.7L869.8 893.6L870.2 891.8L870.5 890.5L871.8 887.0L873.5 884.1L875.2 883.2L876.7 883.4L877.3 883.9L877.9 885.8L878.6 888.0L879.3 890.8L880.1 893.7L880.9 896.7L881.7 899.4L882.4 902.0L883.1 904.0L883.7 905.2L884.3 906.2L884.8 904.9L885.3 903.9L885.8 902.1L886.3 899.8L886.9 897.2L887.4 894.4L887.9 891.5L888.5 888.7L889.0 886.1L889.5 883.8L890.0 881.7L890.5 880.2L892.2 878.1L894.2 876.9L896.3 875.7L898.1 875.8L899.5 875.8L901.1 877.2L902.8 878.3L904.4 880.1L905.6 883.1L905.9 884.2L906.3 885.8L906.6 887.8L906.9 890.0L907.3 892.3L907.6 894.8L907.9 897.5L908.3 900.1L908.6 902.8L908.9 905.4L909.3 907.8L909.6 910.2L909.9 912.2L910.3 914.1L910.6 915.6L911.2 917.9L911.9 920.4L912.8 922.8L913.6 925.1L914.6 927.2L915.5 929.3L916.4 931.4L917.3 932.4L918.1 933.6L919.8 934.1L922.0 931.6L924.3 929.7L926.5 928.4L928.2 928.7L929.0 929.4L929.9 930.7L930.8 932.5L931.7 934.8L932.7 937.2L933.5 939.7L934.4 941.9L935.1 944.0L935.7 945.7L936.4 947.9L937.1 950.6L937.8 953.5L938.6 956.2L939.3 958.6L940.0 960.6L940.7 960.3L941.4 961.1L942.3 959.5L943.4 957.7L944.5 955.9L945.5 953.4L946.6 950.9L947.5 948.2L948.2 945.7L948.5 944.3L948.8 942.6L949.1 940.6L949.4 938.5L949.8 936.2L950.1 933.7L950.4 931.1L950.7 928.5L951.0 925.9L951.3 923.3L951.6 920.8L951.9 918.4L952.3 916.1L952.6 914.0L952.9 912.2L953.2 910.6L953.7 908.4L954.3 905.8L954.9 903.2L955.6 900.6L956.4 897.9L957.1 895.4L957.9 893.2L958.7 890.9L959.4 889.6L960.1 888.1L960.8 887.6L961.7 888.5L962.7 889.7L963.9 892.1L965.2 894.6L966.4 897.6L967.7 900.7L968.9 902.9L969.9 904.6L970.8 905.9L972.0 905.7L973.3 904.1L974.7 902.4L976.0 900.1L977.2 897.7L978.3 895.5L978.9 894.0L979.7 892.5L980.5 890.7L981.3 888.8L982.1 886.5L982.9 884.2L983.7 882.1L984.5 879.8L985.2 877.7L985.8 875.4L986.2 874.0L986.7 872.1L987.1 870.0L987.6 867.8L988.1 865.4L988.6 862.9L989.1 860.4L989.6 857.9L990.1 855.4L990.5 853.0L991.0 850.8L991.4 848.8L991.8 846.9L992.1 845.4L992.6 843.0L993.1 840.4L993.6 837.6L994.1 834.9L994.6 832.3L995.2 830.0L995.7 828.2L996.1 826.8L996.6 826.3L997.1 826.9L997.7 828.2L998.3 829.8L998.9 831.9L999.6 834.4L1000.3 837.2L1000.9 840.0L1001.5 842.7L1002.1 845.4L1002.4 846.9L1002.7 848.7L1003.1 850.8L1003.4 853.1L1003.8 855.5L1004.2 858.1L1004.6 860.8L1005.0 863.5L1005.4 866.2L1005.8 868.9L1006.2 871.5L1006.6 874.0L1007.0 876.3L1007.4 878.4L1007.8 880.3L1008.1 881.9L1008.4 883.0L1009.9 886.4L1011.6 888.0L1013.2 888.4L1014.7 887.9L1015.6 886.8L1016.6 884.2L1017.6 881.3L1018.7 878.3L1019.8 876.1L1020.9 875.4L1021.8 876.1L1023.0 877.9L1024.3 880.1L1025.8 882.8L1027.2 885.3L1028.6 887.6L1029.9 889.7L1031.0 891.1L1032.5 890.6L1034.2 888.7L1036.0 886.8L1037.8 885.0L1039.5 883.0L1041.0 884.0L1042.5 884.0L1044.1 885.8L1045.9 888.0L1047.7 890.5L1049.4 892.6L1051.0 892.6L1052.5 892.2L1054.4 891.6L1056.4 890.0L1058.5 887.6L1060.5 886.7L1062.3 885.9L1063.6 885.3L1064.3 886.8L1065.1 887.6L1065.8 889.3L1066.5 891.4L1067.1 893.7L1067.8 896.1L1068.3 898.6L1068.9 901.1L1069.4 903.5L1069.8 905.6L1070.1 907.3L1070.4 909.3L1070.7 911.6L1070.9 914.2L1071.2 916.9L1071.5 919.7L1071.8 922.5L1072.0 925.3L1072.3 927.8L1072.6 930.2L1072.8 932.2L1073.1 933.9L1073.3 935.1L1073.6 936.0L1074.1 935.6L1074.7 933.6L1075.3 930.8L1076.0 927.4L1076.7 924.0L1077.3 920.9L1078.0 918.9L1078.6 917.3L1079.1 918.7L1079.7 920.4L1080.3 922.4L1081.0 925.0L1081.7 927.9L1082.4 930.8L1083.1 933.4L1083.7 935.8L1084.4 937.5L1084.9 938.0L1085.8 938.6L1086.9 937.3L1088.1 935.7L1089.3 933.1L1090.3 929.8L1091.2 925.6L1091.4 924.4L1091.6 923.0L1091.8 921.4L1092.0 919.7L1092.1 917.8L1092.3 915.7L1092.5 913.6L1092.7 911.3L1093.0 908.9L1093.2 906.4L1093.4 903.9L1093.6 901.4L1093.8 898.7L1094.0 896.1L1094.2 893.5L1094.4 890.9L1094.6 888.3L1094.8 885.8L1095.0 883.3L1095.2 880.9L1095.4 878.6L1095.6 876.3L1095.8 874.3L1096.0 872.3L1096.2 870.5L1096.4 868.6L1096.6 866.5L1096.9 864.1L1097.1 861.6L1097.4 859.0L1097.7 856.2L1098.0 853.3L1098.3 850.5L1098.6 847.5L1098.9 844.6L1099.2 841.6L1099.5 838.8L1099.8 836.0L1100.1 833.3L1100.5 830.7L1100.8 828.3L1101.1 826.0L1101.4 824.0L1101.7 822.2L1102.0 820.7L1102.2 819.3L1102.5 818.5L1102.8 817.9L1103.0 817.1L1103.2 817.9L1103.5 818.6L1103.8 819.4L1104.0 820.6L1104.3 822.1L1104.6 823.9L1105.0 825.9L1105.3 828.1L1105.6 830.4L1105.9 832.9L1106.3 835.6L1106.6 838.4L1106.9 841.2L1107.2 844.1L1107.6 847.1L1107.9 850.0L1108.2 852.9L1108.5 855.8L1108.8 858.6L1109.1 861.3L1109.3 863.8L1109.6 866.2L1109.8 868.5L1110.0 870.5L1110.2 872.2L1110.3 874.0L1110.5 875.9L1110.7 878.0L1110.9 880.1L1111.1 882.4L1111.2 884.7L1111.4 887.1L1111.6 889.5L1111.8 892.1L1112.0 894.6L1112.2 897.2L1112.4 899.7L1112.6 902.3L1112.8 904.9L1112.9 907.4L1113.1 909.9L1113.3 912.4L1113.5 914.8L1113.7 917.2L1113.8 919.4L1114.0 921.6L1114.2 923.6L1114.3 925.6L1114.5 927.4L1114.6 929.1L1114.7 930.6L1114.9 932.0L1115.0 933.2L1115.4 937.1L1115.9 940.6L1116.4 943.7L1116.8 946.4L1117.3 948.5L1117.8 949.8L1118.3 950.6L1118.7 951.3L1119.0 950.2L1119.4 948.8L1119.8 947.0L1120.2 944.8L1120.6 942.3L1121.1 939.6L1121.5 936.7L1122.0 934.0L1122.5 931.3L1122.9 929.1L1123.4 927.1L1123.8 925.6L1124.8 923.3L1126.0 921.3L1127.3 919.3L1128.7 917.7L1130.1 916.4L1131.3 915.7L1133.0 915.0L1135.2 914.5L1137.4 916.8L1139.6 917.0L1141.3 917.8L1142.5 919.5L1143.9 920.7L1145.3 922.5L1146.6 924.2L1147.8 926.6L1148.8 928.2L1149.5 930.1L1150.3 932.5L1151.0 935.4L1151.7 938.0L1152.4 940.6L1153.2 942.3L1153.9 943.5L1154.9 943.3L1156.1 940.8L1157.4 938.9L1158.8 936.2L1160.2 934.2L1161.4 933.9L1163.1 932.6L1165.2 933.5L1167.4 934.1L1169.6 934.3L1171.4 935.4L1173.3 935.3L1175.5 936.9L1177.8 935.0L1179.8 934.4L1181.4 933.0L1182.0 931.9L1182.7 930.1L1183.2 927.8L1183.8 925.2L1184.3 922.6L1184.9 919.9L1185.4 917.3L1185.9 914.9L1186.5 913.2L1187.1 911.2L1187.9 909.1L1188.7 907.0L1189.6 904.6L1190.6 902.5L1191.5 900.5L1192.4 898.6L1193.3 896.9L1194.0 895.3L1195.5 893.6L1197.4 891.1L1199.3 889.2L1201.0 887.7L1202.0 886.8" fill="none" stroke="#ff0000" stroke-width="14.5" stroke-linecap="round" stroke-linejoin="round" mask="url(#hm2)"/>
<path d="M254.0 958.4L255.7 956.9L257.3 957.6L258.8 958.3L260.0 961.1L260.9 961.1M284.7 930.9L285.6 929.0L286.4 928.6L287.2 929.1M350.9 900.9L352.1 903.2L353.2 901.6L354.1 903.1M365.4 929.2L366.7 930.0L368.4 929.7L370.3 930.6L372.2 929.3L374.0 930.8L375.4 930.6M384.2 942.0L385.6 944.6L387.2 945.4L388.8 945.8L390.4 946.2L391.8 945.3L393.0 948.2L394.5 946.4L396.1 945.9L397.7 947.2M458.3 908.2L459.6 909.6L460.7 909.8L462.2 907.8L464.0 908.4L465.8 907.1L467.7 907.8L469.3 907.0L470.7 907.1M479.4 923.3L480.8 923.3L482.4 925.6L484.1 924.1L485.7 924.5L487.1 925.9L488.3 925.9M502.3 900.2L503.3 899.8L504.6 902.1L506.2 900.1L507.9 901.4M541.1 916.0L542.4 914.9L543.5 912.0L544.6 915.3M552.4 921.8L553.5 924.3L555.0 922.4L556.7 925.0L558.5 921.3L560.3 920.2L562.0 920.0L563.5 920.8M572.4 909.3L573.5 911.1L575.0 911.2L576.7 910.8L578.6 910.8L580.4 910.3L582.1 909.9L583.6 910.5L584.7 910.2M608.8 903.2L610.1 901.9L611.2 899.6L612.3 902.3L613.6 900.8M652.7 921.5L653.8 918.6L654.9 919.3L656.3 923.2L657.8 924.7M661.0 926.0L662.5 928.4L663.8 928.0L665.3 926.6L667.1 927.4L669.0 929.6L670.8 930.7L672.5 929.8L673.9 932.3M695.0 909.9L696.4 910.1L698.0 907.9L699.7 908.1L701.3 907.0L702.8 906.7L704.0 903.6M711.5 899.3L712.7 898.3L714.1 897.3L715.6 896.7L717.2 894.7L718.7 891.5L720.0 893.3L721.2 891.4L722.6 895.3L724.1 897.4L725.7 895.7L727.3 896.7L728.7 900.9L730.0 902.3L731.3 900.4L732.8 903.9L734.4 904.7L736.1 903.1L737.6 906.4M782.6 937.2L784.1 937.7L786.0 936.7L787.9 936.4L789.7 936.9L791.4 937.7M854.1 914.4L855.5 912.3L856.8 915.1L857.9 913.6M893.4 878.8L895.1 875.1L896.7 875.5L898.1 875.4L899.2 876.2L900.6 877.7L902.0 877.9M918.1 931.1L919.3 934.1L920.7 932.5L922.3 933.2L924.0 931.4L925.6 929.9L927.0 930.1L928.2 929.7M1049.8 892.5L1051.0 892.3L1052.1 893.2L1053.5 893.8L1055.0 890.1L1056.7 890.2L1058.3 886.2L1059.9 886.8L1061.3 884.6L1062.6 887.4L1063.6 885.7M1130.2 916.2L1131.3 914.5L1132.7 916.5L1134.4 917.3L1136.3 916.9L1138.2 915.3L1139.9 919.4L1141.3 918.3M1161.4 933.5L1162.8 931.5L1164.4 933.7L1166.3 932.5L1168.1 936.1L1169.9 935.4L1171.4 937.2L1172.9 934.9L1174.7 935.9L1176.6 934.2L1178.5 934.0L1180.1 933.3" fill="none" stroke="#ff0000" stroke-width="2" stroke-linejoin="round" stroke-dasharray="2.6 3.2 1.6 4.4 3.4 2.8"/>
<path d="M248.5 872.0L248.5 871.1L248.5 870.0L248.5 868.8L248.5 867.5L248.5 866.1L248.5 864.6L248.5 863.0L248.5 861.3L248.5 859.5L248.6 857.6L248.6 855.6L248.6 853.6L248.6 851.5L248.6 849.3L248.6 847.0L248.6 844.7L248.6 842.4L248.6 840.0L248.6 837.5L248.6 835.0L248.7 832.5L248.7 829.9L248.7 827.4L248.7 824.8L248.7 822.2L248.7 819.5L248.7 816.9L248.7 814.3L248.8 811.7L248.8 809.0L248.8 806.4L248.8 803.8L248.8 801.3L248.8 798.7L248.9 796.2L248.9 793.8L248.9 791.3L248.9 789.0L248.9 786.6L249.0 784.4L249.0 782.1L249.0 780.0L249.0 778.5L249.0 776.9L249.1 775.2L249.1 773.5L249.1 771.8L249.1 770.0L249.1 768.1L249.2 766.2L249.2 764.3L249.2 762.3L249.2 760.3L249.3 758.2L249.3 756.1L249.3 754.0L249.3 751.8L249.4 749.7L249.4 747.4L249.4 745.2L249.5 742.9L249.5 740.6L249.5 738.2L249.6 735.9L249.6 733.5L249.6 731.1L249.7 728.7L249.7 726.3L249.7 723.9L249.8 721.4L249.8 719.0L249.8 716.5L249.9 714.1L249.9 711.6L250.0 709.1L250.0 706.6L250.0 704.2L250.1 701.7L250.1 699.3L250.1 696.8L250.2 694.4L250.2 691.9L250.3 689.5L250.3 687.1L250.3 684.7L250.4 682.3L250.4 680.0L250.5 677.6L250.5 675.3L250.5 673.0L250.6 670.8L250.6 668.5L250.7 666.3L250.7 664.2L250.8 662.0L250.8 659.9L250.8 657.9L250.9 655.8L250.9 653.8L251.0 651.9L251.0 650.0L251.0 648.3L251.1 646.6L251.1 644.8L251.2 642.9L251.2 641.0L251.3 639.1L251.3 637.1L251.3 635.0L251.4 632.9L251.5 630.8L251.5 628.6L251.6 626.4L251.6 624.1L251.7 621.8L251.7 619.5L251.8 617.2L251.9 614.8L251.9 612.4L252.0 610.0L252.1 607.5L252.1 605.0L252.2 602.5L252.3 600.0L252.3 597.5L252.4 595.0L252.5 592.4L252.5 589.9L252.6 587.3L252.7 584.7L252.7 582.1L252.8 579.6L252.9 577.0L253.0 574.4L253.0 571.9L253.1 569.3L253.2 566.8L253.3 564.2L253.3 561.7L253.4 559.2L253.5 556.7L253.5 554.2L253.6 551.8L253.7 549.3L253.7 546.9L253.8 544.6L253.9 542.2L253.9 539.9L254.0 537.6L254.1 535.4L254.1 533.1L254.2 531.0L254.3 528.8L254.3 526.7L254.4 524.7L254.4 522.7L254.5 520.7L254.5 518.8L254.6 517.0L254.7 515.2L254.7 513.4L254.7 511.8L254.8 510.1L254.8 508.6L254.9 507.1L254.9 505.6L255.0 504.3L255.0 503.0L255.1 500.1L255.2 497.3L255.2 494.6L255.3 491.8L255.4 489.2L255.5 486.6L255.5 484.0L255.6 481.5L255.7 479.1L255.8 476.7L255.8 474.3L255.9 472.0L256.0 469.8L256.0 467.6L256.1 465.4L256.2 463.3L256.2 461.3L256.3 459.2L256.4 457.3L256.4 455.4L256.5 453.5L256.6 451.6L256.6 449.8L256.7 448.1L256.7 446.4L256.8 444.7L256.9 443.1L256.9 441.5L257.0 440.0L257.1 437.9L257.2 435.6L257.3 433.4L257.4 431.0L257.5 428.7L257.6 426.2L257.7 423.8L257.8 421.3L257.9 418.9L258.0 416.4L258.2 414.0L258.3 411.6L258.4 409.2L258.6 406.9L258.7 404.7L258.8 402.5L259.0 400.4L259.1 398.4L259.3 396.5L259.4 394.7L259.6 393.0L259.8 390.9L260.1 388.7L260.4 386.5L260.7 384.1L261.1 381.6L261.5 379.1L261.9 376.6L262.3 374.1L262.7 371.7L263.1 369.2L263.5 366.9L263.9 364.7L264.3 362.5L264.7 360.5L265.0 358.7L265.3 357.1L265.6 355.7L266.1 353.0L266.7 350.5L267.3 348.1L267.9 345.8L268.5 343.7L269.1 341.8L269.8 339.8L270.6 338.0L271.5 336.3L272.6 334.6L273.9 332.4L275.3 330.0L276.7 328.3L278.1 326.2L279.4 324.5L280.5 322.3L281.4 320.6L282.1 318.9L282.7 316.9L283.3 314.6L283.8 312.4L284.3 310.0L284.8 307.6L285.3 305.1L285.9 302.7L286.4 300.5L286.8 298.9L287.2 297.0L287.7 295.1L288.3 292.7L288.9 290.4L289.5 287.9L290.1 285.4L290.7 282.9L291.3 280.4L291.9 278.0L292.5 275.9L293.0 273.9L293.5 272.0L293.9 270.5L294.6 268.1L295.4 265.8L296.2 263.3L297.0 261.1L297.8 258.8L298.6 256.8L299.4 254.7L300.2 253.0L301.0 251.2L301.9 249.4L302.9 247.2L303.9 245.2L305.0 242.9L306.1 241.0L307.2 238.6L308.1 237.0L309.0 235.2L310.0 233.5L311.0 231.3L312.2 229.6L313.4 226.9L314.6 225.3L315.8 223.0L316.8 221.5L317.8 220.4L319.4 218.3L321.2 216.9L323.2 215.3L325.0 214.0L326.5 214.3L327.9 215.3L329.5 216.5L331.2 218.4L332.7 220.3L334.0 221.5L336.2 223.2L338.5 223.5L340.3 222.8L341.4 221.2L342.5 218.4L344.0 216.5L345.5 216.1L347.7 215.6L350.1 215.2L352.3 215.3L354.0 214.3L355.4 213.0L356.8 210.6L358.1 209.1L359.4 207.0L360.4 205.1L361.2 203.5L362.0 201.4L362.9 198.8L363.8 196.7L364.6 194.5L365.4 192.7L366.5 190.8L367.8 188.9L369.2 187.6L370.6 185.4L371.7 183.9L372.6 182.2L373.6 180.2L374.6 178.3L375.6 176.1L376.6 173.9L377.4 172.5L379.0 170.7L380.7 168.5L382.5 167.1L384.2 168.0L386.3 170.1L388.6 171.4L390.5 172.6L392.5 175.0L394.9 173.5L397.3 172.9L399.3 174.2L401.1 174.8L403.1 176.7L405.0 178.6L406.8 179.8L408.8 181.5L411.3 182.7L413.7 183.9L415.6 185.2L417.7 185.7L419.8 185.2L421.8 186.3L423.5 187.4L425.5 188.7L427.6 190.9L429.4 190.8L431.4 190.4L433.7 189.7L436.1 188.7L438.1 188.3L439.9 186.7L442.0 186.8L444.0 185.0L445.7 184.8L447.1 183.8L448.6 181.5L450.3 179.7L451.8 177.9L453.2 177.0L455.0 174.7L457.0 173.5L459.0 173.3L460.7 173.1L462.2 173.6L463.8 175.0L465.4 176.9L467.0 178.9L468.8 177.3L471.1 176.8L473.5 175.8L475.8 174.2L477.5 174.6L479.6 175.8L481.9 176.0L484.3 176.8L486.5 176.8L488.3 177.2L490.1 176.6L492.1 176.2L494.3 174.2L496.3 172.8L498.2 172.4L499.6 171.6L501.3 172.3L503.0 174.4L504.5 176.5L505.9 178.9L506.8 180.5L507.9 182.5L509.1 184.8L510.2 187.0L511.2 188.8L512.1 190.5L513.7 191.6L515.4 193.1L517.1 192.2L518.7 192.7L520.6 190.2L522.8 187.5L524.7 186.4L526.4 186.3L528.5 187.2L530.8 187.6L532.9 189.2L534.7 189.8L536.8 189.3L539.2 191.3L541.6 191.8L543.5 192.8L544.9 192.6L546.5 191.3L548.1 189.6L549.7 188.2L551.0 186.1L552.3 184.8L553.8 183.3L555.4 181.8L557.0 180.2L558.5 179.9L559.9 180.9L561.6 180.9L563.4 182.6L565.3 183.7L567.1 185.7L568.6 185.8L570.4 187.6L572.4 189.8L574.6 190.0L576.7 190.8L578.6 191.6L580.3 191.4L582.4 190.7L584.7 189.9L587.0 189.5L589.2 188.8L591.1 187.8L593.0 188.1L595.1 187.3L597.5 187.1L599.8 186.7L601.9 186.0L603.7 185.3L605.8 186.7L608.3 184.6L610.8 184.1L613.1 184.0L615.0 184.3L616.7 184.6L618.5 185.8L620.3 188.0L622.1 189.3L623.7 189.4L625.5 189.4L627.6 188.5L629.8 188.3L632.0 186.3L633.8 184.7L635.6 184.5L637.7 182.9L639.9 183.0L642.0 182.6L643.8 182.0L645.6 181.0L647.7 179.6L649.9 179.0L652.0 178.2L653.8 178.9L655.1 179.3L656.5 180.8L658.1 183.4L659.6 185.4L661.2 187.2L662.6 188.9L663.9 190.5L665.7 190.6L667.8 191.2L670.0 190.9L672.1 189.9L673.9 191.5L675.7 192.0L677.7 192.6L679.8 194.5L682.0 195.3L683.9 196.4L685.7 197.1L687.8 196.0L690.2 195.2L692.6 195.2L694.7 193.9L696.5 194.0L698.4 194.4L700.6 194.0L702.7 193.1L704.7 193.0L706.5 193.2L708.0 192.5L709.9 190.4L711.8 189.1L713.7 187.4L715.3 186.0L716.5 185.2L718.2 185.1L720.0 186.8L721.1 187.7L722.5 189.3L724.2 190.3L726.0 191.9L728.0 194.0L730.0 194.0L731.6 194.7L733.7 196.0L736.1 196.2L738.7 196.3L741.4 195.4L744.0 196.3L746.4 196.1L748.5 195.4L750.1 196.1L752.4 196.2L754.5 194.4L756.5 194.8L758.4 193.2L760.1 192.1L761.7 190.5L763.6 190.1L765.7 189.1L767.8 188.0L769.7 188.2L771.4 188.1L773.1 188.2L775.0 189.4L777.0 190.8L779.0 192.0L781.0 193.3L782.7 195.0L784.5 193.3L786.6 193.3L788.9 192.2L791.2 190.7L793.3 190.4L795.2 189.6L796.8 190.0L798.6 190.9L800.5 192.6L802.5 193.3L804.4 193.7L806.2 195.8L807.8 196.4L809.7 197.1L811.9 197.4L814.2 197.9L816.5 199.2L818.6 198.7L820.3 199.2L822.2 199.3L824.3 201.0L826.5 202.4L828.5 203.8L830.3 205.1L832.1 205.8L834.2 207.1L836.5 208.7L838.6 210.2L840.4 210.1L842.2 210.2L844.3 209.7L846.5 207.3L848.6 206.3L850.4 205.4L851.8 203.6L853.4 202.8L855.1 201.1L856.9 200.5L858.7 198.6L860.4 198.5L862.1 198.5L864.3 197.7L866.7 198.5L869.2 200.3L871.6 200.2L873.8 201.9L875.5 201.1L877.6 201.1L879.7 201.4L881.8 202.4L883.8 202.0L885.5 203.7L886.8 203.6L888.2 205.7L889.7 208.2L891.3 210.6L892.8 212.7L894.2 214.6L895.5 214.8L897.3 215.5L899.4 213.7L901.7 211.6L903.8 209.9L905.6 208.8L907.4 208.8L909.4 207.7L911.6 208.9L913.7 209.1L915.6 209.9L917.1 211.7L918.9 212.5L920.9 213.8L922.9 215.5L924.9 217.8L926.7 218.3L928.2 218.7L930.1 219.4L932.3 219.3L934.4 218.6L936.4 219.3L938.2 217.5L940.0 217.0L942.1 216.3L944.3 215.4L946.4 214.2L948.2 214.2L950.0 214.6L952.1 214.8L954.3 215.0L956.4 215.8L958.2 217.2L959.7 217.6L961.4 218.8L963.3 220.3L965.1 222.6L966.8 223.0L968.3 225.1L970.1 224.2L972.2 224.2L974.3 223.4L976.4 223.7L978.3 224.3L979.3 225.0L980.6 226.7L981.9 228.8L983.3 231.3L984.7 234.0L986.1 236.2L987.4 238.2L988.6 239.6L989.6 240.2L991.0 240.1L992.5 238.1L994.1 235.6L995.6 233.3L997.1 231.1L998.4 230.3L999.8 230.9L1001.4 232.8L1003.2 235.3L1005.0 237.9L1006.8 239.1L1008.4 240.0L1009.7 239.6L1011.1 237.8L1012.8 237.2L1014.5 234.7L1016.3 233.1L1018.0 231.3L1019.5 229.6L1020.9 228.6L1022.8 230.2L1024.9 228.8L1027.3 229.0L1029.6 229.6L1031.7 230.7L1033.5 231.3L1035.2 232.4L1037.2 234.9L1039.2 236.5L1041.2 239.0L1043.1 240.5L1044.8 240.8L1045.9 239.8L1047.2 238.1L1048.5 236.5L1049.9 234.3L1051.4 232.1L1052.7 229.8L1054.0 228.1L1055.1 226.4L1056.0 225.7L1058.2 225.9L1060.3 224.9L1062.3 226.6L1063.5 227.6L1064.8 229.8L1066.4 232.2L1068.0 234.7L1069.6 235.8L1071.1 237.7L1072.3 236.3L1073.8 234.9L1075.5 233.6L1077.3 231.2L1079.1 228.8L1080.8 226.9L1082.3 225.7L1083.6 224.3L1085.5 222.4L1087.6 221.8L1089.7 220.7L1091.8 220.0L1093.7 218.8L1095.5 218.0L1097.6 217.6L1100.0 217.9L1102.3 218.3L1104.4 218.2L1106.2 218.8L1107.8 220.0L1109.5 221.0L1111.3 222.8L1113.1 224.0L1114.7 225.8L1116.2 227.6L1118.0 227.5L1120.1 227.6L1122.4 227.3L1124.5 229.0L1126.3 228.4L1128.1 227.9L1130.3 226.2L1132.5 225.7L1134.6 223.9L1136.3 222.9L1137.8 220.8L1139.3 219.1L1140.8 216.9L1142.3 215.4L1143.8 214.8L1145.5 214.9L1147.5 215.5L1149.7 216.5L1151.9 217.5L1153.9 218.6L1155.4 216.6L1157.1 216.3L1159.0 214.4L1161.0 213.4L1163.0 212.5L1164.8 211.4L1166.4 209.6L1168.3 209.2L1170.5 207.8L1172.8 208.6L1175.1 207.6L1177.2 208.1L1178.9 205.7L1180.9 205.8L1183.0 206.1L1185.2 204.1L1187.2 203.7L1189.0 202.0L1190.8 201.4L1192.9 201.0L1195.0 198.8L1197.0 197.7L1198.6 198.1L1200.9 197.7L1203.3 197.4L1205.5 196.3L1207.0 197.6L1208.8 199.0L1210.7 199.3L1212.5 200.9L1214.1 202.3L1215.4 203.9L1216.8 204.9L1218.4 206.5L1220.0 208.7L1221.4 210.4L1222.7 211.9L1224.3 213.5L1226.1 215.4L1227.9 216.5L1229.7 217.9L1231.3 218.5L1233.3 219.1L1235.6 218.1L1237.9 216.7L1239.9 217.7L1241.5 219.0L1243.4 220.6L1245.3 223.1L1247.1 223.9L1248.6 226.0L1250.3 227.1L1252.2 229.2L1254.0 229.9L1255.4 229.9L1256.4 229.0L1257.4 227.2L1258.4 224.9L1259.5 223.1L1260.6 222.0L1262.4 220.4L1264.7 220.0L1267.1 220.0L1269.2 220.5L1270.8 221.1L1272.7 223.2L1274.6 224.4L1276.4 226.2L1277.8 227.6L1279.0 228.9L1280.3 230.7L1281.6 232.5L1282.8 233.9L1283.9 235.1L1286.1 236.1L1288.7 236.9L1290.8 235.1L1291.5 234.0L1292.2 231.7L1292.9 229.1L1293.6 226.5L1294.3 224.0L1295.1 222.2L1296.3 220.3L1297.9 218.5L1299.7 217.3L1301.4 215.3L1302.8 214.9L1303.9 216.4L1305.2 218.0L1306.5 219.9L1307.9 222.5L1309.2 224.5L1310.6 226.5L1312.6 225.9L1315.1 225.0L1317.8 225.5L1320.5 225.9L1322.6 225.7L1324.2 225.8L1326.0 227.3L1327.9 228.7L1329.7 230.7L1331.5 231.9L1333.0 232.3L1334.9 234.4L1337.2 235.6L1339.5 236.2L1341.6 237.5L1343.3 237.3L1345.6 236.7L1347.9 236.6L1350.2 236.3L1351.6 237.3L1353.3 238.5L1355.3 239.9L1357.2 242.1L1359.0 242.2L1360.5 243.9L1362.6 245.5L1364.9 245.5L1367.1 246.2L1369.1 246.9L1371.1 247.1L1373.3 246.8L1375.6 246.4L1377.7 246.0L1379.4 245.8L1381.5 246.9L1383.7 247.6L1385.9 249.3L1388.1 249.6L1389.9 248.4L1392.2 248.8L1394.7 249.9L1397.3 250.3L1399.8 250.7L1402.0 251.9L1403.6 251.9L1405.6 250.5L1407.4 248.9L1409.0 246.9L1410.5 245.4L1412.4 245.1L1414.7 243.9L1417.0 244.2L1419.1 243.3L1420.5 244.6L1422.0 245.9L1423.8 248.3L1425.5 249.6L1427.1 251.4L1428.5 251.6L1430.7 251.6L1433.2 250.3L1435.8 251.2L1438.0 249.7L1439.8 249.6L1442.0 249.3L1444.3 248.6L1446.5 247.6L1448.4 248.0L1450.3 249.5L1452.6 247.6L1454.9 247.3L1457.0 246.9L1458.7 246.5L1461.1 245.9L1463.5 244.6L1465.6 243.5L1467.2 242.4L1469.0 241.4L1470.8 240.5L1472.5 239.9L1474.4 241.0L1476.8 240.9L1479.1 242.2L1481.1 243.8L1482.5 245.4L1484.1 246.3L1485.7 248.8L1487.3 250.0L1488.8 251.7L1490.8 250.8L1493.3 249.8L1495.9 248.9L1498.3 249.8L1500.3 249.2L1502.8 248.6L1505.5 248.6L1508.1 248.8L1510.3 248.5L1512.1 247.5L1514.2 247.5L1516.4 246.0L1518.6 245.1L1520.7 245.0L1522.4 243.4L1524.0 242.3L1525.8 240.5L1527.7 238.5L1529.6 236.2L1531.3 235.7L1532.7 234.8L1534.3 236.1L1536.1 236.1L1538.0 237.8L1539.7 239.9L1541.3 241.8L1542.7 242.4L1544.3 244.6L1546.1 246.3L1547.8 247.8L1549.5 249.1L1550.8 250.3L1552.7 249.6L1554.8 248.6L1556.9 246.7L1558.6 245.8L1560.2 244.3L1562.0 243.1L1563.7 241.4L1565.4 240.1L1567.3 240.3L1569.7 241.3L1572.1 241.8L1574.1 242.8L1576.1 244.2L1578.3 244.3L1580.6 246.1L1582.7 247.5L1584.5 246.9L1586.6 248.9L1588.9 248.2L1591.1 249.1L1593.0 249.7L1594.9 247.9L1597.0 247.5L1599.3 245.8L1601.4 245.0L1603.3 244.4L1605.1 242.8L1607.2 242.3L1609.4 242.1L1611.6 242.3L1613.7 241.7L1615.3 241.1L1617.3 239.7L1619.5 238.1L1621.7 237.7L1623.9 236.1L1625.9 235.4L1627.5 235.5L1629.5 236.0L1631.6 237.0L1633.7 239.2L1635.8 240.5L1637.8 241.7L1639.7 242.9L1642.1 242.9L1644.8 244.1L1647.4 243.1L1649.8 244.2L1651.6 243.7L1653.4 242.7L1655.3 241.6L1657.1 239.4L1658.8 238.0L1660.2 236.4L1661.4 234.4L1662.6 233.0L1663.9 231.0L1665.3 229.2L1666.6 227.3L1667.9 226.7L1669.8 227.4L1672.1 227.5L1674.7 228.3L1677.1 229.4L1679.1 229.3L1680.9 227.9L1682.8 227.4L1684.9 225.8L1686.8 224.7L1688.6 223.9L1690.2 224.4L1692.0 225.4L1694.0 226.1L1696.0 227.6L1698.0 229.5L1699.8 230.7L1701.4 230.9L1703.4 230.0L1705.6 231.7L1707.9 233.6L1710.0 232.9L1712.0 234.1L1713.6 234.5L1715.3 236.2L1717.0 236.5L1718.8 238.4L1720.6 239.2L1722.3 240.6L1723.9 241.7L1725.7 241.3L1727.9 243.3L1730.2 243.5L1732.5 244.4L1734.5 242.8L1736.0 243.4L1737.5 243.1L1738.8 241.0L1740.0 239.3L1741.1 237.5L1742.5 236.1L1744.3 235.0L1746.2 233.6L1748.0 233.9L1749.7 233.8L1752.0 234.4L1754.4 236.6L1756.7 236.5L1758.4 237.8L1760.8 238.8L1763.1 238.9L1765.2 240.4L1767.6 238.4L1770.3 237.0L1772.1 237.0" fill="none" stroke="#000" stroke-width="15.2" stroke-linecap="round" stroke-linejoin="round"/>
<mask id="hm3" maskUnits="userSpaceOnUse" x="0" y="0" width="1916" height="1487"><rect width="1916" height="1487" fill="#fff"/><path d="M249.0 690.0L250.6 689.1L253.1 690.4L256.0 690.9L258.8 689.3L260.0 688.5L261.4 686.5L263.1 685.1L264.9 683.0L266.8 681.2L268.6 678.9L270.4 676.9L272.0 674.9L273.4 673.5L274.5 673.0L276.5 673.2L278.2 672.0L279.7 673.5L281.5 677.0L282.3 678.0L283.3 679.3L284.5 681.0L285.8 682.9L287.1 685.2L288.5 687.4L289.8 690.0L291.1 692.2L292.2 694.2L293.1 696.4L293.9 698.2L294.5 699.9L295.1 702.0L295.6 704.2L296.0 706.4L296.5 708.9L296.9 711.3L297.3 713.6L297.7 715.8L298.1 717.7L298.5 719.5L298.9 720.8L300.0 723.4L301.5 725.1L303.0 726.3L304.3 728.8L305.2 730.7L305.5 732.4L305.6 734.4L305.7 736.8L305.8 739.4L305.9 742.1L305.9 744.8L306.0 747.4L306.1 749.8L306.2 751.8L306.5 753.4L307.4 755.9L308.7 757.6L310.2 759.6L311.6 761.7L312.7 763.5L313.2 765.2L313.7 767.5L314.2 770.2L314.7 772.9L315.2 775.3L315.8 777.2L316.5 779.1L318.3 778.7L320.7 777.3L323.2 776.8L325.3 775.8L326.9 777.4L328.8 778.8L330.7 780.6L332.6 783.6L334.0 782.9L334.7 781.3L335.4 779.7L336.1 777.6L336.8 775.2L337.6 772.6L338.3 770.1L339.0 767.6L339.7 765.2L340.3 763.4L341.0 761.6L341.8 759.3L342.7 756.9L343.6 754.3L344.5 751.9L345.4 749.6L346.3 747.6L347.1 746.6L347.8 744.5L348.8 746.3L349.9 748.1L351.1 750.9L352.2 753.8L353.2 756.5L354.1 758.2L355.2 760.6L356.4 762.9L357.7 765.1L359.1 766.0L360.7 765.7L363.0 765.3L365.4 764.4L367.6 763.2L369.2 761.0L369.6 759.7L369.9 758.0L370.3 756.0L370.6 753.8L370.8 751.3L371.1 748.7L371.4 746.0L371.6 743.3L371.8 740.7L372.1 738.2L372.3 735.9L372.5 733.9L372.7 732.1L372.9 730.8L373.7 727.1L374.5 724.1L375.5 721.8L376.7 720.9L377.5 723.0L378.5 724.0L379.8 726.2L381.1 728.4L382.4 730.6L383.7 733.2L384.7 735.8L385.5 738.4L385.8 739.8L386.2 741.7L386.5 743.8L386.8 746.1L387.0 748.7L387.3 751.3L387.5 753.9L387.8 756.5L388.0 759.1L388.3 761.5L388.5 763.6L388.7 765.6L389.0 767.2L389.2 768.3L390.7 771.7L392.5 773.5L394.2 773.4L395.6 773.1L397.2 770.5L399.0 768.1L400.5 768.6L401.4 769.4L402.5 771.2L403.6 773.2L404.9 775.9L406.0 778.3L407.1 780.0L408.0 781.5L409.6 780.5L411.4 780.1L413.1 778.1L414.3 776.1L414.7 774.4L415.0 772.3L415.3 769.8L415.6 767.1L415.8 764.4L416.1 761.9L416.4 759.8L416.8 758.4L418.6 755.8L421.0 755.7L423.1 754.9L425.2 754.9L427.6 755.7L429.3 757.1L429.6 758.6L429.8 760.8L429.8 763.4L429.9 766.3L429.9 769.2L430.0 771.7L430.2 773.6L430.6 774.2L432.0 774.8L434.0 772.0L436.2 769.4L438.1 768.3L439.5 769.3L441.0 771.8L442.7 774.6L444.2 776.3L445.6 777.1L446.5 776.1L447.6 774.4L448.8 771.9L450.0 769.2L451.2 766.5L452.3 764.4L453.2 763.6L455.0 763.9L457.1 765.0L459.1 767.5L460.7 768.4L461.7 770.2L462.7 772.8L463.8 775.6L464.8 776.9L465.7 777.1L466.1 776.2L466.6 774.8L467.2 772.9L467.8 770.6L468.4 768.0L469.0 765.3L469.7 762.5L470.3 759.9L470.9 757.4L471.5 755.1L472.0 753.3L472.7 751.4L473.5 749.1L474.3 746.6L475.2 744.0L476.2 741.5L477.1 739.4L478.0 737.9L478.8 736.4L479.5 734.8L480.5 736.0L481.6 737.6L482.8 739.4L484.0 741.9L485.1 744.4L486.2 746.6L487.0 748.2L487.8 750.2L488.6 752.6L489.4 754.9L490.3 757.3L491.1 759.2L492.0 760.1L493.4 759.3L495.2 757.6L497.2 755.2L499.2 754.0L500.8 751.9L502.9 750.7L505.3 751.2L507.7 750.2L509.6 749.3L511.2 751.5L513.0 754.8L514.6 757.5L515.9 755.5L516.1 754.9L516.3 753.5L516.5 751.8L516.7 749.8L516.9 747.6L517.1 745.1L517.3 742.4L517.5 739.6L517.7 736.8L517.8 733.8L518.0 730.9L518.2 728.1L518.4 725.3L518.6 722.7L518.8 720.3L519.0 718.1L519.2 716.1L519.4 714.5L519.6 713.2L520.6 709.8L521.8 707.7L523.1 706.7L524.5 706.2L525.9 703.9L527.6 703.2L529.7 701.4L532.1 700.4L534.2 700.0L535.9 700.3L537.0 699.8L538.2 701.8L539.3 704.0L540.4 706.0L541.4 708.5L542.2 710.7L542.7 712.5L543.2 714.8L543.7 717.5L544.2 720.4L544.8 723.3L545.3 726.0L545.9 728.3L546.6 730.1L547.2 730.2L548.3 730.5L549.6 729.1L551.2 726.2L552.8 723.9L554.5 721.4L556.0 719.6L557.2 720.7L558.1 720.3L559.1 722.3L560.1 724.6L561.2 727.5L562.3 730.6L563.3 733.5L564.3 735.8L565.2 737.7L566.0 738.2L566.9 738.5L567.9 737.0L568.9 735.2L570.0 733.1L571.0 730.6L572.0 728.0L572.8 725.5L573.5 723.3L573.9 721.8L574.2 719.9L574.6 717.7L574.9 715.4L575.2 712.9L575.5 710.3L575.8 707.8L576.1 705.4L576.4 703.2L576.7 701.1L577.0 699.4L577.3 698.2L578.3 695.1L579.6 692.6L581.0 690.6L582.3 691.3L582.9 693.0L583.5 694.3L584.3 696.5L585.1 698.8L586.0 701.3L586.8 704.0L587.7 706.7L588.5 709.1L589.2 711.4L589.8 713.2L590.5 715.4L591.3 718.0L592.2 720.8L593.0 723.7L593.9 726.2L594.7 728.6L595.4 730.1L596.1 730.8L597.1 730.3L598.2 728.8L599.4 726.4L600.5 723.5L601.6 720.7L602.4 718.3L602.8 716.6L603.2 714.5L603.6 712.1L603.9 709.7L604.3 707.0L604.7 704.5L605.1 702.1L605.6 700.0L606.1 698.2L606.9 696.3L607.9 694.6L609.2 692.7L610.5 690.8L611.8 688.9L613.1 686.6L614.1 685.1L614.9 683.0L615.4 681.3L615.8 679.2L616.2 676.7L616.6 674.1L617.0 671.3L617.3 668.7L617.7 666.1L618.0 663.9L618.4 662.0L618.7 660.5L620.1 657.2L621.9 655.4L623.7 655.3L624.4 656.1L625.3 657.1L626.4 658.5L627.5 660.1L628.5 661.7L629.6 664.2L630.5 667.1L631.2 670.6L631.4 671.9L631.6 673.3L631.8 675.0L632.0 676.8L632.2 678.9L632.3 681.1L632.5 683.4L632.7 685.8L632.9 688.4L633.1 691.0L633.3 693.7L633.5 696.5L633.7 699.2L633.9 702.0L634.1 704.8L634.3 707.5L634.5 710.2L634.7 712.9L634.9 715.4L635.0 717.9L635.2 720.2L635.4 722.5L635.6 724.5L635.7 726.4L635.9 728.1L636.0 729.5L636.2 730.8L636.7 734.4L637.3 737.6L638.0 740.3L638.6 742.5L639.3 744.5L640.0 745.8L640.7 746.4L641.3 747.8L642.3 747.0L643.6 745.7L645.1 743.8L646.5 741.0L647.8 738.4L648.8 735.8L649.2 734.6L649.5 733.1L649.9 731.5L650.2 729.8L650.6 727.9L650.9 725.8L651.3 723.7L651.7 721.4L652.0 719.0L652.4 716.5L652.7 714.0L653.1 711.3L653.4 708.5L653.8 705.7L654.0 704.4L654.1 702.8L654.3 701.2L654.5 699.4L654.7 697.4L654.9 695.4L655.2 693.2L655.4 690.9L655.6 688.6L655.9 686.1L656.1 683.6L656.4 681.0L656.6 678.4L656.9 675.8L657.2 673.2L657.4 670.5L657.7 667.8L658.0 665.1L658.2 662.5L658.5 659.9L658.8 657.4L659.0 654.9L659.3 652.4L659.5 650.1L659.8 647.8L660.0 645.7L660.2 643.6L660.5 641.7L660.7 639.9L660.9 638.3L661.1 636.8L661.3 635.5L661.8 632.6L662.3 629.7L662.9 627.0L663.5 624.4L664.1 621.9L664.7 619.6L665.3 617.4L665.9 615.4L666.5 613.6L667.1 611.9L667.7 610.5L668.3 608.9L668.8 607.8L670.3 605.8L672.2 603.3L674.2 602.6L676.1 601.4L677.6 601.3L678.4 602.0L679.2 603.1L680.1 604.7L681.0 605.9L681.9 608.0L682.8 610.5L683.7 613.3L684.4 616.6L685.1 620.4L685.3 621.6L685.4 623.0L685.6 624.5L685.8 626.2L686.0 628.1L686.2 630.1L686.4 632.1L686.6 634.3L686.8 636.7L687.0 639.1L687.3 641.5L687.5 644.1L687.7 646.7L687.9 649.3L688.1 652.0L688.3 654.7L688.5 657.4L688.8 660.1L689.0 662.8L689.2 665.5L689.4 668.1L689.6 670.7L689.8 673.3L690.0 675.7L690.2 678.1L690.3 680.4L690.5 682.7L690.7 684.8L690.8 686.7L691.0 688.6L691.1 690.3L691.3 691.8L691.4 693.2L691.7 696.1L691.9 699.0L692.2 701.9L692.4 704.7L692.7 707.5L692.9 710.3L693.2 712.9L693.4 715.4L693.7 717.8L693.9 719.9L694.2 721.9L694.4 723.6L694.7 725.0L694.9 726.1L695.2 726.7L696.2 726.9L697.5 726.7L699.0 724.2L700.3 720.9L701.4 718.2L701.9 716.7L702.3 714.7L702.8 712.3L703.4 709.6L703.9 706.9L704.4 704.1L704.9 701.5L705.5 699.2L706.0 697.2L706.5 695.7L707.8 693.3L709.3 692.1L711.1 689.9L712.7 688.8L714.0 688.8L716.1 687.7L718.3 688.0L720.0 690.0L720.4 691.2L720.8 693.1L721.1 695.3L721.5 697.8L721.8 700.5L722.1 703.2L722.4 705.8L722.7 708.1L723.0 710.0L723.3 711.9L723.6 714.2L723.9 716.7L724.2 719.2L724.5 721.7L724.9 724.1L725.3 726.0L725.8 727.4L726.3 727.8L727.6 729.7L729.3 727.6L731.3 727.2L733.3 725.2L735.0 723.0L736.5 722.4L738.2 719.8L740.2 717.8L742.1 715.3L743.8 713.4L745.1 713.5L746.2 714.2L747.3 716.2L748.4 718.7L749.4 721.5L750.4 723.9L751.3 726.1L752.2 727.9L753.3 730.3L754.4 733.0L755.5 735.3L756.6 737.0L757.6 737.1L758.5 737.1L759.5 735.4L760.7 733.2L761.9 730.9L763.1 728.1L764.1 725.8L765.1 723.4L765.7 721.9L766.3 719.9L767.0 717.5L767.8 714.9L768.5 712.3L769.3 709.7L770.0 707.0L770.8 704.9L771.5 702.9L772.1 701.5L772.7 700.4L773.7 700.2L774.8 701.7L776.0 703.4L777.2 705.7L778.3 708.3L779.4 710.9L780.2 713.5L780.5 715.0L780.9 716.7L781.2 718.9L781.5 721.3L781.8 723.9L782.2 726.6L782.5 729.4L782.8 732.2L783.1 734.9L783.5 737.5L783.8 739.9L784.1 742.1L784.5 743.8L784.8 745.1L785.2 746.2L786.6 746.8L788.5 745.6L790.6 743.5L792.5 740.6L794.0 738.6L794.9 736.9L795.8 734.7L796.7 732.2L797.6 729.6L798.5 727.1L799.4 725.1L800.3 723.5L802.2 721.8L804.6 719.9L807.0 719.0L809.0 719.0L810.0 720.6L811.1 722.3L812.3 724.4L813.5 726.7L814.7 729.2L815.7 731.7L816.6 733.5L817.3 735.4L818.1 737.6L818.9 740.1L819.8 742.7L820.6 745.2L821.4 747.5L822.1 749.6L822.8 751.2L824.2 753.7L825.8 755.8L827.5 758.0L829.1 758.5L829.9 756.3L830.9 754.7L832.1 752.7L833.2 749.8L834.5 747.4L835.7 744.9L836.8 742.9L837.9 740.7L839.2 739.7L840.9 737.3L842.7 735.4L844.6 733.0L846.4 732.1L848.0 731.1L849.2 731.9L849.9 731.8L850.6 733.3L851.2 735.0L851.9 737.5L852.5 740.0L853.1 742.5L853.7 745.1L854.3 747.5L854.8 749.5L855.4 751.1L856.3 753.1L857.3 755.1L858.4 756.9L859.6 759.0L860.8 760.9L861.9 762.6L862.9 764.2L864.4 765.2L866.1 767.2L867.9 769.1L869.8 769.3L871.5 768.6L872.4 768.9L873.4 767.5L874.6 765.3L875.9 763.8L877.2 761.2L878.5 758.7L879.8 756.5L881.0 754.3L882.1 752.5L883.0 751.6L884.6 748.7L886.3 747.2L888.1 744.2L889.9 742.5L891.5 742.1L893.0 740.6L894.3 741.5L895.7 743.4L897.3 745.0L898.9 747.5L900.5 749.5L901.9 752.1L903.1 753.5L904.2 755.5L905.4 757.9L906.6 760.4L907.8 763.2L909.0 765.1L910.1 766.3L911.2 767.9L912.1 766.2L913.1 764.6L914.2 762.7L915.3 760.2L916.5 757.6L917.7 754.9L918.8 752.3L919.8 750.3L920.6 748.7L921.8 746.8L923.0 744.4L924.2 742.0L925.5 740.3L926.9 739.1L928.2 737.9L929.4 738.4L930.8 739.4L932.4 741.6L934.1 743.0L935.8 745.2L937.6 747.0L939.2 749.1L940.7 751.5L941.5 752.4L942.5 754.0L943.5 755.8L944.7 757.7L945.8 759.9L947.0 762.2L948.3 764.5L949.5 767.0L950.7 769.1L951.8 771.3L952.9 773.2L954.0 775.1L954.9 776.7L955.7 777.7L957.3 779.6L958.9 781.9L960.6 783.6L962.3 785.6L963.9 787.2L965.5 787.4L967.0 788.5L968.3 787.2L969.7 785.4L971.4 784.4L973.1 782.5L974.8 780.5L976.6 778.4L978.2 776.8L979.6 775.3L980.8 774.3L982.8 772.5L985.1 771.1L987.3 769.7L989.2 769.1L990.8 767.5L991.6 766.0L992.4 763.8L993.2 761.4L994.0 758.7L994.8 756.1L995.6 753.6L996.3 751.5L997.1 750.1L998.9 747.7L1001.2 747.7L1003.7 747.3L1005.9 746.0L1007.5 747.6L1009.5 748.7L1011.7 750.0L1013.8 751.4L1015.7 753.1L1017.2 755.0L1017.8 756.5L1018.5 758.2L1019.1 760.3L1019.7 762.7L1020.3 765.1L1020.8 767.7L1021.4 770.1L1021.9 772.5L1022.5 774.5L1023.0 776.3L1023.5 777.9L1024.8 779.2L1026.5 781.6L1028.2 782.1L1029.8 783.4L1031.0 785.2L1031.6 786.7L1032.2 788.8L1032.9 791.1L1033.5 793.6L1034.1 796.3L1034.8 798.8L1035.4 800.9L1036.0 802.8L1036.8 804.9L1037.8 807.0L1038.9 809.7L1040.1 812.0L1041.3 813.8L1042.4 815.6L1043.5 817.1L1045.2 817.3L1047.4 816.7L1049.8 815.1L1051.9 814.0L1053.5 815.9L1054.2 816.3L1054.9 818.2L1055.6 820.5L1056.2 823.0L1056.9 825.7L1057.5 828.3L1058.0 830.8L1058.6 832.9L1059.1 834.7L1059.7 836.9L1060.3 839.2L1061.0 841.7L1061.7 844.2L1062.4 846.8L1063.1 849.1L1063.7 851.2L1064.3 853.0L1064.8 854.2L1066.4 856.8L1068.0 857.7L1069.8 857.7L1070.7 857.4L1071.9 855.8L1073.1 853.5L1074.5 851.6L1075.9 849.8L1077.3 847.5L1078.6 845.5L1080.3 844.9L1082.6 846.3L1085.0 843.5L1087.5 845.4L1089.6 843.9L1091.2 842.8L1091.9 841.6L1092.5 839.9L1093.1 838.0L1093.7 835.8L1094.3 833.2L1094.9 830.8L1095.4 828.3L1096.0 825.9L1096.5 823.7L1096.9 821.8L1097.4 820.3L1098.3 817.7L1099.4 814.8L1100.5 812.4L1101.6 810.0L1102.7 809.1L1103.7 807.9L1104.6 808.0L1105.7 809.7L1106.9 811.7L1108.1 814.0L1109.3 816.1L1110.4 818.5L1111.2 820.2L1111.9 822.2L1112.6 824.8L1113.3 827.6L1114.1 830.4L1114.8 832.8L1115.5 834.7L1116.2 835.2L1117.2 835.2L1118.5 833.4L1119.9 831.8L1121.3 829.3L1122.7 826.6L1123.8 825.4L1125.4 823.9L1127.3 821.7L1129.3 820.0L1131.3 818.5L1132.9 819.0L1135.0 818.1L1137.3 817.0L1139.7 815.9L1141.9 816.4L1143.8 815.5L1145.4 817.6L1147.2 819.1L1149.1 819.9L1151.1 821.5L1153.0 822.6L1154.8 824.3L1156.4 824.5L1158.3 826.0L1160.6 827.3L1163.0 828.3L1165.4 830.2L1167.4 829.1L1168.9 830.9L1170.8 832.4L1172.2 833.8L1173.9 832.8L1174.7 832.2L1175.7 830.4L1176.9 828.8L1178.1 826.3L1179.4 823.7L1180.7 821.7L1181.9 819.4L1183.0 817.3L1183.9 815.2L1184.6 813.7L1185.4 811.9L1186.3 809.8L1187.1 807.8L1187.9 805.7L1188.8 803.5L1189.6 801.2L1190.3 799.2L1190.9 797.0L1191.5 795.2L1191.9 793.6L1192.4 791.6L1192.8 789.4L1193.2 787.0L1193.7 784.4L1194.1 782.0L1194.5 779.5L1195.0 777.1L1195.4 774.9L1195.8 773.0L1196.1 771.4L1196.5 770.1L1198.4 767.2L1200.6 766.8L1202.0 765.0" fill="none" stroke="#000" stroke-width="5.5" stroke-linecap="round" stroke-linejoin="round"/></mask>
<path d="M249.0 690.0L250.6 689.1L253.1 690.4L256.0 690.9L258.8 689.3L260.0 688.5L261.4 686.5L263.1 685.1L264.9 683.0L266.8 681.2L268.6 678.9L270.4 676.9L272.0 674.9L273.4 673.5L274.5 673.0L276.5 673.2L278.2 672.0L279.7 673.5L281.5 677.0L282.3 678.0L283.3 679.3L284.5 681.0L285.8 682.9L287.1 685.2L288.5 687.4L289.8 690.0L291.1 692.2L292.2 694.2L293.1 696.4L293.9 698.2L294.5 699.9L295.1 702.0L295.6 704.2L296.0 706.4L296.5 708.9L296.9 711.3L297.3 713.6L297.7 715.8L298.1 717.7L298.5 719.5L298.9 720.8L300.0 723.4L301.5 725.1L303.0 726.3L304.3 728.8L305.2 730.7L305.5 732.4L305.6 734.4L305.7 736.8L305.8 739.4L305.9 742.1L305.9 744.8L306.0 747.4L306.1 749.8L306.2 751.8L306.5 753.4L307.4 755.9L308.7 757.6L310.2 759.6L311.6 761.7L312.7 763.5L313.2 765.2L313.7 767.5L314.2 770.2L314.7 772.9L315.2 775.3L315.8 777.2L316.5 779.1L318.3 778.7L320.7 777.3L323.2 776.8L325.3 775.8L326.9 777.4L328.8 778.8L330.7 780.6L332.6 783.6L334.0 782.9L334.7 781.3L335.4 779.7L336.1 777.6L336.8 775.2L337.6 772.6L338.3 770.1L339.0 767.6L339.7 765.2L340.3 763.4L341.0 761.6L341.8 759.3L342.7 756.9L343.6 754.3L344.5 751.9L345.4 749.6L346.3 747.6L347.1 746.6L347.8 744.5L348.8 746.3L349.9 748.1L351.1 750.9L352.2 753.8L353.2 756.5L354.1 758.2L355.2 760.6L356.4 762.9L357.7 765.1L359.1 766.0L360.7 765.7L363.0 765.3L365.4 764.4L367.6 763.2L369.2 761.0L369.6 759.7L369.9 758.0L370.3 756.0L370.6 753.8L370.8 751.3L371.1 748.7L371.4 746.0L371.6 743.3L371.8 740.7L372.1 738.2L372.3 735.9L372.5 733.9L372.7 732.1L372.9 730.8L373.7 727.1L374.5 724.1L375.5 721.8L376.7 720.9L377.5 723.0L378.5 724.0L379.8 726.2L381.1 728.4L382.4 730.6L383.7 733.2L384.7 735.8L385.5 738.4L385.8 739.8L386.2 741.7L386.5 743.8L386.8 746.1L387.0 748.7L387.3 751.3L387.5 753.9L387.8 756.5L388.0 759.1L388.3 761.5L388.5 763.6L388.7 765.6L389.0 767.2L389.2 768.3L390.7 771.7L392.5 773.5L394.2 773.4L395.6 773.1L397.2 770.5L399.0 768.1L400.5 768.6L401.4 769.4L402.5 771.2L403.6 773.2L404.9 775.9L406.0 778.3L407.1 780.0L408.0 781.5L409.6 780.5L411.4 780.1L413.1 778.1L414.3 776.1L414.7 774.4L415.0 772.3L415.3 769.8L415.6 767.1L415.8 764.4L416.1 761.9L416.4 759.8L416.8 758.4L418.6 755.8L421.0 755.7L423.1 754.9L425.2 754.9L427.6 755.7L429.3 757.1L429.6 758.6L429.8 760.8L429.8 763.4L429.9 766.3L429.9 769.2L430.0 771.7L430.2 773.6L430.6 774.2L432.0 774.8L434.0 772.0L436.2 769.4L438.1 768.3L439.5 769.3L441.0 771.8L442.7 774.6L444.2 776.3L445.6 777.1L446.5 776.1L447.6 774.4L448.8 771.9L450.0 769.2L451.2 766.5L452.3 764.4L453.2 763.6L455.0 763.9L457.1 765.0L459.1 767.5L460.7 768.4L461.7 770.2L462.7 772.8L463.8 775.6L464.8 776.9L465.7 777.1L466.1 776.2L466.6 774.8L467.2 772.9L467.8 770.6L468.4 768.0L469.0 765.3L469.7 762.5L470.3 759.9L470.9 757.4L471.5 755.1L472.0 753.3L472.7 751.4L473.5 749.1L474.3 746.6L475.2 744.0L476.2 741.5L477.1 739.4L478.0 737.9L478.8 736.4L479.5 734.8L480.5 736.0L481.6 737.6L482.8 739.4L484.0 741.9L485.1 744.4L486.2 746.6L487.0 748.2L487.8 750.2L488.6 752.6L489.4 754.9L490.3 757.3L491.1 759.2L492.0 760.1L493.4 759.3L495.2 757.6L497.2 755.2L499.2 754.0L500.8 751.9L502.9 750.7L505.3 751.2L507.7 750.2L509.6 749.3L511.2 751.5L513.0 754.8L514.6 757.5L515.9 755.5L516.1 754.9L516.3 753.5L516.5 751.8L516.7 749.8L516.9 747.6L517.1 745.1L517.3 742.4L517.5 739.6L517.7 736.8L517.8 733.8L518.0 730.9L518.2 728.1L518.4 725.3L518.6 722.7L518.8 720.3L519.0 718.1L519.2 716.1L519.4 714.5L519.6 713.2L520.6 709.8L521.8 707.7L523.1 706.7L524.5 706.2L525.9 703.9L527.6 703.2L529.7 701.4L532.1 700.4L534.2 700.0L535.9 700.3L537.0 699.8L538.2 701.8L539.3 704.0L540.4 706.0L541.4 708.5L542.2 710.7L542.7 712.5L543.2 714.8L543.7 717.5L544.2 720.4L544.8 723.3L545.3 726.0L545.9 728.3L546.6 730.1L547.2 730.2L548.3 730.5L549.6 729.1L551.2 726.2L552.8 723.9L554.5 721.4L556.0 719.6L557.2 720.7L558.1 720.3L559.1 722.3L560.1 724.6L561.2 727.5L562.3 730.6L563.3 733.5L564.3 735.8L565.2 737.7L566.0 738.2L566.9 738.5L567.9 737.0L568.9 735.2L570.0 733.1L571.0 730.6L572.0 728.0L572.8 725.5L573.5 723.3L573.9 721.8L574.2 719.9L574.6 717.7L574.9 715.4L575.2 712.9L575.5 710.3L575.8 707.8L576.1 705.4L576.4 703.2L576.7 701.1L577.0 699.4L577.3 698.2L578.3 695.1L579.6 692.6L581.0 690.6L582.3 691.3L582.9 693.0L583.5 694.3L584.3 696.5L585.1 698.8L586.0 701.3L586.8 704.0L587.7 706.7L588.5 709.1L589.2 711.4L589.8 713.2L590.5 715.4L591.3 718.0L592.2 720.8L593.0 723.7L593.9 726.2L594.7 728.6L595.4 730.1L596.1 730.8L597.1 730.3L598.2 728.8L599.4 726.4L600.5 723.5L601.6 720.7L602.4 718.3L602.8 716.6L603.2 714.5L603.6 712.1L603.9 709.7L604.3 707.0L604.7 704.5L605.1 702.1L605.6 700.0L606.1 698.2L606.9 696.3L607.9 694.6L609.2 692.7L610.5 690.8L611.8 688.9L613.1 686.6L614.1 685.1L614.9 683.0L615.4 681.3L615.8 679.2L616.2 676.7L616.6 674.1L617.0 671.3L617.3 668.7L617.7 666.1L618.0 663.9L618.4 662.0L618.7 660.5L620.1 657.2L621.9 655.4L623.7 655.3L624.4 656.1L625.3 657.1L626.4 658.5L627.5 660.1L628.5 661.7L629.6 664.2L630.5 667.1L631.2 670.6L631.4 671.9L631.6 673.3L631.8 675.0L632.0 676.8L632.2 678.9L632.3 681.1L632.5 683.4L632.7 685.8L632.9 688.4L633.1 691.0L633.3 693.7L633.5 696.5L633.7 699.2L633.9 702.0L634.1 704.8L634.3 707.5L634.5 710.2L634.7 712.9L634.9 715.4L635.0 717.9L635.2 720.2L635.4 722.5L635.6 724.5L635.7 726.4L635.9 728.1L636.0 729.5L636.2 730.8L636.7 734.4L637.3 737.6L638.0 740.3L638.6 742.5L639.3 744.5L640.0 745.8L640.7 746.4L641.3 747.8L642.3 747.0L643.6 745.7L645.1 743.8L646.5 741.0L647.8 738.4L648.8 735.8L649.2 734.6L649.5 733.1L649.9 731.5L650.2 729.8L650.6 727.9L650.9 725.8L651.3 723.7L651.7 721.4L652.0 719.0L652.4 716.5L652.7 714.0L653.1 711.3L653.4 708.5L653.8 705.7L654.0 704.4L654.1 702.8L654.3 701.2L654.5 699.4L654.7 697.4L654.9 695.4L655.2 693.2L655.4 690.9L655.6 688.6L655.9 686.1L656.1 683.6L656.4 681.0L656.6 678.4L656.9 675.8L657.2 673.2L657.4 670.5L657.7 667.8L658.0 665.1L658.2 662.5L658.5 659.9L658.8 657.4L659.0 654.9L659.3 652.4L659.5 650.1L659.8 647.8L660.0 645.7L660.2 643.6L660.5 641.7L660.7 639.9L660.9 638.3L661.1 636.8L661.3 635.5L661.8 632.6L662.3 629.7L662.9 627.0L663.5 624.4L664.1 621.9L664.7 619.6L665.3 617.4L665.9 615.4L666.5 613.6L667.1 611.9L667.7 610.5L668.3 608.9L668.8 607.8L670.3 605.8L672.2 603.3L674.2 602.6L676.1 601.4L677.6 601.3L678.4 602.0L679.2 603.1L680.1 604.7L681.0 605.9L681.9 608.0L682.8 610.5L683.7 613.3L684.4 616.6L685.1 620.4L685.3 621.6L685.4 623.0L685.6 624.5L685.8 626.2L686.0 628.1L686.2 630.1L686.4 632.1L686.6 634.3L686.8 636.7L687.0 639.1L687.3 641.5L687.5 644.1L687.7 646.7L687.9 649.3L688.1 652.0L688.3 654.7L688.5 657.4L688.8 660.1L689.0 662.8L689.2 665.5L689.4 668.1L689.6 670.7L689.8 673.3L690.0 675.7L690.2 678.1L690.3 680.4L690.5 682.7L690.7 684.8L690.8 686.7L691.0 688.6L691.1 690.3L691.3 691.8L691.4 693.2L691.7 696.1L691.9 699.0L692.2 701.9L692.4 704.7L692.7 707.5L692.9 710.3L693.2 712.9L693.4 715.4L693.7 717.8L693.9 719.9L694.2 721.9L694.4 723.6L694.7 725.0L694.9 726.1L695.2 726.7L696.2 726.9L697.5 726.7L699.0 724.2L700.3 720.9L701.4 718.2L701.9 716.7L702.3 714.7L702.8 712.3L703.4 709.6L703.9 706.9L704.4 704.1L704.9 701.5L705.5 699.2L706.0 697.2L706.5 695.7L707.8 693.3L709.3 692.1L711.1 689.9L712.7 688.8L714.0 688.8L716.1 687.7L718.3 688.0L720.0 690.0L720.4 691.2L720.8 693.1L721.1 695.3L721.5 697.8L721.8 700.5L722.1 703.2L722.4 705.8L722.7 708.1L723.0 710.0L723.3 711.9L723.6 714.2L723.9 716.7L724.2 719.2L724.5 721.7L724.9 724.1L725.3 726.0L725.8 727.4L726.3 727.8L727.6 729.7L729.3 727.6L731.3 727.2L733.3 725.2L735.0 723.0L736.5 722.4L738.2 719.8L740.2 717.8L742.1 715.3L743.8 713.4L745.1 713.5L746.2 714.2L747.3 716.2L748.4 718.7L749.4 721.5L750.4 723.9L751.3 726.1L752.2 727.9L753.3 730.3L754.4 733.0L755.5 735.3L756.6 737.0L757.6 737.1L758.5 737.1L759.5 735.4L760.7 733.2L761.9 730.9L763.1 728.1L764.1 725.8L765.1 723.4L765.7 721.9L766.3 719.9L767.0 717.5L767.8 714.9L768.5 712.3L769.3 709.7L770.0 707.0L770.8 704.9L771.5 702.9L772.1 701.5L772.7 700.4L773.7 700.2L774.8 701.7L776.0 703.4L777.2 705.7L778.3 708.3L779.4 710.9L780.2 713.5L780.5 715.0L780.9 716.7L781.2 718.9L781.5 721.3L781.8 723.9L782.2 726.6L782.5 729.4L782.8 732.2L783.1 734.9L783.5 737.5L783.8 739.9L784.1 742.1L784.5 743.8L784.8 745.1L785.2 746.2L786.6 746.8L788.5 745.6L790.6 743.5L792.5 740.6L794.0 738.6L794.9 736.9L795.8 734.7L796.7 732.2L797.6 729.6L798.5 727.1L799.4 725.1L800.3 723.5L802.2 721.8L804.6 719.9L807.0 719.0L809.0 719.0L810.0 720.6L811.1 722.3L812.3 724.4L813.5 726.7L814.7 729.2L815.7 731.7L816.6 733.5L817.3 735.4L818.1 737.6L818.9 740.1L819.8 742.7L820.6 745.2L821.4 747.5L822.1 749.6L822.8 751.2L824.2 753.7L825.8 755.8L827.5 758.0L829.1 758.5L829.9 756.3L830.9 754.7L832.1 752.7L833.2 749.8L834.5 747.4L835.7 744.9L836.8 742.9L837.9 740.7L839.2 739.7L840.9 737.3L842.7 735.4L844.6 733.0L846.4 732.1L848.0 731.1L849.2 731.9L849.9 731.8L850.6 733.3L851.2 735.0L851.9 737.5L852.5 740.0L853.1 742.5L853.7 745.1L854.3 747.5L854.8 749.5L855.4 751.1L856.3 753.1L857.3 755.1L858.4 756.9L859.6 759.0L860.8 760.9L861.9 762.6L862.9 764.2L864.4 765.2L866.1 767.2L867.9 769.1L869.8 769.3L871.5 768.6L872.4 768.9L873.4 767.5L874.6 765.3L875.9 763.8L877.2 761.2L878.5 758.7L879.8 756.5L881.0 754.3L882.1 752.5L883.0 751.6L884.6 748.7L886.3 747.2L888.1 744.2L889.9 742.5L891.5 742.1L893.0 740.6L894.3 741.5L895.7 743.4L897.3 745.0L898.9 747.5L900.5 749.5L901.9 752.1L903.1 753.5L904.2 755.5L905.4 757.9L906.6 760.4L907.8 763.2L909.0 765.1L910.1 766.3L911.2 767.9L912.1 766.2L913.1 764.6L914.2 762.7L915.3 760.2L916.5 757.6L917.7 754.9L918.8 752.3L919.8 750.3L920.6 748.7L921.8 746.8L923.0 744.4L924.2 742.0L925.5 740.3L926.9 739.1L928.2 737.9L929.4 738.4L930.8 739.4L932.4 741.6L934.1 743.0L935.8 745.2L937.6 747.0L939.2 749.1L940.7 751.5L941.5 752.4L942.5 754.0L943.5 755.8L944.7 757.7L945.8 759.9L947.0 762.2L948.3 764.5L949.5 767.0L950.7 769.1L951.8 771.3L952.9 773.2L954.0 775.1L954.9 776.7L955.7 777.7L957.3 779.6L958.9 781.9L960.6 783.6L962.3 785.6L963.9 787.2L965.5 787.4L967.0 788.5L968.3 787.2L969.7 785.4L971.4 784.4L973.1 782.5L974.8 780.5L976.6 778.4L978.2 776.8L979.6 775.3L980.8 774.3L982.8 772.5L985.1 771.1L987.3 769.7L989.2 769.1L990.8 767.5L991.6 766.0L992.4 763.8L993.2 761.4L994.0 758.7L994.8 756.1L995.6 753.6L996.3 751.5L997.1 750.1L998.9 747.7L1001.2 747.7L1003.7 747.3L1005.9 746.0L1007.5 747.6L1009.5 748.7L1011.7 750.0L1013.8 751.4L1015.7 753.1L1017.2 755.0L1017.8 756.5L1018.5 758.2L1019.1 760.3L1019.7 762.7L1020.3 765.1L1020.8 767.7L1021.4 770.1L1021.9 772.5L1022.5 774.5L1023.0 776.3L1023.5 777.9L1024.8 779.2L1026.5 781.6L1028.2 782.1L1029.8 783.4L1031.0 785.2L1031.6 786.7L1032.2 788.8L1032.9 791.1L1033.5 793.6L1034.1 796.3L1034.8 798.8L1035.4 800.9L1036.0 802.8L1036.8 804.9L1037.8 807.0L1038.9 809.7L1040.1 812.0L1041.3 813.8L1042.4 815.6L1043.5 817.1L1045.2 817.3L1047.4 816.7L1049.8 815.1L1051.9 814.0L1053.5 815.9L1054.2 816.3L1054.9 818.2L1055.6 820.5L1056.2 823.0L1056.9 825.7L1057.5 828.3L1058.0 830.8L1058.6 832.9L1059.1 834.7L1059.7 836.9L1060.3 839.2L1061.0 841.7L1061.7 844.2L1062.4 846.8L1063.1 849.1L1063.7 851.2L1064.3 853.0L1064.8 854.2L1066.4 856.8L1068.0 857.7L1069.8 857.7L1070.7 857.4L1071.9 855.8L1073.1 853.5L1074.5 851.6L1075.9 849.8L1077.3 847.5L1078.6 845.5L1080.3 844.9L1082.6 846.3L1085.0 843.5L1087.5 845.4L1089.6 843.9L1091.2 842.8L1091.9 841.6L1092.5 839.9L1093.1 838.0L1093.7 835.8L1094.3 833.2L1094.9 830.8L1095.4 828.3L1096.0 825.9L1096.5 823.7L1096.9 821.8L1097.4 820.3L1098.3 817.7L1099.4 814.8L1100.5 812.4L1101.6 810.0L1102.7 809.1L1103.7 807.9L1104.6 808.0L1105.7 809.7L1106.9 811.7L1108.1 814.0L1109.3 816.1L1110.4 818.5L1111.2 820.2L1111.9 822.2L1112.6 824.8L1113.3 827.6L1114.1 830.4L1114.8 832.8L1115.5 834.7L1116.2 835.2L1117.2 835.2L1118.5 833.4L1119.9 831.8L1121.3 829.3L1122.7 826.6L1123.8 825.4L1125.4 823.9L1127.3 821.7L1129.3 820.0L1131.3 818.5L1132.9 819.0L1135.0 818.1L1137.3 817.0L1139.7 815.9L1141.9 816.4L1143.8 815.5L1145.4 817.6L1147.2 819.1L1149.1 819.9L1151.1 821.5L1153.0 822.6L1154.8 824.3L1156.4 824.5L1158.3 826.0L1160.6 827.3L1163.0 828.3L1165.4 830.2L1167.4 829.1L1168.9 830.9L1170.8 832.4L1172.2 833.8L1173.9 832.8L1174.7 832.2L1175.7 830.4L1176.9 828.8L1178.1 826.3L1179.4 823.7L1180.7 821.7L1181.9 819.4L1183.0 817.3L1183.9 815.2L1184.6 813.7L1185.4 811.9L1186.3 809.8L1187.1 807.8L1187.9 805.7L1188.8 803.5L1189.6 801.2L1190.3 799.2L1190.9 797.0L1191.5 795.2L1191.9 793.6L1192.4 791.6L1192.8 789.4L1193.2 787.0L1193.7 784.4L1194.1 782.0L1194.5 779.5L1195.0 777.1L1195.4 774.9L1195.8 773.0L1196.1 771.4L1196.5 770.1L1198.4 767.2L1200.6 766.8L1202.0 765.0" fill="none" stroke="#000" stroke-width="14.5" stroke-linecap="round" stroke-linejoin="round" mask="url(#hm3)"/>
<path d="M249.9 689.0L251.4 688.9L253.1 690.1L255.0 689.1L257.0 689.8L258.8 687.8L259.7 688.8M273.7 673.9L274.5 672.4L276.1 673.7L277.5 670.6L278.8 675.3M316.5 778.1L317.8 777.3L319.7 777.6L321.7 776.7L323.7 774.1L325.3 776.8L326.6 777.2M359.1 767.8L360.2 767.6L361.7 764.5L363.3 763.9L365.1 766.6L366.7 764.5M391.6 772.0L392.9 772.9L394.2 772.4L395.3 772.0M419.8 754.6L421.6 756.5L423.1 755.0L424.6 753.8L426.5 753.8L428.1 757.0M499.7 752.5L500.8 750.5L502.4 751.1L504.3 751.0L506.3 751.2L508.1 748.9L509.6 750.1M523.6 708.1L524.8 705.1L525.9 705.8L527.0 705.3L528.5 703.4L530.1 701.3L531.7 701.3L533.3 700.0L534.8 700.1L535.9 701.4M673.2 602.4L674.8 601.6L676.3 601.6L677.6 599.5M710.2 691.4L711.6 691.6L712.9 688.5L714.0 688.3L715.5 686.0L717.2 687.3L718.8 686.5M726.3 728.8L727.3 727.4L728.7 729.5L730.3 726.2L732.0 724.6L733.6 724.1L735.0 724.8M801.5 722.5L803.0 720.7L804.6 719.4L806.2 720.1L807.7 720.5L809.0 719.7M845.8 732.3L847.1 729.6L848.3 731.3L849.2 729.1M867.0 767.4L868.6 769.5L870.1 769.5L871.5 771.0M890.7 741.0L891.9 741.3L893.0 742.2L894.0 741.8M927.1 740.6L928.2 739.1L929.1 740.8L930.2 741.5L931.4 739.9M963.4 784.5L964.6 785.9L965.8 789.5L967.0 788.5L968.0 785.3L969.2 787.7M980.8 775.5L982.2 773.9L983.8 773.3L985.4 772.6L987.0 769.3L988.4 770.3M998.3 747.1L999.7 748.7L1001.2 747.9L1002.9 747.9L1004.5 747.8L1005.9 748.6L1007.1 745.2L1008.5 748.9L1010.0 750.0L1011.7 749.3L1013.3 750.3M1043.5 817.3L1044.9 816.1L1046.7 815.2L1048.6 817.8L1050.5 813.3L1052.2 815.4L1053.5 813.4M1078.6 844.9L1079.9 844.4L1081.4 846.1L1083.2 846.2L1085.0 845.3L1086.9 846.1L1088.6 845.1L1090.1 843.6M1127.3 822.1L1128.6 822.3L1130.0 818.2L1131.3 818.3L1132.7 817.4L1134.4 818.4L1136.3 815.7L1138.3 814.8L1140.3 817.6L1142.2 815.4L1143.8 816.8L1145.0 817.0L1146.4 818.3L1147.8 818.1L1149.3 819.1L1150.9 822.8L1152.4 822.2L1153.8 822.7L1155.2 823.6L1156.4 826.8L1157.8 826.1L1159.4 826.6L1161.2 828.5L1163.0 826.1L1164.8 829.8L1166.4 828.9L1167.8 828.1L1168.9 831.2" fill="none" stroke="#000" stroke-width="2" stroke-linejoin="round" stroke-dasharray="2.6 3.2 1.6 4.4 3.4 2.8"/>
</g>
<g font-family="'Liberation Sans', sans-serif" font-size="49.2" fill="#000">
<line x1="1272.7" y1="635.7" x2="1347.4" y2="635.7" stroke="#0000ff" stroke-width="15.5" stroke-linecap="round"/>
<text transform="translate(1360.7 653.8) scale(0.9945 1)">TiAlSiN500</text>
<text x="1620.7" y="652.9" font-family="'Noto Serif CJK SC', 'Liberation Serif', serif" font-size="45">℃</text>
<line x1="1272.7" y1="696.3" x2="1347.4" y2="696.3" stroke="#0000ff" stroke-width="14.5" stroke-linecap="round"/>
<line x1="1273.2" y1="696.3" x2="1346.9" y2="696.3" stroke="#fff" stroke-width="6.5" stroke-linecap="butt"/>
<text transform="translate(1360.7 714.4) scale(0.9945 1)">TiAlSiN800</text>
<text x="1620.7" y="713.5" font-family="'Noto Serif CJK SC', 'Liberation Serif', serif" font-size="45">℃</text>
<line x1="1272.7" y1="757.2" x2="1347.4" y2="757.2" stroke="#ff0000" stroke-width="15.5" stroke-linecap="round"/>
<text transform="translate(1360.7 775.3) scale(0.9945 1)">AlCrN500</text>
<text x="1587.4" y="774.4" font-family="'Noto Serif CJK SC', 'Liberation Serif', serif" font-size="45">℃</text>
<line x1="1272.7" y1="818.0" x2="1347.4" y2="818.0" stroke="#ff0000" stroke-width="14.5" stroke-linecap="round"/>
<line x1="1273.2" y1="818.0" x2="1346.9" y2="818.0" stroke="#fff" stroke-width="6.5" stroke-linecap="butt"/>
<text transform="translate(1360.7 836.1) scale(0.9945 1)">AlCrN800</text>
<text x="1587.4" y="835.2" font-family="'Noto Serif CJK SC', 'Liberation Serif', serif" font-size="45">℃</text>
<line x1="1272.7" y1="878.4" x2="1347.4" y2="878.4" stroke="#000" stroke-width="15.5" stroke-linecap="round"/>
<text transform="translate(1360.7 896.5) scale(0.9945 1)">TiAlSiN/AlCrN500</text>
<text x="1763.0" y="895.6" font-family="'Noto Serif CJK SC', 'Liberation Serif', serif" font-size="45">℃</text>
<line x1="1272.7" y1="939.0" x2="1347.4" y2="939.0" stroke="#000" stroke-width="14.5" stroke-linecap="round"/>
<line x1="1273.2" y1="939.0" x2="1346.9" y2="939.0" stroke="#fff" stroke-width="6.5" stroke-linecap="butt"/>
<text transform="translate(1360.7 957.1) scale(0.9945 1)">TiAlSiN/AlCrN800</text>
<text x="1763.0" y="956.2" font-family="'Noto Serif CJK SC', 'Liberation Serif', serif" font-size="45">℃</text>
</g>
<rect x="240" y="1254.9" width="10" height="1" fill="#fff"/><rect x="1825" y="1254.9" width="10" height="1" fill="#fff"/>
<g font-family="'Liberation Sans', sans-serif" font-size="57" fill="#000">
<text transform="translate(203.1 1229.3) scale(0.95 1)" text-anchor="end">0.1</text>
<text transform="translate(203.1 1046.7) scale(0.95 1)" text-anchor="end">0.2</text>
<text transform="translate(203.1 864.1) scale(0.95 1)" text-anchor="end">0.3</text>
<text transform="translate(203.1 681.5) scale(0.95 1)" text-anchor="end">0.4</text>
<text transform="translate(203.1 498.9) scale(0.95 1)" text-anchor="end">0.5</text>
<text transform="translate(203.1 316.3) scale(0.95 1)" text-anchor="end">0.6</text>
<text transform="translate(203.1 133.7) scale(0.95 1)" text-anchor="end">0.7</text>
<text transform="translate(244.9 1374.4) scale(0.93 1)" text-anchor="middle">0</text>
<text transform="translate(561.8 1374.4) scale(0.93 1)" text-anchor="middle">200</text>
<text transform="translate(878.7 1374.4) scale(0.93 1)" text-anchor="middle">400</text>
<text transform="translate(1195.7 1374.4) scale(0.93 1)" text-anchor="middle">600</text>
<text transform="translate(1512.6 1374.4) scale(0.93 1)" text-anchor="middle">800</text>
<text transform="translate(1829.5 1374.4) scale(0.93 1)" text-anchor="middle">1000</text>
</g>
<text transform="translate(1036.6 1444.8) scale(1.023 1)" text-anchor="middle" font-family="'Liberation Sans', sans-serif" font-size="66" fill="#000">Time(s)</text>
<text transform="translate(94.8 665.2) rotate(-90)" text-anchor="middle" font-family="'Liberation Sans', sans-serif" font-size="84.65" fill="#000">Friction coefficient</text>
</svg>
</body></html>
